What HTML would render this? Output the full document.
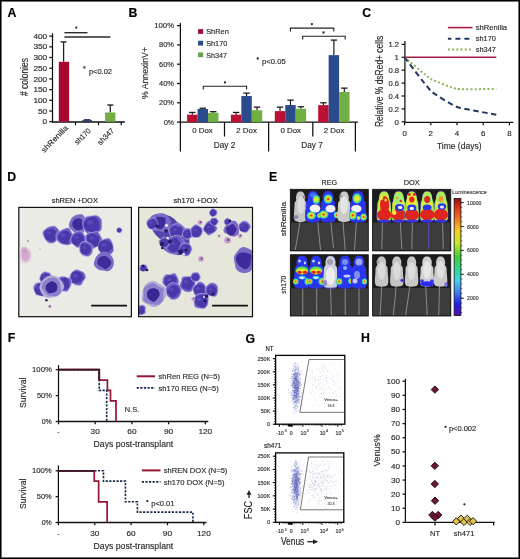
<!DOCTYPE html>
<html><head><meta charset="utf-8"><style>
html,body{margin:0;padding:0;background:#fff;}
body{width:520px;height:559px;overflow:hidden;}
svg{display:block;font-family:"Liberation Sans", sans-serif;will-change:transform;}
</style></head><body>
<svg width="520" height="559" viewBox="0 0 520 559">
<defs>
<filter id="b05" x="-50%" y="-50%" width="200%" height="200%"><feGaussianBlur stdDeviation="0.45"/></filter>
<filter id="b1" x="-50%" y="-50%" width="200%" height="200%"><feGaussianBlur stdDeviation="0.7"/></filter>
<filter id="b2" x="-50%" y="-50%" width="200%" height="200%"><feGaussianBlur stdDeviation="1.2"/></filter>
<filter id="b3" x="-50%" y="-50%" width="200%" height="200%"><feGaussianBlur stdDeviation="2"/></filter>
<clipPath id="cD1"><rect x="18.8" y="207.4" width="112.6" height="109.3"/></clipPath>
<clipPath id="cD2"><rect x="138.6" y="207.4" width="113.9" height="109.3"/></clipPath>
<clipPath id="cE1"><rect x="290.3" y="189.3" width="78" height="61.6"/></clipPath>
<clipPath id="cE2"><rect x="372.6" y="189.3" width="78.2" height="61.6"/></clipPath>
<clipPath id="cE3"><rect x="290.3" y="254.7" width="78" height="61.3"/></clipPath>
<clipPath id="cE4"><rect x="372.6" y="254.7" width="78.2" height="61.3"/></clipPath>
<linearGradient id="cbar" x1="0" y1="0" x2="0" y2="1">
<stop offset="0" stop-color="#8a1010"/><stop offset="0.06" stop-color="#d42a1a"/><stop offset="0.18" stop-color="#f07a20"/>
<stop offset="0.28" stop-color="#f5d020"/><stop offset="0.38" stop-color="#c8e628"/><stop offset="0.5" stop-color="#3ccf3a"/>
<stop offset="0.62" stop-color="#30d8a0"/><stop offset="0.7" stop-color="#40d0f0"/><stop offset="0.8" stop-color="#4080f0"/>
<stop offset="0.9" stop-color="#2020e8"/><stop offset="1" stop-color="#5010b0"/></linearGradient>
</defs>
<rect x="0" y="0" width="520" height="559" fill="#fff"/>
<text x="7.60" y="17.00" font-size="12.3" text-anchor="start" fill="#000" stroke="#000" stroke-width="0.15" font-weight="bold">A</text>
<text x="128.40" y="16.90" font-size="12.3" text-anchor="start" fill="#000" stroke="#000" stroke-width="0.15" font-weight="bold">B</text>
<text x="362.30" y="17.10" font-size="12.3" text-anchor="start" fill="#000" stroke="#000" stroke-width="0.15" font-weight="bold">C</text>
<text x="7.30" y="181.10" font-size="12.3" text-anchor="start" fill="#000" stroke="#000" stroke-width="0.15" font-weight="bold">D</text>
<text x="269.10" y="180.90" font-size="12.3" text-anchor="start" fill="#000" stroke="#000" stroke-width="0.15" font-weight="bold">E</text>
<text x="7.70" y="342.20" font-size="12.3" text-anchor="start" fill="#000" stroke="#000" stroke-width="0.15" font-weight="bold">F</text>
<text x="245.40" y="342.50" font-size="12.3" text-anchor="start" fill="#000" stroke="#000" stroke-width="0.15" font-weight="bold">G</text>
<text x="361.10" y="342.20" font-size="12.3" text-anchor="start" fill="#000" stroke="#000" stroke-width="0.15" font-weight="bold">H</text>
<line x1="52.50" y1="33.30" x2="52.50" y2="122.50" stroke="#111" stroke-width="1.25"/>
<line x1="49.30" y1="121.70" x2="52.50" y2="121.70" stroke="#111" stroke-width="1.25"/>
<text x="47.20" y="124.30" font-size="7.3" text-anchor="end" fill="#2a2a2a" stroke="#2a2a2a" stroke-width="0.15" textLength="4.60" lengthAdjust="spacingAndGlyphs">0</text>
<line x1="49.30" y1="111.00" x2="52.50" y2="111.00" stroke="#111" stroke-width="1.25"/>
<text x="47.20" y="113.60" font-size="7.3" text-anchor="end" fill="#2a2a2a" stroke="#2a2a2a" stroke-width="0.15" textLength="9.20" lengthAdjust="spacingAndGlyphs">50</text>
<line x1="49.30" y1="100.31" x2="52.50" y2="100.31" stroke="#111" stroke-width="1.25"/>
<text x="47.20" y="102.91" font-size="7.3" text-anchor="end" fill="#2a2a2a" stroke="#2a2a2a" stroke-width="0.15" textLength="13.80" lengthAdjust="spacingAndGlyphs">100</text>
<line x1="49.30" y1="89.62" x2="52.50" y2="89.62" stroke="#111" stroke-width="1.25"/>
<text x="47.20" y="92.22" font-size="7.3" text-anchor="end" fill="#2a2a2a" stroke="#2a2a2a" stroke-width="0.15" textLength="13.80" lengthAdjust="spacingAndGlyphs">150</text>
<line x1="49.30" y1="78.92" x2="52.50" y2="78.92" stroke="#111" stroke-width="1.25"/>
<text x="47.20" y="81.52" font-size="7.3" text-anchor="end" fill="#2a2a2a" stroke="#2a2a2a" stroke-width="0.15" textLength="13.80" lengthAdjust="spacingAndGlyphs">200</text>
<line x1="49.30" y1="68.22" x2="52.50" y2="68.22" stroke="#111" stroke-width="1.25"/>
<text x="47.20" y="70.82" font-size="7.3" text-anchor="end" fill="#2a2a2a" stroke="#2a2a2a" stroke-width="0.15" textLength="13.80" lengthAdjust="spacingAndGlyphs">250</text>
<line x1="49.30" y1="57.53" x2="52.50" y2="57.53" stroke="#111" stroke-width="1.25"/>
<text x="47.20" y="60.13" font-size="7.3" text-anchor="end" fill="#2a2a2a" stroke="#2a2a2a" stroke-width="0.15" textLength="13.80" lengthAdjust="spacingAndGlyphs">300</text>
<line x1="49.30" y1="46.83" x2="52.50" y2="46.83" stroke="#111" stroke-width="1.25"/>
<text x="47.20" y="49.43" font-size="7.3" text-anchor="end" fill="#2a2a2a" stroke="#2a2a2a" stroke-width="0.15" textLength="13.80" lengthAdjust="spacingAndGlyphs">350</text>
<line x1="49.30" y1="36.14" x2="52.50" y2="36.14" stroke="#111" stroke-width="1.25"/>
<text x="47.20" y="38.74" font-size="7.3" text-anchor="end" fill="#2a2a2a" stroke="#2a2a2a" stroke-width="0.15" textLength="13.80" lengthAdjust="spacingAndGlyphs">400</text>
<line x1="52.00" y1="122.00" x2="124.80" y2="122.00" stroke="#111" stroke-width="1.4"/>
<line x1="75.50" y1="122.00" x2="75.50" y2="125.20" stroke="#111" stroke-width="1.25"/>
<line x1="98.50" y1="122.00" x2="98.50" y2="125.20" stroke="#111" stroke-width="1.25"/>
<line x1="121.30" y1="122.00" x2="121.30" y2="125.20" stroke="#111" stroke-width="1.25"/>
<line x1="63.60" y1="41.92" x2="63.60" y2="61.81" stroke="#222" stroke-width="1.3"/>
<line x1="60.60" y1="41.92" x2="66.60" y2="41.92" stroke="#222" stroke-width="1.4"/>
<rect x="58.80" y="61.81" width="10.30" height="59.89" fill="#A8082E"/>
<rect x="82.20" y="120.20" width="9.80" height="1.50" fill="#1E2F5C"/>
<line x1="83.80" y1="119.77" x2="90.40" y2="119.77" stroke="#1E2F5C" stroke-width="1.3"/>
<line x1="110.30" y1="105.02" x2="110.30" y2="112.50" stroke="#222" stroke-width="1.3"/>
<line x1="107.30" y1="105.02" x2="113.30" y2="105.02" stroke="#222" stroke-width="1.4"/>
<rect x="105.10" y="112.50" width="10.30" height="9.20" fill="#72AE45"/>
<line x1="64.40" y1="32.70" x2="87.50" y2="32.70" stroke="#2a2a2a" stroke-width="1.35"/>
<line x1="64.40" y1="37.00" x2="110.50" y2="37.00" stroke="#2a2a2a" stroke-width="1.5"/>
<circle cx="76.3" cy="27.6" r="1.1" fill="#222"/>
<text x="84.30" y="70.60" font-size="7" text-anchor="middle" fill="#222" stroke="#222" stroke-width="0.15">*</text>
<text x="88.90" y="73.80" font-size="7.5" text-anchor="start" fill="#2a2a2a" stroke="#2a2a2a" stroke-width="0.15" textLength="23.10" lengthAdjust="spacingAndGlyphs">p&lt;0.02</text>
<text x="68.60" y="128.50" font-size="7.6" text-anchor="end" fill="#2a2a2a" stroke="#2a2a2a" stroke-width="0.15" textLength="34.50" lengthAdjust="spacingAndGlyphs" transform="rotate(-45 68.60 128.50)">shRenilla</text>
<text x="91.40" y="131.30" font-size="7.6" text-anchor="end" fill="#2a2a2a" stroke="#2a2a2a" stroke-width="0.15" textLength="19.50" lengthAdjust="spacingAndGlyphs" transform="rotate(-45 91.40 131.30)">sh170</text>
<text x="114.60" y="131.30" font-size="7.6" text-anchor="end" fill="#2a2a2a" stroke="#2a2a2a" stroke-width="0.15" textLength="20.00" lengthAdjust="spacingAndGlyphs" transform="rotate(-45 114.60 131.30)">sh347</text>
<text x="28.30" y="77.00" font-size="10" text-anchor="middle" fill="#2a2a2a" stroke="#2a2a2a" stroke-width="0.15" textLength="38.10" lengthAdjust="spacingAndGlyphs" transform="rotate(-90 28.30 77.00)"># colonies</text>
<line x1="180.40" y1="22.90" x2="180.40" y2="151.50" stroke="#111" stroke-width="1.25"/>
<line x1="177.00" y1="122.10" x2="180.40" y2="122.10" stroke="#111" stroke-width="1.25"/>
<text x="174.00" y="124.60" font-size="7.4" text-anchor="end" fill="#2a2a2a" stroke="#2a2a2a" stroke-width="0.15" textLength="10.05" lengthAdjust="spacingAndGlyphs">0%</text>
<line x1="177.00" y1="102.80" x2="180.40" y2="102.80" stroke="#111" stroke-width="1.25"/>
<text x="174.00" y="105.30" font-size="7.4" text-anchor="end" fill="#2a2a2a" stroke="#2a2a2a" stroke-width="0.15" textLength="14.90" lengthAdjust="spacingAndGlyphs">20%</text>
<line x1="177.00" y1="83.50" x2="180.40" y2="83.50" stroke="#111" stroke-width="1.25"/>
<text x="174.00" y="86.00" font-size="7.4" text-anchor="end" fill="#2a2a2a" stroke="#2a2a2a" stroke-width="0.15" textLength="14.90" lengthAdjust="spacingAndGlyphs">40%</text>
<line x1="177.00" y1="64.20" x2="180.40" y2="64.20" stroke="#111" stroke-width="1.25"/>
<text x="174.00" y="66.70" font-size="7.4" text-anchor="end" fill="#2a2a2a" stroke="#2a2a2a" stroke-width="0.15" textLength="14.90" lengthAdjust="spacingAndGlyphs">60%</text>
<line x1="177.00" y1="44.90" x2="180.40" y2="44.90" stroke="#111" stroke-width="1.25"/>
<text x="174.00" y="47.40" font-size="7.4" text-anchor="end" fill="#2a2a2a" stroke="#2a2a2a" stroke-width="0.15" textLength="14.90" lengthAdjust="spacingAndGlyphs">80%</text>
<line x1="177.00" y1="25.60" x2="180.40" y2="25.60" stroke="#111" stroke-width="1.25"/>
<text x="174.00" y="28.10" font-size="7.4" text-anchor="end" fill="#2a2a2a" stroke="#2a2a2a" stroke-width="0.15" textLength="19.75" lengthAdjust="spacingAndGlyphs">100%</text>
<line x1="179.90" y1="122.10" x2="358.00" y2="122.10" stroke="#111" stroke-width="1.35"/>
<line x1="224.50" y1="122.00" x2="224.50" y2="136.50" stroke="#111" stroke-width="1.25"/>
<line x1="312.80" y1="122.00" x2="312.80" y2="136.50" stroke="#111" stroke-width="1.25"/>
<line x1="268.60" y1="122.00" x2="268.60" y2="151.50" stroke="#111" stroke-width="1.25"/>
<line x1="355.40" y1="122.00" x2="355.40" y2="151.50" stroke="#111" stroke-width="1.25"/>
<line x1="192.32" y1="112.45" x2="192.32" y2="114.67" stroke="#1a1a1a" stroke-width="1.2"/>
<line x1="189.12" y1="112.45" x2="195.52" y2="112.45" stroke="#1a1a1a" stroke-width="1.3"/>
<rect x="187.10" y="114.67" width="10.45" height="7.43" fill="#BC0F35"/>
<line x1="202.77" y1="108.20" x2="202.77" y2="108.98" stroke="#1a1a1a" stroke-width="1.2"/>
<line x1="199.57" y1="108.20" x2="205.97" y2="108.20" stroke="#1a1a1a" stroke-width="1.3"/>
<rect x="197.55" y="108.98" width="10.45" height="13.12" fill="#2A4C8C"/>
<line x1="213.22" y1="111.68" x2="213.22" y2="112.84" stroke="#1a1a1a" stroke-width="1.2"/>
<line x1="210.03" y1="111.68" x2="216.42" y2="111.68" stroke="#1a1a1a" stroke-width="1.3"/>
<rect x="208.00" y="112.84" width="10.45" height="9.26" fill="#70B043"/>
<line x1="236.12" y1="112.45" x2="236.12" y2="114.67" stroke="#1a1a1a" stroke-width="1.2"/>
<line x1="232.93" y1="112.45" x2="239.32" y2="112.45" stroke="#1a1a1a" stroke-width="1.3"/>
<rect x="230.90" y="114.67" width="10.45" height="7.43" fill="#BC0F35"/>
<line x1="246.57" y1="93.15" x2="246.57" y2="96.04" stroke="#1a1a1a" stroke-width="1.2"/>
<line x1="243.38" y1="93.15" x2="249.77" y2="93.15" stroke="#1a1a1a" stroke-width="1.3"/>
<rect x="241.35" y="96.04" width="10.45" height="26.06" fill="#2A4C8C"/>
<line x1="257.03" y1="107.14" x2="257.03" y2="110.23" stroke="#1a1a1a" stroke-width="1.2"/>
<line x1="253.83" y1="107.14" x2="260.23" y2="107.14" stroke="#1a1a1a" stroke-width="1.3"/>
<rect x="251.80" y="110.23" width="10.45" height="11.87" fill="#70B043"/>
<line x1="280.03" y1="107.14" x2="280.03" y2="111.10" stroke="#1a1a1a" stroke-width="1.2"/>
<line x1="276.83" y1="107.14" x2="283.23" y2="107.14" stroke="#1a1a1a" stroke-width="1.3"/>
<rect x="274.80" y="111.10" width="10.45" height="11.00" fill="#BC0F35"/>
<line x1="290.48" y1="100.10" x2="290.48" y2="105.02" stroke="#1a1a1a" stroke-width="1.2"/>
<line x1="287.28" y1="100.10" x2="293.68" y2="100.10" stroke="#1a1a1a" stroke-width="1.3"/>
<rect x="285.25" y="105.02" width="10.45" height="17.08" fill="#2A4C8C"/>
<line x1="300.93" y1="106.76" x2="300.93" y2="108.78" stroke="#1a1a1a" stroke-width="1.2"/>
<line x1="297.73" y1="106.76" x2="304.12" y2="106.76" stroke="#1a1a1a" stroke-width="1.3"/>
<rect x="295.70" y="108.78" width="10.45" height="13.32" fill="#70B043"/>
<line x1="323.43" y1="102.80" x2="323.43" y2="105.12" stroke="#1a1a1a" stroke-width="1.2"/>
<line x1="320.23" y1="102.80" x2="326.62" y2="102.80" stroke="#1a1a1a" stroke-width="1.3"/>
<rect x="318.20" y="105.12" width="10.45" height="16.98" fill="#BC0F35"/>
<line x1="333.88" y1="40.08" x2="333.88" y2="55.13" stroke="#1a1a1a" stroke-width="1.2"/>
<line x1="330.68" y1="40.08" x2="337.07" y2="40.08" stroke="#1a1a1a" stroke-width="1.3"/>
<rect x="328.65" y="55.13" width="10.45" height="66.97" fill="#2A4C8C"/>
<line x1="344.32" y1="88.13" x2="344.32" y2="91.99" stroke="#1a1a1a" stroke-width="1.2"/>
<line x1="341.12" y1="88.13" x2="347.52" y2="88.13" stroke="#1a1a1a" stroke-width="1.3"/>
<rect x="339.10" y="91.99" width="10.45" height="30.11" fill="#70B043"/>
<path d="M203.3,89.60000000000001 L203.3,86.2 L246.6,86.2 L246.6,89.60000000000001" stroke="#222" stroke-width="1.1" fill="none"/>
<circle cx="225" cy="82.4" r="1.15" fill="#222"/>
<path d="M290.4,31.5 L290.4,28.1 L333.8,28.1 L333.8,31.5" stroke="#222" stroke-width="1.1" fill="none"/>
<circle cx="311.9" cy="24.1" r="1.15" fill="#222"/>
<path d="M302.7,39.6 L302.7,36.2 L345.2,36.2 L345.2,39.6" stroke="#222" stroke-width="1.1" fill="none"/>
<circle cx="323.5" cy="32.5" r="1.15" fill="#222"/>
<text x="202.45" y="132.50" font-size="7.6" text-anchor="middle" fill="#2a2a2a" stroke="#2a2a2a" stroke-width="0.15" textLength="20.60" lengthAdjust="spacingAndGlyphs">0 Dox</text>
<text x="246.55" y="132.50" font-size="7.6" text-anchor="middle" fill="#2a2a2a" stroke="#2a2a2a" stroke-width="0.15" textLength="20.60" lengthAdjust="spacingAndGlyphs">2 Dox</text>
<text x="290.70" y="132.50" font-size="7.6" text-anchor="middle" fill="#2a2a2a" stroke="#2a2a2a" stroke-width="0.15" textLength="20.60" lengthAdjust="spacingAndGlyphs">0 Dox</text>
<text x="334.10" y="132.50" font-size="7.6" text-anchor="middle" fill="#2a2a2a" stroke="#2a2a2a" stroke-width="0.15" textLength="20.60" lengthAdjust="spacingAndGlyphs">2 Dox</text>
<text x="224.50" y="148.40" font-size="9.2" text-anchor="middle" fill="#2a2a2a" stroke="#2a2a2a" stroke-width="0.15" textLength="21.60" lengthAdjust="spacingAndGlyphs">Day 2</text>
<text x="312.00" y="148.40" font-size="9.2" text-anchor="middle" fill="#2a2a2a" stroke="#2a2a2a" stroke-width="0.15" textLength="21.60" lengthAdjust="spacingAndGlyphs">Day 7</text>
<rect x="198.10" y="29.10" width="5.00" height="4.80" fill="#A01034"/>
<text x="206.20" y="34.20" font-size="7.6" text-anchor="start" fill="#2a2a2a" stroke="#2a2a2a" stroke-width="0.15" textLength="22.60" lengthAdjust="spacingAndGlyphs">ShRen</text>
<rect x="198.10" y="40.75" width="5.00" height="4.80" fill="#2A4A82"/>
<text x="206.20" y="45.85" font-size="7.6" text-anchor="start" fill="#2a2a2a" stroke="#2a2a2a" stroke-width="0.15" textLength="21.10" lengthAdjust="spacingAndGlyphs">Sh170</text>
<rect x="198.10" y="52.40" width="5.00" height="4.80" fill="#64A048"/>
<text x="206.20" y="57.50" font-size="7.6" text-anchor="start" fill="#2a2a2a" stroke="#2a2a2a" stroke-width="0.15" textLength="20.70" lengthAdjust="spacingAndGlyphs">Sh347</text>
<text x="148.20" y="73.00" font-size="8.9" text-anchor="middle" fill="#2a2a2a" stroke="#2a2a2a" stroke-width="0.15" textLength="51.80" lengthAdjust="spacingAndGlyphs" transform="rotate(-90 148.20 73.00)">% AnnexinV+</text>
<circle cx="257.7" cy="58.5" r="1.15" fill="#222"/>
<text x="262.00" y="63.90" font-size="7.6" text-anchor="start" fill="#2a2a2a" stroke="#2a2a2a" stroke-width="0.15" textLength="23.80" lengthAdjust="spacingAndGlyphs">p&lt;0.05</text>
<line x1="404.90" y1="41.00" x2="404.90" y2="122.60" stroke="#111" stroke-width="1.25"/>
<line x1="401.60" y1="121.80" x2="404.90" y2="121.80" stroke="#111" stroke-width="1.25"/>
<text x="399.00" y="124.50" font-size="7.8" text-anchor="end" fill="#2a2a2a" stroke="#2a2a2a" stroke-width="0.15" textLength="4.40" lengthAdjust="spacingAndGlyphs">0</text>
<line x1="401.60" y1="108.90" x2="404.90" y2="108.90" stroke="#111" stroke-width="1.25"/>
<text x="399.00" y="111.60" font-size="7.8" text-anchor="end" fill="#2a2a2a" stroke="#2a2a2a" stroke-width="0.15" textLength="10.60" lengthAdjust="spacingAndGlyphs">0.2</text>
<line x1="401.60" y1="96.00" x2="404.90" y2="96.00" stroke="#111" stroke-width="1.25"/>
<text x="399.00" y="98.70" font-size="7.8" text-anchor="end" fill="#2a2a2a" stroke="#2a2a2a" stroke-width="0.15" textLength="10.60" lengthAdjust="spacingAndGlyphs">0.4</text>
<line x1="401.60" y1="83.10" x2="404.90" y2="83.10" stroke="#111" stroke-width="1.25"/>
<text x="399.00" y="85.80" font-size="7.8" text-anchor="end" fill="#2a2a2a" stroke="#2a2a2a" stroke-width="0.15" textLength="10.60" lengthAdjust="spacingAndGlyphs">0.6</text>
<line x1="401.60" y1="70.20" x2="404.90" y2="70.20" stroke="#111" stroke-width="1.25"/>
<text x="399.00" y="72.90" font-size="7.8" text-anchor="end" fill="#2a2a2a" stroke="#2a2a2a" stroke-width="0.15" textLength="10.60" lengthAdjust="spacingAndGlyphs">0.8</text>
<line x1="401.60" y1="57.30" x2="404.90" y2="57.30" stroke="#111" stroke-width="1.25"/>
<text x="399.00" y="60.00" font-size="7.8" text-anchor="end" fill="#2a2a2a" stroke="#2a2a2a" stroke-width="0.15" textLength="4.40" lengthAdjust="spacingAndGlyphs">1</text>
<line x1="401.60" y1="44.40" x2="404.90" y2="44.40" stroke="#111" stroke-width="1.25"/>
<text x="399.00" y="47.10" font-size="7.8" text-anchor="end" fill="#2a2a2a" stroke="#2a2a2a" stroke-width="0.15" textLength="10.60" lengthAdjust="spacingAndGlyphs">1.2</text>
<line x1="404.30" y1="122.30" x2="513.30" y2="122.30" stroke="#111" stroke-width="1.35"/>
<line x1="404.60" y1="122.30" x2="404.60" y2="125.30" stroke="#111" stroke-width="1.25"/>
<text x="404.60" y="135.50" font-size="7.8" text-anchor="middle" fill="#2a2a2a" stroke="#2a2a2a" stroke-width="0.15" textLength="4.40" lengthAdjust="spacingAndGlyphs">0</text>
<line x1="430.80" y1="122.30" x2="430.80" y2="125.30" stroke="#111" stroke-width="1.25"/>
<text x="430.80" y="135.50" font-size="7.8" text-anchor="middle" fill="#2a2a2a" stroke="#2a2a2a" stroke-width="0.15" textLength="4.40" lengthAdjust="spacingAndGlyphs">2</text>
<line x1="457.00" y1="122.30" x2="457.00" y2="125.30" stroke="#111" stroke-width="1.25"/>
<text x="457.00" y="135.50" font-size="7.8" text-anchor="middle" fill="#2a2a2a" stroke="#2a2a2a" stroke-width="0.15" textLength="4.40" lengthAdjust="spacingAndGlyphs">4</text>
<line x1="483.20" y1="122.30" x2="483.20" y2="125.30" stroke="#111" stroke-width="1.25"/>
<text x="483.20" y="135.50" font-size="7.8" text-anchor="middle" fill="#2a2a2a" stroke="#2a2a2a" stroke-width="0.15" textLength="4.40" lengthAdjust="spacingAndGlyphs">6</text>
<line x1="509.40" y1="122.30" x2="509.40" y2="125.30" stroke="#111" stroke-width="1.25"/>
<text x="509.40" y="135.50" font-size="7.8" text-anchor="middle" fill="#2a2a2a" stroke="#2a2a2a" stroke-width="0.15" textLength="4.40" lengthAdjust="spacingAndGlyphs">8</text>
<text x="459.20" y="149.00" font-size="9.4" text-anchor="middle" fill="#2a2a2a" stroke="#2a2a2a" stroke-width="0.15" textLength="44.60" lengthAdjust="spacingAndGlyphs">Time (days)</text>
<text x="382.60" y="81.40" font-size="10.4" text-anchor="middle" fill="#2a2a2a" stroke="#2a2a2a" stroke-width="0.15" textLength="91.40" lengthAdjust="spacingAndGlyphs" transform="rotate(-90 382.60 81.40)">Relative % dsRed+ cells</text>
<line x1="404.90" y1="57.30" x2="496.30" y2="57.30" stroke="#A31A43" stroke-width="1.6"/>
<path d="M404.60,57.30 C406.35,58.74 427.31,76.80 430.80,78.91 C434.29,81.01 452.63,88.24 457.00,88.91 C461.37,89.57 493.68,88.91 496.30,88.91" stroke="#8DB35E" stroke-width="2.0" fill="none" stroke-dasharray="2 2.2"/>
<path d="M404.60,57.30 C406.35,59.54 427.31,87.53 430.80,90.84 C434.29,94.15 452.63,105.37 457.00,106.97 C461.37,108.56 493.68,114.19 496.30,114.70" stroke="#22385F" stroke-width="2.0" fill="none" stroke-dasharray="5.5 3.5"/>
<line x1="447.90" y1="27.60" x2="472.50" y2="27.60" stroke="#A31A43" stroke-width="1.6"/>
<line x1="447.90" y1="38.80" x2="472.50" y2="38.80" stroke="#22385F" stroke-width="2.0" stroke-dasharray="3.5 4 5 4 5 4"/>
<line x1="447.90" y1="49.60" x2="472.50" y2="49.60" stroke="#8DB35E" stroke-width="2.0" stroke-dasharray="2 2.2"/>
<text x="475.80" y="29.80" font-size="7.6" text-anchor="start" fill="#2a2a2a" stroke="#2a2a2a" stroke-width="0.15" textLength="31.30" lengthAdjust="spacingAndGlyphs">shRenilla</text>
<text x="475.80" y="41.20" font-size="7.6" text-anchor="start" fill="#2a2a2a" stroke="#2a2a2a" stroke-width="0.15" textLength="20.20" lengthAdjust="spacingAndGlyphs">sh170</text>
<text x="475.80" y="52.00" font-size="7.6" text-anchor="start" fill="#2a2a2a" stroke="#2a2a2a" stroke-width="0.15" textLength="20.20" lengthAdjust="spacingAndGlyphs">sh347</text>
<line x1="58.50" y1="365.10" x2="58.50" y2="422.00" stroke="#111" stroke-width="1.25"/>
<line x1="55.70" y1="421.50" x2="58.50" y2="421.50" stroke="#111" stroke-width="1.25"/>
<text x="51.80" y="424.00" font-size="7.4" text-anchor="end" fill="#2a2a2a" stroke="#2a2a2a" stroke-width="0.15" textLength="10.05" lengthAdjust="spacingAndGlyphs">0%</text>
<line x1="55.70" y1="395.60" x2="58.50" y2="395.60" stroke="#111" stroke-width="1.25"/>
<text x="51.80" y="398.10" font-size="7.4" text-anchor="end" fill="#2a2a2a" stroke="#2a2a2a" stroke-width="0.15" textLength="14.90" lengthAdjust="spacingAndGlyphs">50%</text>
<line x1="55.70" y1="369.70" x2="58.50" y2="369.70" stroke="#111" stroke-width="1.25"/>
<text x="51.80" y="372.20" font-size="7.4" text-anchor="end" fill="#2a2a2a" stroke="#2a2a2a" stroke-width="0.15" textLength="19.75" lengthAdjust="spacingAndGlyphs">100%</text>
<line x1="58.00" y1="421.50" x2="208.30" y2="421.50" stroke="#111" stroke-width="1.35"/>
<line x1="58.50" y1="421.50" x2="58.50" y2="424.30" stroke="#111" stroke-width="1.25"/>
<text x="58.50" y="433.60" font-size="7.4" text-anchor="middle" fill="#2a2a2a" stroke="#2a2a2a" stroke-width="0.15">-</text>
<line x1="95.20" y1="421.50" x2="95.20" y2="424.30" stroke="#111" stroke-width="1.25"/>
<text x="95.20" y="433.60" font-size="7.4" text-anchor="middle" fill="#2a2a2a" stroke="#2a2a2a" stroke-width="0.15" textLength="9.20" lengthAdjust="spacingAndGlyphs">30</text>
<line x1="131.90" y1="421.50" x2="131.90" y2="424.30" stroke="#111" stroke-width="1.25"/>
<text x="131.90" y="433.60" font-size="7.4" text-anchor="middle" fill="#2a2a2a" stroke="#2a2a2a" stroke-width="0.15" textLength="9.20" lengthAdjust="spacingAndGlyphs">60</text>
<line x1="168.60" y1="421.50" x2="168.60" y2="424.30" stroke="#111" stroke-width="1.25"/>
<text x="168.60" y="433.60" font-size="7.4" text-anchor="middle" fill="#2a2a2a" stroke="#2a2a2a" stroke-width="0.15" textLength="9.20" lengthAdjust="spacingAndGlyphs">90</text>
<line x1="205.30" y1="421.50" x2="205.30" y2="424.30" stroke="#111" stroke-width="1.25"/>
<text x="205.30" y="433.60" font-size="7.4" text-anchor="middle" fill="#2a2a2a" stroke="#2a2a2a" stroke-width="0.15" textLength="13.80" lengthAdjust="spacingAndGlyphs">120</text>
<text x="133.40" y="447.40" font-size="9.5" text-anchor="middle" fill="#2a2a2a" stroke="#2a2a2a" stroke-width="0.15" textLength="79.60" lengthAdjust="spacingAndGlyphs">Days post-transplant</text>
<text x="25.60" y="392.80" font-size="9.2" text-anchor="middle" fill="#2a2a2a" stroke="#2a2a2a" stroke-width="0.15" textLength="30.40" lengthAdjust="spacingAndGlyphs" transform="rotate(-90 25.60 392.80)">Survival</text>
<line x1="58.40" y1="465.40" x2="58.40" y2="523.00" stroke="#111" stroke-width="1.25"/>
<line x1="55.60" y1="522.50" x2="58.40" y2="522.50" stroke="#111" stroke-width="1.25"/>
<text x="51.70" y="525.00" font-size="7.4" text-anchor="end" fill="#2a2a2a" stroke="#2a2a2a" stroke-width="0.15" textLength="10.05" lengthAdjust="spacingAndGlyphs">0%</text>
<line x1="55.60" y1="496.65" x2="58.40" y2="496.65" stroke="#111" stroke-width="1.25"/>
<text x="51.70" y="499.15" font-size="7.4" text-anchor="end" fill="#2a2a2a" stroke="#2a2a2a" stroke-width="0.15" textLength="14.90" lengthAdjust="spacingAndGlyphs">50%</text>
<line x1="55.60" y1="470.80" x2="58.40" y2="470.80" stroke="#111" stroke-width="1.25"/>
<text x="51.70" y="473.30" font-size="7.4" text-anchor="end" fill="#2a2a2a" stroke="#2a2a2a" stroke-width="0.15" textLength="19.75" lengthAdjust="spacingAndGlyphs">100%</text>
<line x1="57.90" y1="522.50" x2="206.50" y2="522.50" stroke="#111" stroke-width="1.35"/>
<line x1="58.40" y1="522.50" x2="58.40" y2="525.30" stroke="#111" stroke-width="1.25"/>
<text x="58.40" y="535.90" font-size="7.4" text-anchor="middle" fill="#2a2a2a" stroke="#2a2a2a" stroke-width="0.15">-</text>
<line x1="94.76" y1="522.50" x2="94.76" y2="525.30" stroke="#111" stroke-width="1.25"/>
<text x="94.76" y="535.90" font-size="7.4" text-anchor="middle" fill="#2a2a2a" stroke="#2a2a2a" stroke-width="0.15" textLength="9.20" lengthAdjust="spacingAndGlyphs">30</text>
<line x1="131.12" y1="522.50" x2="131.12" y2="525.30" stroke="#111" stroke-width="1.25"/>
<text x="131.12" y="535.90" font-size="7.4" text-anchor="middle" fill="#2a2a2a" stroke="#2a2a2a" stroke-width="0.15" textLength="9.20" lengthAdjust="spacingAndGlyphs">60</text>
<line x1="167.48" y1="522.50" x2="167.48" y2="525.30" stroke="#111" stroke-width="1.25"/>
<text x="167.48" y="535.90" font-size="7.4" text-anchor="middle" fill="#2a2a2a" stroke="#2a2a2a" stroke-width="0.15" textLength="9.20" lengthAdjust="spacingAndGlyphs">90</text>
<line x1="203.84" y1="522.50" x2="203.84" y2="525.30" stroke="#111" stroke-width="1.25"/>
<text x="203.84" y="535.90" font-size="7.4" text-anchor="middle" fill="#2a2a2a" stroke="#2a2a2a" stroke-width="0.15" textLength="13.80" lengthAdjust="spacingAndGlyphs">120</text>
<text x="133.40" y="549.40" font-size="9.5" text-anchor="middle" fill="#2a2a2a" stroke="#2a2a2a" stroke-width="0.15" textLength="79.60" lengthAdjust="spacingAndGlyphs">Days post-transplant</text>
<text x="25.60" y="493.85" font-size="9.2" text-anchor="middle" fill="#2a2a2a" stroke="#2a2a2a" stroke-width="0.15" textLength="30.40" lengthAdjust="spacingAndGlyphs" transform="rotate(-90 25.60 493.85)">Survival</text>
<path d="M58.50,369.70 L99.24,369.70 L99.24,380.06 L107.43,380.06 L107.43,390.42 L110.49,390.42 L110.49,400.78 L116.00,400.78 L116.00,421.50" stroke="#931538" stroke-width="1.7" fill="none"/>
<path d="M58.50,369.70 L99.24,369.70 L99.24,390.42 L106.70,390.42 L106.70,421.50" stroke="#18284a" stroke-width="1.6" fill="none" stroke-dasharray="2.2 1.4"/>
<path d="M58.40,470.80 L94.28,470.80 L94.28,481.14 L98.64,481.14 L98.64,501.82 L107.12,501.82 L107.12,522.50" stroke="#931538" stroke-width="1.7" fill="none"/>
<path d="M58.40,470.80 L103.49,470.80 L103.49,481.14 L125.42,481.14 L125.42,501.82 L137.42,501.82 L137.42,512.16 L192.93,512.16 L192.93,522.50" stroke="#18284a" stroke-width="1.6" fill="none" stroke-dasharray="2.2 1.4"/>
<path d="M58.50,369.70 L99.24,369.70 L99.24,380.06" stroke="#3a1426" stroke-width="1.7" fill="none"/>
<path d="M58.40,470.80 L94.28,470.80" stroke="#3a1426" stroke-width="1.7" fill="none"/>
<line x1="136.70" y1="376.30" x2="155.00" y2="376.30" stroke="#931538" stroke-width="2.0"/>
<line x1="136.70" y1="387.90" x2="155.00" y2="387.90" stroke="#18284a" stroke-width="1.6" stroke-dasharray="2.2 1.4"/>
<text x="158.50" y="379.20" font-size="7.6" text-anchor="start" fill="#2a2a2a" stroke="#2a2a2a" stroke-width="0.15" textLength="61.50" lengthAdjust="spacingAndGlyphs">shRen REG (N=5)</text>
<text x="158.50" y="390.60" font-size="7.6" text-anchor="start" fill="#2a2a2a" stroke="#2a2a2a" stroke-width="0.15" textLength="60.30" lengthAdjust="spacingAndGlyphs">sh170 REG (N=5)</text>
<text x="124.80" y="412.30" font-size="7.6" text-anchor="start" fill="#2a2a2a" stroke="#2a2a2a" stroke-width="0.15" textLength="14.40" lengthAdjust="spacingAndGlyphs">N.S.</text>
<line x1="141.80" y1="470.40" x2="160.50" y2="470.40" stroke="#931538" stroke-width="2.0"/>
<line x1="141.80" y1="481.90" x2="160.50" y2="481.90" stroke="#18284a" stroke-width="1.6" stroke-dasharray="2.2 1.4"/>
<text x="163.80" y="473.30" font-size="7.6" text-anchor="start" fill="#2a2a2a" stroke="#2a2a2a" stroke-width="0.15" textLength="63.60" lengthAdjust="spacingAndGlyphs">shREN DOX (N=5)</text>
<text x="163.80" y="484.80" font-size="7.6" text-anchor="start" fill="#2a2a2a" stroke="#2a2a2a" stroke-width="0.15" textLength="60.70" lengthAdjust="spacingAndGlyphs">sh170 DOX (N=5)</text>
<circle cx="147.3" cy="501.1" r="1.15" fill="#222"/>
<text x="151.30" y="505.70" font-size="7.6" text-anchor="start" fill="#2a2a2a" stroke="#2a2a2a" stroke-width="0.15" textLength="23.10" lengthAdjust="spacingAndGlyphs">p&lt;0.01</text>
<g fill="#5a64b8" fill-opacity="0.33"><rect x="292.8" y="389.8" width="0.9" height="0.9"/><rect x="297.9" y="380.4" width="0.9" height="0.9"/><rect x="292.5" y="385.1" width="0.9" height="0.9"/><rect x="296.7" y="397.3" width="0.9" height="0.9"/><rect x="292.8" y="372.2" width="0.9" height="0.9"/><rect x="297.2" y="390.8" width="0.9" height="0.9"/><rect x="299.1" y="396.1" width="0.9" height="0.9"/><rect x="295.4" y="382.9" width="0.9" height="0.9"/><rect x="293.8" y="373.8" width="0.9" height="0.9"/><rect x="295.8" y="387.3" width="0.9" height="0.9"/><rect x="294.8" y="385.1" width="0.9" height="0.9"/><rect x="296.2" y="393.1" width="0.9" height="0.9"/><rect x="298.1" y="388.0" width="0.9" height="0.9"/><rect x="291.5" y="393.2" width="0.9" height="0.9"/><rect x="292.3" y="384.0" width="0.9" height="0.9"/><rect x="292.2" y="385.8" width="0.9" height="0.9"/><rect x="293.8" y="388.0" width="0.9" height="0.9"/><rect x="297.5" y="371.9" width="0.9" height="0.9"/><rect x="294.9" y="392.8" width="0.9" height="0.9"/><rect x="295.4" y="389.7" width="0.9" height="0.9"/><rect x="295.8" y="375.2" width="0.9" height="0.9"/><rect x="296.9" y="377.3" width="0.9" height="0.9"/><rect x="299.9" y="380.5" width="0.9" height="0.9"/><rect x="297.2" y="385.8" width="0.9" height="0.9"/><rect x="297.8" y="379.5" width="0.9" height="0.9"/><rect x="297.9" y="384.5" width="0.9" height="0.9"/><rect x="298.5" y="392.4" width="0.9" height="0.9"/><rect x="295.9" y="377.6" width="0.9" height="0.9"/><rect x="297.4" y="390.7" width="0.9" height="0.9"/><rect x="299.4" y="381.8" width="0.9" height="0.9"/><rect x="296.9" y="391.1" width="0.9" height="0.9"/><rect x="296.3" y="388.0" width="0.9" height="0.9"/><rect x="296.0" y="379.5" width="0.9" height="0.9"/><rect x="293.3" y="381.6" width="0.9" height="0.9"/><rect x="297.0" y="401.7" width="0.9" height="0.9"/><rect x="297.8" y="396.9" width="0.9" height="0.9"/><rect x="297.4" y="393.1" width="0.9" height="0.9"/><rect x="296.0" y="393.9" width="0.9" height="0.9"/><rect x="299.7" y="382.4" width="0.9" height="0.9"/><rect x="294.0" y="406.4" width="0.9" height="0.9"/><rect x="296.2" y="396.0" width="0.9" height="0.9"/><rect x="297.6" y="373.9" width="0.9" height="0.9"/><rect x="301.2" y="404.4" width="0.9" height="0.9"/><rect x="296.0" y="393.7" width="0.9" height="0.9"/><rect x="295.9" y="376.5" width="0.9" height="0.9"/><rect x="295.3" y="389.7" width="0.9" height="0.9"/><rect x="298.2" y="393.2" width="0.9" height="0.9"/><rect x="295.7" y="400.0" width="0.9" height="0.9"/><rect x="293.9" y="394.1" width="0.9" height="0.9"/><rect x="298.2" y="382.7" width="0.9" height="0.9"/><rect x="291.5" y="376.3" width="0.9" height="0.9"/><rect x="296.1" y="391.3" width="0.9" height="0.9"/><rect x="299.2" y="375.3" width="0.9" height="0.9"/><rect x="295.6" y="392.6" width="0.9" height="0.9"/><rect x="297.5" y="410.1" width="0.9" height="0.9"/><rect x="297.9" y="376.2" width="0.9" height="0.9"/><rect x="294.7" y="388.1" width="0.9" height="0.9"/><rect x="301.3" y="392.3" width="0.9" height="0.9"/><rect x="295.9" y="402.2" width="0.9" height="0.9"/><rect x="295.4" y="405.3" width="0.9" height="0.9"/><rect x="294.0" y="380.8" width="0.9" height="0.9"/><rect x="297.3" y="400.8" width="0.9" height="0.9"/><rect x="297.1" y="389.0" width="0.9" height="0.9"/><rect x="291.4" y="378.3" width="0.9" height="0.9"/><rect x="294.2" y="380.2" width="0.9" height="0.9"/><rect x="296.9" y="382.3" width="0.9" height="0.9"/><rect x="297.4" y="386.7" width="0.9" height="0.9"/><rect x="294.8" y="387.0" width="0.9" height="0.9"/><rect x="296.6" y="394.8" width="0.9" height="0.9"/><rect x="294.5" y="383.4" width="0.9" height="0.9"/><rect x="292.5" y="402.6" width="0.9" height="0.9"/><rect x="298.9" y="383.9" width="0.9" height="0.9"/><rect x="294.5" y="372.8" width="0.9" height="0.9"/><rect x="296.0" y="388.0" width="0.9" height="0.9"/><rect x="300.6" y="388.4" width="0.9" height="0.9"/><rect x="298.8" y="387.8" width="0.9" height="0.9"/><rect x="291.9" y="387.7" width="0.9" height="0.9"/><rect x="298.2" y="391.8" width="0.9" height="0.9"/><rect x="295.2" y="363.3" width="0.9" height="0.9"/><rect x="295.3" y="369.5" width="0.9" height="0.9"/><rect x="297.0" y="363.3" width="0.9" height="0.9"/><rect x="293.5" y="398.6" width="0.9" height="0.9"/><rect x="299.4" y="373.4" width="0.9" height="0.9"/><rect x="292.1" y="395.0" width="0.9" height="0.9"/><rect x="297.6" y="375.4" width="0.9" height="0.9"/><rect x="294.0" y="378.5" width="0.9" height="0.9"/><rect x="292.9" y="378.7" width="0.9" height="0.9"/><rect x="298.5" y="393.0" width="0.9" height="0.9"/><rect x="300.3" y="384.9" width="0.9" height="0.9"/><rect x="295.3" y="375.5" width="0.9" height="0.9"/><rect x="295.3" y="372.0" width="0.9" height="0.9"/><rect x="291.5" y="393.1" width="0.9" height="0.9"/><rect x="298.9" y="394.6" width="0.9" height="0.9"/><rect x="298.7" y="388.4" width="0.9" height="0.9"/><rect x="293.9" y="386.7" width="0.9" height="0.9"/><rect x="294.7" y="374.1" width="0.9" height="0.9"/><rect x="291.7" y="370.2" width="0.9" height="0.9"/><rect x="295.6" y="387.4" width="0.9" height="0.9"/><rect x="294.5" y="400.8" width="0.9" height="0.9"/><rect x="296.0" y="391.9" width="0.9" height="0.9"/><rect x="298.4" y="377.2" width="0.9" height="0.9"/><rect x="291.1" y="393.7" width="0.9" height="0.9"/><rect x="294.0" y="399.6" width="0.9" height="0.9"/><rect x="296.4" y="396.4" width="0.9" height="0.9"/><rect x="297.4" y="364.0" width="0.9" height="0.9"/><rect x="297.3" y="378.7" width="0.9" height="0.9"/><rect x="293.9" y="381.2" width="0.9" height="0.9"/><rect x="297.4" y="395.1" width="0.9" height="0.9"/><rect x="297.9" y="368.4" width="0.9" height="0.9"/><rect x="295.4" y="392.1" width="0.9" height="0.9"/><rect x="293.8" y="388.4" width="0.9" height="0.9"/><rect x="296.1" y="396.4" width="0.9" height="0.9"/><rect x="293.7" y="377.1" width="0.9" height="0.9"/><rect x="293.8" y="404.2" width="0.9" height="0.9"/><rect x="298.1" y="384.5" width="0.9" height="0.9"/><rect x="296.1" y="387.0" width="0.9" height="0.9"/><rect x="296.1" y="383.6" width="0.9" height="0.9"/><rect x="294.8" y="372.6" width="0.9" height="0.9"/><rect x="294.1" y="403.1" width="0.9" height="0.9"/><rect x="296.8" y="386.5" width="0.9" height="0.9"/><rect x="295.1" y="386.5" width="0.9" height="0.9"/><rect x="296.4" y="379.0" width="0.9" height="0.9"/><rect x="296.1" y="388.3" width="0.9" height="0.9"/><rect x="293.9" y="377.5" width="0.9" height="0.9"/><rect x="293.3" y="374.6" width="0.9" height="0.9"/><rect x="295.0" y="379.4" width="0.9" height="0.9"/><rect x="294.2" y="386.8" width="0.9" height="0.9"/><rect x="298.2" y="386.6" width="0.9" height="0.9"/><rect x="295.3" y="379.4" width="0.9" height="0.9"/><rect x="295.3" y="395.4" width="0.9" height="0.9"/><rect x="294.7" y="373.8" width="0.9" height="0.9"/><rect x="292.7" y="374.2" width="0.9" height="0.9"/><rect x="292.4" y="397.3" width="0.9" height="0.9"/><rect x="296.4" y="383.3" width="0.9" height="0.9"/><rect x="299.0" y="378.9" width="0.9" height="0.9"/><rect x="297.3" y="394.2" width="0.9" height="0.9"/><rect x="292.0" y="369.5" width="0.9" height="0.9"/><rect x="293.5" y="395.3" width="0.9" height="0.9"/><rect x="298.6" y="372.9" width="0.9" height="0.9"/><rect x="298.0" y="381.8" width="0.9" height="0.9"/><rect x="294.7" y="380.0" width="0.9" height="0.9"/><rect x="294.9" y="366.7" width="0.9" height="0.9"/><rect x="293.3" y="372.8" width="0.9" height="0.9"/><rect x="296.7" y="407.7" width="0.9" height="0.9"/><rect x="291.6" y="381.5" width="0.9" height="0.9"/><rect x="293.4" y="406.6" width="0.9" height="0.9"/><rect x="296.9" y="378.1" width="0.9" height="0.9"/><rect x="297.8" y="391.4" width="0.9" height="0.9"/><rect x="291.9" y="380.2" width="0.9" height="0.9"/><rect x="295.0" y="386.0" width="0.9" height="0.9"/><rect x="295.9" y="382.2" width="0.9" height="0.9"/><rect x="296.0" y="379.6" width="0.9" height="0.9"/><rect x="293.5" y="401.7" width="0.9" height="0.9"/><rect x="296.4" y="390.4" width="0.9" height="0.9"/><rect x="291.9" y="384.1" width="0.9" height="0.9"/><rect x="297.5" y="372.2" width="0.9" height="0.9"/><rect x="298.1" y="381.7" width="0.9" height="0.9"/><rect x="296.5" y="384.4" width="0.9" height="0.9"/><rect x="296.1" y="398.4" width="0.9" height="0.9"/><rect x="294.7" y="402.2" width="0.9" height="0.9"/><rect x="293.8" y="376.0" width="0.9" height="0.9"/><rect x="297.2" y="374.6" width="0.9" height="0.9"/><rect x="294.7" y="395.3" width="0.9" height="0.9"/><rect x="298.4" y="367.2" width="0.9" height="0.9"/><rect x="296.8" y="405.6" width="0.9" height="0.9"/><rect x="298.3" y="383.3" width="0.9" height="0.9"/><rect x="294.2" y="382.7" width="0.9" height="0.9"/><rect x="292.9" y="383.0" width="0.9" height="0.9"/><rect x="295.2" y="384.3" width="0.9" height="0.9"/><rect x="298.3" y="383.4" width="0.9" height="0.9"/><rect x="292.2" y="396.8" width="0.9" height="0.9"/><rect x="293.1" y="381.1" width="0.9" height="0.9"/><rect x="295.3" y="382.2" width="0.9" height="0.9"/><rect x="293.3" y="383.2" width="0.9" height="0.9"/><rect x="300.6" y="379.4" width="0.9" height="0.9"/><rect x="295.3" y="397.6" width="0.9" height="0.9"/><rect x="297.3" y="393.8" width="0.9" height="0.9"/><rect x="297.6" y="365.1" width="0.9" height="0.9"/><rect x="293.6" y="387.1" width="0.9" height="0.9"/><rect x="296.7" y="399.4" width="0.9" height="0.9"/><rect x="296.7" y="383.3" width="0.9" height="0.9"/><rect x="295.7" y="383.6" width="0.9" height="0.9"/><rect x="296.2" y="392.9" width="0.9" height="0.9"/><rect x="294.8" y="377.3" width="0.9" height="0.9"/><rect x="293.6" y="397.3" width="0.9" height="0.9"/><rect x="298.5" y="396.2" width="0.9" height="0.9"/><rect x="297.6" y="394.5" width="0.9" height="0.9"/><rect x="295.6" y="392.8" width="0.9" height="0.9"/><rect x="293.2" y="383.7" width="0.9" height="0.9"/><rect x="293.9" y="393.4" width="0.9" height="0.9"/><rect x="294.3" y="384.7" width="0.9" height="0.9"/><rect x="296.5" y="400.0" width="0.9" height="0.9"/><rect x="293.8" y="375.9" width="0.9" height="0.9"/><rect x="297.5" y="374.2" width="0.9" height="0.9"/><rect x="296.6" y="379.8" width="0.9" height="0.9"/><rect x="295.4" y="366.7" width="0.9" height="0.9"/><rect x="297.2" y="380.5" width="0.9" height="0.9"/><rect x="293.5" y="407.6" width="0.9" height="0.9"/><rect x="296.5" y="382.1" width="0.9" height="0.9"/><rect x="295.8" y="402.7" width="0.9" height="0.9"/><rect x="295.5" y="390.5" width="0.9" height="0.9"/><rect x="296.8" y="376.2" width="0.9" height="0.9"/><rect x="295.9" y="380.5" width="0.9" height="0.9"/><rect x="292.7" y="395.0" width="0.9" height="0.9"/><rect x="297.1" y="386.6" width="0.9" height="0.9"/><rect x="293.5" y="364.7" width="0.9" height="0.9"/><rect x="296.7" y="384.8" width="0.9" height="0.9"/><rect x="291.7" y="385.2" width="0.9" height="0.9"/><rect x="292.1" y="385.5" width="0.9" height="0.9"/><rect x="295.9" y="389.5" width="0.9" height="0.9"/><rect x="296.1" y="387.6" width="0.9" height="0.9"/><rect x="293.0" y="381.8" width="0.9" height="0.9"/><rect x="294.4" y="383.3" width="0.9" height="0.9"/><rect x="296.2" y="392.3" width="0.9" height="0.9"/><rect x="296.5" y="383.7" width="0.9" height="0.9"/><rect x="300.8" y="395.6" width="0.9" height="0.9"/><rect x="291.8" y="390.0" width="0.9" height="0.9"/><rect x="294.4" y="396.2" width="0.9" height="0.9"/><rect x="293.2" y="384.7" width="0.9" height="0.9"/><rect x="295.3" y="384.8" width="0.9" height="0.9"/><rect x="294.3" y="366.5" width="0.9" height="0.9"/><rect x="296.7" y="396.3" width="0.9" height="0.9"/><rect x="295.4" y="375.1" width="0.9" height="0.9"/><rect x="296.1" y="391.7" width="0.9" height="0.9"/><rect x="295.2" y="385.7" width="0.9" height="0.9"/><rect x="298.8" y="374.1" width="0.9" height="0.9"/><rect x="294.3" y="365.8" width="0.9" height="0.9"/><rect x="294.0" y="378.0" width="0.9" height="0.9"/><rect x="293.4" y="378.5" width="0.9" height="0.9"/><rect x="299.7" y="383.7" width="0.9" height="0.9"/><rect x="295.3" y="408.9" width="0.9" height="0.9"/><rect x="295.5" y="367.6" width="0.9" height="0.9"/><rect x="296.5" y="376.0" width="0.9" height="0.9"/><rect x="299.4" y="372.7" width="0.9" height="0.9"/><rect x="294.3" y="368.9" width="0.9" height="0.9"/><rect x="295.8" y="375.1" width="0.9" height="0.9"/><rect x="295.4" y="381.8" width="0.9" height="0.9"/><rect x="294.2" y="395.7" width="0.9" height="0.9"/><rect x="297.8" y="386.5" width="0.9" height="0.9"/><rect x="293.5" y="374.6" width="0.9" height="0.9"/><rect x="296.2" y="410.9" width="0.9" height="0.9"/><rect x="294.5" y="377.6" width="0.9" height="0.9"/><rect x="294.0" y="374.3" width="0.9" height="0.9"/><rect x="293.4" y="383.6" width="0.9" height="0.9"/><rect x="298.9" y="385.8" width="0.9" height="0.9"/><rect x="294.4" y="368.8" width="0.9" height="0.9"/><rect x="296.1" y="385.5" width="0.9" height="0.9"/><rect x="292.8" y="374.4" width="0.9" height="0.9"/><rect x="295.5" y="396.4" width="0.9" height="0.9"/><rect x="297.0" y="388.0" width="0.9" height="0.9"/><rect x="294.9" y="389.2" width="0.9" height="0.9"/><rect x="295.6" y="408.6" width="0.9" height="0.9"/><rect x="293.0" y="381.9" width="0.9" height="0.9"/><rect x="298.5" y="383.0" width="0.9" height="0.9"/><rect x="298.9" y="385.3" width="0.9" height="0.9"/><rect x="295.9" y="381.9" width="0.9" height="0.9"/><rect x="292.4" y="375.6" width="0.9" height="0.9"/><rect x="300.7" y="392.6" width="0.9" height="0.9"/><rect x="297.0" y="395.8" width="0.9" height="0.9"/><rect x="296.9" y="396.5" width="0.9" height="0.9"/><rect x="295.0" y="383.5" width="0.9" height="0.9"/><rect x="297.9" y="382.1" width="0.9" height="0.9"/><rect x="292.5" y="383.4" width="0.9" height="0.9"/><rect x="294.3" y="392.2" width="0.9" height="0.9"/><rect x="293.9" y="374.7" width="0.9" height="0.9"/><rect x="294.8" y="402.1" width="0.9" height="0.9"/><rect x="295.5" y="387.5" width="0.9" height="0.9"/><rect x="295.6" y="388.9" width="0.9" height="0.9"/><rect x="297.7" y="400.5" width="0.9" height="0.9"/><rect x="291.8" y="400.1" width="0.9" height="0.9"/><rect x="295.6" y="382.4" width="0.9" height="0.9"/><rect x="301.1" y="384.0" width="0.9" height="0.9"/><rect x="300.1" y="396.0" width="0.9" height="0.9"/><rect x="293.2" y="390.9" width="0.9" height="0.9"/><rect x="297.3" y="384.5" width="0.9" height="0.9"/><rect x="290.2" y="382.2" width="0.9" height="0.9"/><rect x="295.2" y="374.2" width="0.9" height="0.9"/><rect x="299.8" y="383.2" width="0.9" height="0.9"/><rect x="294.7" y="382.7" width="0.9" height="0.9"/><rect x="293.8" y="377.6" width="0.9" height="0.9"/><rect x="295.8" y="389.1" width="0.9" height="0.9"/><rect x="294.4" y="384.8" width="0.9" height="0.9"/><rect x="292.4" y="391.3" width="0.9" height="0.9"/><rect x="293.9" y="388.1" width="0.9" height="0.9"/><rect x="293.5" y="380.4" width="0.9" height="0.9"/><rect x="296.1" y="373.1" width="0.9" height="0.9"/><rect x="301.3" y="385.4" width="0.9" height="0.9"/><rect x="295.4" y="378.1" width="0.9" height="0.9"/><rect x="299.3" y="400.4" width="0.9" height="0.9"/><rect x="296.3" y="371.4" width="0.9" height="0.9"/><rect x="294.4" y="392.3" width="0.9" height="0.9"/><rect x="294.4" y="373.4" width="0.9" height="0.9"/><rect x="292.9" y="377.7" width="0.9" height="0.9"/><rect x="295.6" y="379.0" width="0.9" height="0.9"/><rect x="299.7" y="374.9" width="0.9" height="0.9"/><rect x="296.4" y="386.7" width="0.9" height="0.9"/><rect x="295.3" y="396.8" width="0.9" height="0.9"/><rect x="294.8" y="382.4" width="0.9" height="0.9"/><rect x="294.7" y="384.7" width="0.9" height="0.9"/><rect x="298.6" y="394.0" width="0.9" height="0.9"/><rect x="292.5" y="381.2" width="0.9" height="0.9"/><rect x="293.8" y="394.4" width="0.9" height="0.9"/><rect x="296.1" y="395.1" width="0.9" height="0.9"/><rect x="295.5" y="365.8" width="0.9" height="0.9"/><rect x="296.6" y="388.2" width="0.9" height="0.9"/><rect x="296.8" y="372.1" width="0.9" height="0.9"/><rect x="295.8" y="378.6" width="0.9" height="0.9"/><rect x="294.0" y="389.5" width="0.9" height="0.9"/><rect x="296.4" y="376.4" width="0.9" height="0.9"/><rect x="294.3" y="397.6" width="0.9" height="0.9"/><rect x="295.5" y="362.2" width="0.9" height="0.9"/><rect x="293.6" y="390.2" width="0.9" height="0.9"/><rect x="299.4" y="398.1" width="0.9" height="0.9"/><rect x="296.4" y="387.9" width="0.9" height="0.9"/><rect x="293.2" y="381.1" width="0.9" height="0.9"/><rect x="294.8" y="377.7" width="0.9" height="0.9"/><rect x="295.7" y="381.7" width="0.9" height="0.9"/><rect x="296.4" y="400.9" width="0.9" height="0.9"/><rect x="297.3" y="390.2" width="0.9" height="0.9"/><rect x="295.0" y="369.8" width="0.9" height="0.9"/><rect x="295.3" y="391.5" width="0.9" height="0.9"/><rect x="293.3" y="399.0" width="0.9" height="0.9"/><rect x="294.8" y="389.7" width="0.9" height="0.9"/><rect x="294.8" y="372.6" width="0.9" height="0.9"/><rect x="300.4" y="373.6" width="0.9" height="0.9"/><rect x="297.7" y="380.0" width="0.9" height="0.9"/><rect x="296.2" y="377.3" width="0.9" height="0.9"/><rect x="294.6" y="395.5" width="0.9" height="0.9"/><rect x="300.1" y="376.9" width="0.9" height="0.9"/><rect x="295.6" y="395.7" width="0.9" height="0.9"/><rect x="294.1" y="393.3" width="0.9" height="0.9"/><rect x="293.8" y="392.1" width="0.9" height="0.9"/><rect x="296.6" y="398.5" width="0.9" height="0.9"/><rect x="296.4" y="373.3" width="0.9" height="0.9"/><rect x="297.1" y="374.2" width="0.9" height="0.9"/><rect x="297.3" y="401.7" width="0.9" height="0.9"/><rect x="297.0" y="380.0" width="0.9" height="0.9"/><rect x="298.3" y="387.6" width="0.9" height="0.9"/><rect x="292.7" y="382.1" width="0.9" height="0.9"/><rect x="298.9" y="382.6" width="0.9" height="0.9"/><rect x="295.9" y="382.2" width="0.9" height="0.9"/><rect x="291.7" y="380.4" width="0.9" height="0.9"/><rect x="296.4" y="388.0" width="0.9" height="0.9"/><rect x="295.2" y="363.4" width="0.9" height="0.9"/><rect x="298.4" y="393.4" width="0.9" height="0.9"/><rect x="298.0" y="399.5" width="0.9" height="0.9"/><rect x="294.6" y="379.5" width="0.9" height="0.9"/><rect x="296.3" y="403.4" width="0.9" height="0.9"/><rect x="291.7" y="383.4" width="0.9" height="0.9"/><rect x="294.0" y="391.7" width="0.9" height="0.9"/><rect x="299.0" y="382.7" width="0.9" height="0.9"/><rect x="292.7" y="386.3" width="0.9" height="0.9"/><rect x="294.9" y="369.6" width="0.9" height="0.9"/><rect x="297.6" y="380.3" width="0.9" height="0.9"/><rect x="297.2" y="372.0" width="0.9" height="0.9"/><rect x="298.1" y="370.7" width="0.9" height="0.9"/><rect x="298.0" y="366.8" width="0.9" height="0.9"/><rect x="298.8" y="381.9" width="0.9" height="0.9"/><rect x="292.0" y="383.3" width="0.9" height="0.9"/><rect x="296.4" y="375.4" width="0.9" height="0.9"/><rect x="294.5" y="388.6" width="0.9" height="0.9"/><rect x="294.6" y="390.3" width="0.9" height="0.9"/><rect x="296.3" y="396.4" width="0.9" height="0.9"/><rect x="294.0" y="412.6" width="0.9" height="0.9"/><rect x="297.4" y="389.1" width="0.9" height="0.9"/><rect x="298.1" y="395.8" width="0.9" height="0.9"/><rect x="295.8" y="379.3" width="0.9" height="0.9"/><rect x="298.0" y="390.2" width="0.9" height="0.9"/><rect x="291.2" y="374.2" width="0.9" height="0.9"/><rect x="296.7" y="386.9" width="0.9" height="0.9"/><rect x="296.2" y="392.5" width="0.9" height="0.9"/><rect x="295.9" y="402.4" width="0.9" height="0.9"/><rect x="294.2" y="381.6" width="0.9" height="0.9"/><rect x="296.3" y="393.6" width="0.9" height="0.9"/><rect x="297.4" y="401.4" width="0.9" height="0.9"/><rect x="294.5" y="398.1" width="0.9" height="0.9"/><rect x="296.7" y="374.9" width="0.9" height="0.9"/><rect x="295.3" y="407.7" width="0.9" height="0.9"/><rect x="297.4" y="380.9" width="0.9" height="0.9"/><rect x="290.1" y="378.1" width="0.9" height="0.9"/><rect x="294.0" y="386.6" width="0.9" height="0.9"/><rect x="300.9" y="393.6" width="0.9" height="0.9"/><rect x="296.3" y="376.0" width="0.9" height="0.9"/><rect x="292.9" y="383.6" width="0.9" height="0.9"/><rect x="294.7" y="379.3" width="0.9" height="0.9"/><rect x="298.2" y="386.6" width="0.9" height="0.9"/><rect x="292.8" y="399.3" width="0.9" height="0.9"/><rect x="294.9" y="371.8" width="0.9" height="0.9"/><rect x="296.3" y="390.9" width="0.9" height="0.9"/><rect x="294.8" y="393.1" width="0.9" height="0.9"/><rect x="297.5" y="376.5" width="0.9" height="0.9"/><rect x="295.3" y="398.7" width="0.9" height="0.9"/><rect x="297.9" y="400.4" width="0.9" height="0.9"/><rect x="299.9" y="386.0" width="0.9" height="0.9"/><rect x="298.0" y="369.7" width="0.9" height="0.9"/><rect x="297.2" y="389.9" width="0.9" height="0.9"/><rect x="295.4" y="381.2" width="0.9" height="0.9"/><rect x="293.0" y="387.3" width="0.9" height="0.9"/><rect x="298.5" y="381.9" width="0.9" height="0.9"/><rect x="296.8" y="378.8" width="0.9" height="0.9"/><rect x="296.2" y="375.2" width="0.9" height="0.9"/><rect x="296.5" y="383.5" width="0.9" height="0.9"/><rect x="296.3" y="379.4" width="0.9" height="0.9"/><rect x="292.9" y="382.3" width="0.9" height="0.9"/><rect x="298.0" y="402.4" width="0.9" height="0.9"/><rect x="294.9" y="394.2" width="0.9" height="0.9"/><rect x="297.3" y="389.9" width="0.9" height="0.9"/><rect x="292.0" y="389.2" width="0.9" height="0.9"/><rect x="293.4" y="398.2" width="0.9" height="0.9"/><rect x="297.4" y="392.3" width="0.9" height="0.9"/><rect x="289.8" y="392.3" width="0.9" height="0.9"/><rect x="297.2" y="372.4" width="0.9" height="0.9"/><rect x="297.8" y="386.6" width="0.9" height="0.9"/><rect x="295.2" y="378.3" width="0.9" height="0.9"/><rect x="293.3" y="381.2" width="0.9" height="0.9"/><rect x="296.1" y="379.0" width="0.9" height="0.9"/><rect x="294.2" y="380.0" width="0.9" height="0.9"/><rect x="293.6" y="395.0" width="0.9" height="0.9"/><rect x="295.0" y="394.9" width="0.9" height="0.9"/><rect x="292.9" y="395.6" width="0.9" height="0.9"/><rect x="295.5" y="392.8" width="0.9" height="0.9"/><rect x="295.4" y="376.5" width="0.9" height="0.9"/><rect x="298.4" y="381.2" width="0.9" height="0.9"/><rect x="295.3" y="376.5" width="0.9" height="0.9"/><rect x="296.1" y="381.7" width="0.9" height="0.9"/><rect x="296.2" y="389.4" width="0.9" height="0.9"/><rect x="294.0" y="371.0" width="0.9" height="0.9"/><rect x="296.6" y="395.4" width="0.9" height="0.9"/><rect x="297.2" y="373.8" width="0.9" height="0.9"/><rect x="297.0" y="389.8" width="0.9" height="0.9"/><rect x="296.3" y="390.3" width="0.9" height="0.9"/><rect x="294.9" y="388.1" width="0.9" height="0.9"/><rect x="297.7" y="380.5" width="0.9" height="0.9"/><rect x="292.3" y="384.7" width="0.9" height="0.9"/><rect x="296.1" y="366.4" width="0.9" height="0.9"/><rect x="294.0" y="392.0" width="0.9" height="0.9"/><rect x="295.3" y="386.8" width="0.9" height="0.9"/><rect x="292.7" y="395.3" width="0.9" height="0.9"/><rect x="299.6" y="383.7" width="0.9" height="0.9"/><rect x="293.9" y="373.6" width="0.9" height="0.9"/><rect x="297.6" y="386.9" width="0.9" height="0.9"/><rect x="293.8" y="398.5" width="0.9" height="0.9"/><rect x="297.4" y="392.1" width="0.9" height="0.9"/><rect x="291.6" y="384.7" width="0.9" height="0.9"/><rect x="297.0" y="372.9" width="0.9" height="0.9"/><rect x="297.7" y="400.8" width="0.9" height="0.9"/><rect x="298.0" y="378.2" width="0.9" height="0.9"/><rect x="294.0" y="395.7" width="0.9" height="0.9"/><rect x="297.9" y="398.7" width="0.9" height="0.9"/><rect x="298.4" y="384.8" width="0.9" height="0.9"/><rect x="294.7" y="366.3" width="0.9" height="0.9"/><rect x="297.4" y="409.7" width="0.9" height="0.9"/><rect x="294.5" y="380.8" width="0.9" height="0.9"/><rect x="297.1" y="389.7" width="0.9" height="0.9"/><rect x="292.4" y="378.3" width="0.9" height="0.9"/><rect x="293.1" y="407.0" width="0.9" height="0.9"/><rect x="294.0" y="394.8" width="0.9" height="0.9"/><rect x="300.0" y="405.7" width="0.9" height="0.9"/><rect x="298.9" y="402.9" width="0.9" height="0.9"/><rect x="292.8" y="382.2" width="0.9" height="0.9"/><rect x="293.9" y="382.8" width="0.9" height="0.9"/><rect x="296.9" y="372.8" width="0.9" height="0.9"/><rect x="298.7" y="399.4" width="0.9" height="0.9"/><rect x="294.4" y="407.5" width="0.9" height="0.9"/><rect x="295.8" y="399.5" width="0.9" height="0.9"/><rect x="296.3" y="379.9" width="0.9" height="0.9"/><rect x="294.7" y="384.6" width="0.9" height="0.9"/><rect x="297.0" y="387.1" width="0.9" height="0.9"/><rect x="301.0" y="383.8" width="0.9" height="0.9"/><rect x="294.5" y="378.2" width="0.9" height="0.9"/><rect x="293.8" y="370.7" width="0.9" height="0.9"/><rect x="293.3" y="395.3" width="0.9" height="0.9"/><rect x="295.7" y="384.0" width="0.9" height="0.9"/><rect x="296.4" y="397.0" width="0.9" height="0.9"/><rect x="297.0" y="393.9" width="0.9" height="0.9"/><rect x="294.3" y="383.1" width="0.9" height="0.9"/><rect x="293.8" y="384.8" width="0.9" height="0.9"/><rect x="293.7" y="381.9" width="0.9" height="0.9"/><rect x="295.2" y="383.5" width="0.9" height="0.9"/><rect x="295.0" y="380.6" width="0.9" height="0.9"/><rect x="298.6" y="382.2" width="0.9" height="0.9"/><rect x="293.3" y="387.8" width="0.9" height="0.9"/><rect x="293.1" y="374.5" width="0.9" height="0.9"/><rect x="295.8" y="368.3" width="0.9" height="0.9"/><rect x="288.2" y="388.8" width="0.9" height="0.9"/><rect x="298.0" y="368.3" width="0.9" height="0.9"/><rect x="293.5" y="391.9" width="0.9" height="0.9"/><rect x="291.0" y="376.6" width="0.9" height="0.9"/><rect x="292.8" y="383.7" width="0.9" height="0.9"/><rect x="291.1" y="395.2" width="0.9" height="0.9"/><rect x="295.3" y="389.0" width="0.9" height="0.9"/><rect x="294.8" y="363.5" width="0.9" height="0.9"/><rect x="295.2" y="371.7" width="0.9" height="0.9"/><rect x="295.6" y="376.8" width="0.9" height="0.9"/><rect x="294.9" y="383.6" width="0.9" height="0.9"/><rect x="297.4" y="393.9" width="0.9" height="0.9"/><rect x="293.3" y="385.6" width="0.9" height="0.9"/><rect x="299.0" y="391.0" width="0.9" height="0.9"/><rect x="293.9" y="384.5" width="0.9" height="0.9"/><rect x="294.8" y="395.7" width="0.9" height="0.9"/><rect x="295.7" y="389.7" width="0.9" height="0.9"/><rect x="300.7" y="371.3" width="0.9" height="0.9"/><rect x="293.3" y="367.6" width="0.9" height="0.9"/><rect x="291.9" y="394.8" width="0.9" height="0.9"/><rect x="296.3" y="402.9" width="0.9" height="0.9"/><rect x="291.1" y="376.5" width="0.9" height="0.9"/><rect x="298.9" y="396.6" width="0.9" height="0.9"/><rect x="297.6" y="395.0" width="0.9" height="0.9"/><rect x="295.7" y="385.7" width="0.9" height="0.9"/><rect x="295.7" y="394.6" width="0.9" height="0.9"/><rect x="295.2" y="389.2" width="0.9" height="0.9"/><rect x="298.9" y="374.0" width="0.9" height="0.9"/><rect x="293.9" y="391.7" width="0.9" height="0.9"/><rect x="295.0" y="384.2" width="0.9" height="0.9"/><rect x="300.4" y="390.2" width="0.9" height="0.9"/><rect x="294.6" y="397.3" width="0.9" height="0.9"/><rect x="301.4" y="374.2" width="0.9" height="0.9"/><rect x="294.1" y="387.0" width="0.9" height="0.9"/><rect x="294.1" y="408.6" width="0.9" height="0.9"/><rect x="296.8" y="381.6" width="0.9" height="0.9"/><rect x="296.7" y="377.4" width="0.9" height="0.9"/><rect x="294.2" y="386.9" width="0.9" height="0.9"/><rect x="301.1" y="362.2" width="0.9" height="0.9"/><rect x="296.6" y="400.0" width="0.9" height="0.9"/><rect x="297.3" y="406.0" width="0.9" height="0.9"/><rect x="296.6" y="387.3" width="0.9" height="0.9"/><rect x="295.3" y="376.8" width="0.9" height="0.9"/><rect x="299.4" y="373.4" width="0.9" height="0.9"/><rect x="295.3" y="380.3" width="0.9" height="0.9"/><rect x="293.8" y="362.5" width="0.9" height="0.9"/><rect x="294.7" y="387.2" width="0.9" height="0.9"/><rect x="295.9" y="394.7" width="0.9" height="0.9"/><rect x="295.2" y="379.1" width="0.9" height="0.9"/><rect x="296.3" y="392.8" width="0.9" height="0.9"/><rect x="293.5" y="369.8" width="0.9" height="0.9"/><rect x="293.2" y="396.9" width="0.9" height="0.9"/><rect x="297.9" y="376.5" width="0.9" height="0.9"/><rect x="295.9" y="394.6" width="0.9" height="0.9"/><rect x="298.7" y="378.9" width="0.9" height="0.9"/><rect x="295.0" y="400.6" width="0.9" height="0.9"/><rect x="301.1" y="401.9" width="0.9" height="0.9"/><rect x="293.0" y="390.5" width="0.9" height="0.9"/><rect x="294.9" y="385.2" width="0.9" height="0.9"/><rect x="294.1" y="380.8" width="0.9" height="0.9"/><rect x="295.6" y="404.7" width="0.9" height="0.9"/><rect x="297.2" y="390.3" width="0.9" height="0.9"/><rect x="295.7" y="377.9" width="0.9" height="0.9"/><rect x="295.1" y="398.8" width="0.9" height="0.9"/><rect x="297.5" y="406.4" width="0.9" height="0.9"/><rect x="296.2" y="385.6" width="0.9" height="0.9"/><rect x="291.9" y="390.0" width="0.9" height="0.9"/><rect x="291.6" y="401.8" width="0.9" height="0.9"/><rect x="294.2" y="385.8" width="0.9" height="0.9"/><rect x="292.5" y="380.6" width="0.9" height="0.9"/><rect x="293.5" y="397.7" width="0.9" height="0.9"/><rect x="296.2" y="373.4" width="0.9" height="0.9"/><rect x="291.2" y="385.1" width="0.9" height="0.9"/><rect x="294.5" y="374.1" width="0.9" height="0.9"/><rect x="297.0" y="383.9" width="0.9" height="0.9"/><rect x="295.9" y="379.6" width="0.9" height="0.9"/><rect x="294.3" y="381.0" width="0.9" height="0.9"/><rect x="291.9" y="392.4" width="0.9" height="0.9"/><rect x="296.5" y="367.7" width="0.9" height="0.9"/><rect x="295.8" y="397.9" width="0.9" height="0.9"/><rect x="296.1" y="399.4" width="0.9" height="0.9"/><rect x="295.0" y="385.8" width="0.9" height="0.9"/><rect x="292.6" y="376.3" width="0.9" height="0.9"/><rect x="291.4" y="376.4" width="0.9" height="0.9"/><rect x="296.2" y="391.3" width="0.9" height="0.9"/><rect x="298.3" y="387.2" width="0.9" height="0.9"/><rect x="293.3" y="390.3" width="0.9" height="0.9"/><rect x="295.3" y="404.5" width="0.9" height="0.9"/><rect x="300.1" y="395.9" width="0.9" height="0.9"/><rect x="293.0" y="380.3" width="0.9" height="0.9"/><rect x="296.0" y="378.3" width="0.9" height="0.9"/><rect x="296.8" y="393.0" width="0.9" height="0.9"/><rect x="297.5" y="388.2" width="0.9" height="0.9"/><rect x="293.6" y="377.0" width="0.9" height="0.9"/><rect x="295.3" y="399.7" width="0.9" height="0.9"/><rect x="299.2" y="396.1" width="0.9" height="0.9"/><rect x="296.4" y="392.9" width="0.9" height="0.9"/><rect x="297.5" y="399.4" width="0.9" height="0.9"/><rect x="297.6" y="369.7" width="0.9" height="0.9"/><rect x="297.8" y="389.8" width="0.9" height="0.9"/><rect x="294.5" y="391.3" width="0.9" height="0.9"/><rect x="296.3" y="385.2" width="0.9" height="0.9"/><rect x="291.7" y="387.0" width="0.9" height="0.9"/><rect x="296.9" y="385.3" width="0.9" height="0.9"/><rect x="291.9" y="390.6" width="0.9" height="0.9"/><rect x="297.3" y="387.7" width="0.9" height="0.9"/><rect x="296.6" y="382.1" width="0.9" height="0.9"/><rect x="294.1" y="391.3" width="0.9" height="0.9"/><rect x="294.8" y="387.7" width="0.9" height="0.9"/><rect x="295.9" y="368.8" width="0.9" height="0.9"/><rect x="295.8" y="393.8" width="0.9" height="0.9"/><rect x="294.0" y="383.3" width="0.9" height="0.9"/><rect x="290.4" y="391.6" width="0.9" height="0.9"/><rect x="294.2" y="393.0" width="0.9" height="0.9"/><rect x="298.7" y="384.1" width="0.9" height="0.9"/><rect x="297.9" y="388.4" width="0.9" height="0.9"/><rect x="295.1" y="382.9" width="0.9" height="0.9"/><rect x="293.6" y="399.3" width="0.9" height="0.9"/><rect x="297.6" y="375.2" width="0.9" height="0.9"/><rect x="297.5" y="378.1" width="0.9" height="0.9"/><rect x="292.1" y="398.4" width="0.9" height="0.9"/><rect x="292.7" y="398.2" width="0.9" height="0.9"/><rect x="296.1" y="395.3" width="0.9" height="0.9"/><rect x="296.8" y="397.9" width="0.9" height="0.9"/><rect x="296.4" y="391.9" width="0.9" height="0.9"/><rect x="296.2" y="397.3" width="0.9" height="0.9"/><rect x="294.7" y="396.5" width="0.9" height="0.9"/><rect x="299.1" y="385.1" width="0.9" height="0.9"/><rect x="296.6" y="380.4" width="0.9" height="0.9"/><rect x="294.9" y="388.5" width="0.9" height="0.9"/><rect x="294.8" y="376.5" width="0.9" height="0.9"/><rect x="295.5" y="387.8" width="0.9" height="0.9"/><rect x="296.3" y="393.3" width="0.9" height="0.9"/><rect x="291.5" y="400.6" width="0.9" height="0.9"/><rect x="295.2" y="377.7" width="0.9" height="0.9"/><rect x="294.7" y="390.4" width="0.9" height="0.9"/><rect x="297.6" y="382.0" width="0.9" height="0.9"/><rect x="296.0" y="369.0" width="0.9" height="0.9"/><rect x="296.0" y="384.6" width="0.9" height="0.9"/><rect x="294.6" y="395.1" width="0.9" height="0.9"/><rect x="299.7" y="396.6" width="0.9" height="0.9"/><rect x="293.8" y="401.8" width="0.9" height="0.9"/><rect x="294.8" y="385.4" width="0.9" height="0.9"/><rect x="294.3" y="390.6" width="0.9" height="0.9"/><rect x="296.9" y="387.3" width="0.9" height="0.9"/><rect x="295.1" y="384.3" width="0.9" height="0.9"/><rect x="294.7" y="396.0" width="0.9" height="0.9"/><rect x="294.4" y="384.3" width="0.9" height="0.9"/><rect x="295.1" y="377.9" width="0.9" height="0.9"/><rect x="295.1" y="370.4" width="0.9" height="0.9"/><rect x="296.5" y="391.5" width="0.9" height="0.9"/><rect x="294.9" y="402.1" width="0.9" height="0.9"/><rect x="293.7" y="391.6" width="0.9" height="0.9"/><rect x="296.7" y="380.2" width="0.9" height="0.9"/><rect x="295.0" y="395.1" width="0.9" height="0.9"/><rect x="295.7" y="388.8" width="0.9" height="0.9"/><rect x="298.8" y="388.1" width="0.9" height="0.9"/><rect x="291.8" y="378.1" width="0.9" height="0.9"/><rect x="297.5" y="384.5" width="0.9" height="0.9"/><rect x="293.1" y="365.1" width="0.9" height="0.9"/><rect x="296.3" y="401.5" width="0.9" height="0.9"/><rect x="292.7" y="363.1" width="0.9" height="0.9"/><rect x="296.7" y="380.1" width="0.9" height="0.9"/><rect x="294.9" y="382.4" width="0.9" height="0.9"/><rect x="293.5" y="390.4" width="0.9" height="0.9"/><rect x="297.7" y="389.6" width="0.9" height="0.9"/><rect x="294.3" y="396.7" width="0.9" height="0.9"/><rect x="295.3" y="391.9" width="0.9" height="0.9"/><rect x="293.5" y="392.7" width="0.9" height="0.9"/><rect x="297.3" y="399.3" width="0.9" height="0.9"/><rect x="295.7" y="390.4" width="0.9" height="0.9"/><rect x="294.3" y="395.0" width="0.9" height="0.9"/><rect x="297.4" y="397.1" width="0.9" height="0.9"/><rect x="294.7" y="373.1" width="0.9" height="0.9"/><rect x="295.4" y="383.6" width="0.9" height="0.9"/><rect x="293.9" y="392.1" width="0.9" height="0.9"/><rect x="297.8" y="389.9" width="0.9" height="0.9"/><rect x="298.1" y="389.9" width="0.9" height="0.9"/><rect x="293.4" y="379.7" width="0.9" height="0.9"/><rect x="294.8" y="392.9" width="0.9" height="0.9"/><rect x="297.7" y="387.2" width="0.9" height="0.9"/><rect x="297.9" y="377.3" width="0.9" height="0.9"/><rect x="295.3" y="401.4" width="0.9" height="0.9"/><rect x="296.6" y="396.7" width="0.9" height="0.9"/><rect x="291.3" y="368.5" width="0.9" height="0.9"/><rect x="293.6" y="396.3" width="0.9" height="0.9"/><rect x="299.3" y="379.4" width="0.9" height="0.9"/><rect x="293.4" y="375.3" width="0.9" height="0.9"/><rect x="293.6" y="391.6" width="0.9" height="0.9"/><rect x="294.9" y="405.3" width="0.9" height="0.9"/><rect x="297.2" y="378.7" width="0.9" height="0.9"/><rect x="296.1" y="384.2" width="0.9" height="0.9"/><rect x="297.4" y="395.2" width="0.9" height="0.9"/><rect x="294.8" y="395.1" width="0.9" height="0.9"/><rect x="296.9" y="384.9" width="0.9" height="0.9"/><rect x="296.2" y="392.9" width="0.9" height="0.9"/><rect x="294.9" y="378.8" width="0.9" height="0.9"/><rect x="298.5" y="385.9" width="0.9" height="0.9"/><rect x="294.3" y="390.6" width="0.9" height="0.9"/><rect x="292.3" y="386.4" width="0.9" height="0.9"/><rect x="292.5" y="381.4" width="0.9" height="0.9"/><rect x="291.6" y="378.4" width="0.9" height="0.9"/><rect x="297.6" y="384.0" width="0.9" height="0.9"/><rect x="292.9" y="403.8" width="0.9" height="0.9"/><rect x="294.2" y="401.2" width="0.9" height="0.9"/><rect x="294.4" y="370.7" width="0.9" height="0.9"/><rect x="299.8" y="381.4" width="0.9" height="0.9"/><rect x="297.3" y="398.1" width="0.9" height="0.9"/><rect x="292.6" y="386.6" width="0.9" height="0.9"/><rect x="294.3" y="392.1" width="0.9" height="0.9"/><rect x="295.6" y="372.8" width="0.9" height="0.9"/><rect x="295.7" y="393.7" width="0.9" height="0.9"/><rect x="294.9" y="391.7" width="0.9" height="0.9"/><rect x="294.4" y="385.3" width="0.9" height="0.9"/><rect x="296.4" y="387.3" width="0.9" height="0.9"/><rect x="298.5" y="395.6" width="0.9" height="0.9"/><rect x="297.5" y="393.3" width="0.9" height="0.9"/><rect x="296.0" y="373.9" width="0.9" height="0.9"/><rect x="298.0" y="403.8" width="0.9" height="0.9"/><rect x="296.1" y="383.3" width="0.9" height="0.9"/><rect x="295.5" y="398.3" width="0.9" height="0.9"/><rect x="296.3" y="375.8" width="0.9" height="0.9"/><rect x="295.2" y="378.0" width="0.9" height="0.9"/><rect x="295.2" y="376.7" width="0.9" height="0.9"/><rect x="293.6" y="401.1" width="0.9" height="0.9"/><rect x="298.0" y="369.3" width="0.9" height="0.9"/><rect x="293.4" y="381.3" width="0.9" height="0.9"/><rect x="294.7" y="371.7" width="0.9" height="0.9"/><rect x="297.6" y="369.3" width="0.9" height="0.9"/><rect x="297.2" y="393.0" width="0.9" height="0.9"/><rect x="294.8" y="379.1" width="0.9" height="0.9"/><rect x="295.8" y="387.4" width="0.9" height="0.9"/><rect x="290.9" y="373.0" width="0.9" height="0.9"/><rect x="296.8" y="384.8" width="0.9" height="0.9"/><rect x="294.7" y="375.7" width="0.9" height="0.9"/><rect x="294.0" y="378.0" width="0.9" height="0.9"/><rect x="299.1" y="390.8" width="0.9" height="0.9"/><rect x="296.1" y="387.9" width="0.9" height="0.9"/><rect x="294.8" y="402.4" width="0.9" height="0.9"/><rect x="296.8" y="385.6" width="0.9" height="0.9"/><rect x="295.3" y="387.9" width="0.9" height="0.9"/><rect x="293.1" y="382.6" width="0.9" height="0.9"/><rect x="294.2" y="392.2" width="0.9" height="0.9"/><rect x="297.0" y="366.7" width="0.9" height="0.9"/><rect x="295.1" y="396.0" width="0.9" height="0.9"/><rect x="292.7" y="373.7" width="0.9" height="0.9"/><rect x="297.9" y="384.6" width="0.9" height="0.9"/><rect x="294.6" y="373.4" width="0.9" height="0.9"/><rect x="296.0" y="380.2" width="0.9" height="0.9"/><rect x="296.1" y="390.3" width="0.9" height="0.9"/><rect x="297.2" y="382.6" width="0.9" height="0.9"/><rect x="294.4" y="386.2" width="0.9" height="0.9"/><rect x="295.4" y="387.7" width="0.9" height="0.9"/><rect x="294.4" y="383.4" width="0.9" height="0.9"/><rect x="294.3" y="379.8" width="0.9" height="0.9"/><rect x="296.0" y="397.7" width="0.9" height="0.9"/><rect x="294.4" y="391.9" width="0.9" height="0.9"/><rect x="296.4" y="387.0" width="0.9" height="0.9"/><rect x="297.1" y="380.2" width="0.9" height="0.9"/><rect x="296.9" y="389.0" width="0.9" height="0.9"/><rect x="287.8" y="389.5" width="0.9" height="0.9"/><rect x="297.0" y="406.0" width="0.9" height="0.9"/><rect x="293.2" y="386.9" width="0.9" height="0.9"/><rect x="296.4" y="375.9" width="0.9" height="0.9"/><rect x="298.3" y="390.5" width="0.9" height="0.9"/><rect x="293.8" y="373.6" width="0.9" height="0.9"/><rect x="294.7" y="410.3" width="0.9" height="0.9"/><rect x="291.5" y="392.7" width="0.9" height="0.9"/><rect x="295.4" y="379.4" width="0.9" height="0.9"/><rect x="297.0" y="386.9" width="0.9" height="0.9"/><rect x="296.3" y="388.6" width="0.9" height="0.9"/><rect x="293.2" y="399.4" width="0.9" height="0.9"/><rect x="294.6" y="397.5" width="0.9" height="0.9"/><rect x="297.2" y="386.3" width="0.9" height="0.9"/><rect x="295.9" y="385.4" width="0.9" height="0.9"/><rect x="291.5" y="382.5" width="0.9" height="0.9"/><rect x="296.6" y="369.3" width="0.9" height="0.9"/><rect x="292.3" y="397.0" width="0.9" height="0.9"/><rect x="297.4" y="370.0" width="0.9" height="0.9"/><rect x="296.7" y="385.4" width="0.9" height="0.9"/><rect x="297.8" y="382.5" width="0.9" height="0.9"/><rect x="295.1" y="378.1" width="0.9" height="0.9"/><rect x="296.0" y="384.6" width="0.9" height="0.9"/><rect x="294.1" y="382.3" width="0.9" height="0.9"/><rect x="293.9" y="392.3" width="0.9" height="0.9"/><rect x="293.3" y="369.8" width="0.9" height="0.9"/><rect x="293.4" y="397.0" width="0.9" height="0.9"/><rect x="294.5" y="392.5" width="0.9" height="0.9"/><rect x="297.3" y="380.6" width="0.9" height="0.9"/><rect x="297.3" y="391.1" width="0.9" height="0.9"/><rect x="295.5" y="378.6" width="0.9" height="0.9"/><rect x="295.5" y="372.6" width="0.9" height="0.9"/><rect x="295.0" y="379.9" width="0.9" height="0.9"/><rect x="296.6" y="389.4" width="0.9" height="0.9"/><rect x="294.2" y="394.8" width="0.9" height="0.9"/><rect x="298.3" y="386.5" width="0.9" height="0.9"/><rect x="293.9" y="391.1" width="0.9" height="0.9"/><rect x="290.1" y="379.8" width="0.9" height="0.9"/><rect x="296.9" y="406.6" width="0.9" height="0.9"/><rect x="293.9" y="401.7" width="0.9" height="0.9"/><rect x="300.9" y="405.4" width="0.9" height="0.9"/><rect x="290.3" y="397.2" width="0.9" height="0.9"/><rect x="296.0" y="396.4" width="0.9" height="0.9"/><rect x="295.2" y="379.5" width="0.9" height="0.9"/><rect x="295.1" y="401.4" width="0.9" height="0.9"/><rect x="297.5" y="382.8" width="0.9" height="0.9"/><rect x="296.5" y="394.8" width="0.9" height="0.9"/><rect x="296.9" y="385.4" width="0.9" height="0.9"/><rect x="294.1" y="378.1" width="0.9" height="0.9"/><rect x="294.6" y="380.1" width="0.9" height="0.9"/><rect x="292.0" y="371.2" width="0.9" height="0.9"/><rect x="297.6" y="374.2" width="0.9" height="0.9"/><rect x="292.6" y="385.4" width="0.9" height="0.9"/><rect x="298.9" y="399.0" width="0.9" height="0.9"/><rect x="294.7" y="375.1" width="0.9" height="0.9"/><rect x="294.4" y="376.4" width="0.9" height="0.9"/><rect x="294.4" y="390.8" width="0.9" height="0.9"/><rect x="293.2" y="377.7" width="0.9" height="0.9"/><rect x="295.0" y="385.5" width="0.9" height="0.9"/><rect x="293.9" y="377.6" width="0.9" height="0.9"/><rect x="293.0" y="378.0" width="0.9" height="0.9"/><rect x="296.8" y="383.3" width="0.9" height="0.9"/><rect x="288.5" y="392.3" width="0.9" height="0.9"/><rect x="295.4" y="376.7" width="0.9" height="0.9"/><rect x="291.8" y="398.0" width="0.9" height="0.9"/><rect x="300.5" y="408.6" width="0.9" height="0.9"/><rect x="293.9" y="386.2" width="0.9" height="0.9"/><rect x="297.4" y="373.0" width="0.9" height="0.9"/><rect x="299.6" y="378.3" width="0.9" height="0.9"/><rect x="296.4" y="373.8" width="0.9" height="0.9"/><rect x="296.4" y="385.6" width="0.9" height="0.9"/><rect x="298.1" y="373.7" width="0.9" height="0.9"/><rect x="295.6" y="404.9" width="0.9" height="0.9"/><rect x="292.9" y="389.5" width="0.9" height="0.9"/><rect x="296.6" y="380.6" width="0.9" height="0.9"/><rect x="295.0" y="400.6" width="0.9" height="0.9"/><rect x="298.2" y="391.8" width="0.9" height="0.9"/><rect x="296.2" y="373.9" width="0.9" height="0.9"/><rect x="295.8" y="404.6" width="0.9" height="0.9"/><rect x="298.0" y="371.6" width="0.9" height="0.9"/><rect x="290.8" y="378.8" width="0.9" height="0.9"/><rect x="296.0" y="380.0" width="0.9" height="0.9"/><rect x="294.9" y="389.4" width="0.9" height="0.9"/><rect x="297.7" y="388.0" width="0.9" height="0.9"/><rect x="298.5" y="370.9" width="0.9" height="0.9"/><rect x="296.7" y="390.3" width="0.9" height="0.9"/><rect x="292.2" y="399.0" width="0.9" height="0.9"/><rect x="291.9" y="370.6" width="0.9" height="0.9"/><rect x="296.5" y="400.0" width="0.9" height="0.9"/><rect x="298.2" y="373.9" width="0.9" height="0.9"/><rect x="296.7" y="400.5" width="0.9" height="0.9"/><rect x="295.2" y="386.6" width="0.9" height="0.9"/><rect x="294.5" y="393.5" width="0.9" height="0.9"/><rect x="294.3" y="379.6" width="0.9" height="0.9"/><rect x="292.8" y="376.0" width="0.9" height="0.9"/><rect x="296.1" y="390.8" width="0.9" height="0.9"/><rect x="294.7" y="374.8" width="0.9" height="0.9"/><rect x="296.4" y="389.6" width="0.9" height="0.9"/><rect x="298.5" y="380.6" width="0.9" height="0.9"/><rect x="294.6" y="391.2" width="0.9" height="0.9"/><rect x="299.1" y="385.3" width="0.9" height="0.9"/><rect x="295.4" y="375.9" width="0.9" height="0.9"/><rect x="294.7" y="395.8" width="0.9" height="0.9"/><rect x="297.6" y="397.6" width="0.9" height="0.9"/><rect x="291.8" y="394.7" width="0.9" height="0.9"/><rect x="293.5" y="392.1" width="0.9" height="0.9"/><rect x="290.1" y="384.8" width="0.9" height="0.9"/><rect x="293.6" y="399.3" width="0.9" height="0.9"/><rect x="295.9" y="399.6" width="0.9" height="0.9"/><rect x="294.6" y="406.6" width="0.9" height="0.9"/><rect x="294.6" y="405.9" width="0.9" height="0.9"/><rect x="294.5" y="375.4" width="0.9" height="0.9"/><rect x="297.7" y="381.6" width="0.9" height="0.9"/><rect x="295.5" y="371.6" width="0.9" height="0.9"/><rect x="294.8" y="387.0" width="0.9" height="0.9"/><rect x="294.0" y="390.0" width="0.9" height="0.9"/><rect x="290.3" y="395.3" width="0.9" height="0.9"/><rect x="294.7" y="401.4" width="0.9" height="0.9"/><rect x="294.8" y="378.9" width="0.9" height="0.9"/><rect x="294.6" y="388.8" width="0.9" height="0.9"/><rect x="297.0" y="380.9" width="0.9" height="0.9"/><rect x="293.8" y="390.4" width="0.9" height="0.9"/><rect x="297.5" y="367.3" width="0.9" height="0.9"/><rect x="293.2" y="378.7" width="0.9" height="0.9"/><rect x="299.6" y="398.9" width="0.9" height="0.9"/><rect x="297.5" y="391.1" width="0.9" height="0.9"/><rect x="293.0" y="397.7" width="0.9" height="0.9"/><rect x="294.6" y="377.4" width="0.9" height="0.9"/><rect x="300.1" y="370.4" width="0.9" height="0.9"/><rect x="298.8" y="388.0" width="0.9" height="0.9"/><rect x="293.5" y="387.7" width="0.9" height="0.9"/><rect x="293.6" y="387.8" width="0.9" height="0.9"/><rect x="294.1" y="373.2" width="0.9" height="0.9"/><rect x="297.9" y="385.3" width="0.9" height="0.9"/><rect x="297.2" y="372.4" width="0.9" height="0.9"/><rect x="297.9" y="390.5" width="0.9" height="0.9"/><rect x="292.9" y="394.7" width="0.9" height="0.9"/><rect x="296.2" y="395.6" width="0.9" height="0.9"/><rect x="297.0" y="394.0" width="0.9" height="0.9"/><rect x="295.6" y="381.4" width="0.9" height="0.9"/><rect x="297.3" y="399.0" width="0.9" height="0.9"/><rect x="292.9" y="373.7" width="0.9" height="0.9"/><rect x="295.5" y="405.0" width="0.9" height="0.9"/><rect x="295.1" y="367.8" width="0.9" height="0.9"/><rect x="297.5" y="393.9" width="0.9" height="0.9"/><rect x="300.1" y="387.9" width="0.9" height="0.9"/><rect x="300.2" y="378.2" width="0.9" height="0.9"/><rect x="297.7" y="387.3" width="0.9" height="0.9"/><rect x="292.8" y="382.9" width="0.9" height="0.9"/><rect x="298.7" y="397.7" width="0.9" height="0.9"/><rect x="294.7" y="397.6" width="0.9" height="0.9"/><rect x="297.7" y="395.4" width="0.9" height="0.9"/><rect x="296.3" y="389.1" width="0.9" height="0.9"/><rect x="293.7" y="385.1" width="0.9" height="0.9"/><rect x="295.9" y="378.0" width="0.9" height="0.9"/><rect x="294.9" y="387.6" width="0.9" height="0.9"/><rect x="296.1" y="397.1" width="0.9" height="0.9"/><rect x="293.2" y="381.6" width="0.9" height="0.9"/><rect x="296.2" y="381.8" width="0.9" height="0.9"/><rect x="296.4" y="380.9" width="0.9" height="0.9"/><rect x="298.4" y="383.4" width="0.9" height="0.9"/><rect x="293.0" y="393.8" width="0.9" height="0.9"/><rect x="299.5" y="365.4" width="0.9" height="0.9"/><rect x="295.3" y="386.6" width="0.9" height="0.9"/><rect x="298.0" y="401.8" width="0.9" height="0.9"/><rect x="295.2" y="369.3" width="0.9" height="0.9"/><rect x="297.2" y="396.6" width="0.9" height="0.9"/><rect x="296.7" y="386.7" width="0.9" height="0.9"/><rect x="293.7" y="411.8" width="0.9" height="0.9"/><rect x="292.8" y="369.9" width="0.9" height="0.9"/><rect x="297.9" y="388.9" width="0.9" height="0.9"/><rect x="297.2" y="389.7" width="0.9" height="0.9"/><rect x="299.5" y="401.0" width="0.9" height="0.9"/><rect x="294.3" y="396.5" width="0.9" height="0.9"/><rect x="292.9" y="367.8" width="0.9" height="0.9"/><rect x="298.4" y="381.3" width="0.9" height="0.9"/><rect x="290.6" y="385.7" width="0.9" height="0.9"/><rect x="294.1" y="391.3" width="0.9" height="0.9"/><rect x="295.5" y="377.7" width="0.9" height="0.9"/><rect x="294.0" y="394.0" width="0.9" height="0.9"/><rect x="293.5" y="387.2" width="0.9" height="0.9"/></g>
<g fill="#7a80c0" fill-opacity="0.3"><rect x="312.1" y="384.9" width="0.8" height="0.8"/><rect x="340.1" y="386.2" width="0.8" height="0.8"/><rect x="333.3" y="384.9" width="0.8" height="0.8"/><rect x="312.3" y="376.5" width="0.8" height="0.8"/><rect x="322.8" y="384.8" width="0.8" height="0.8"/><rect x="316.0" y="386.7" width="0.8" height="0.8"/><rect x="314.8" y="380.6" width="0.8" height="0.8"/><rect x="322.0" y="367.1" width="0.8" height="0.8"/><rect x="332.2" y="380.4" width="0.8" height="0.8"/><rect x="323.2" y="379.5" width="0.8" height="0.8"/><rect x="313.0" y="390.9" width="0.8" height="0.8"/><rect x="316.2" y="386.6" width="0.8" height="0.8"/><rect x="311.7" y="370.5" width="0.8" height="0.8"/><rect x="317.3" y="391.6" width="0.8" height="0.8"/><rect x="305.3" y="377.9" width="0.8" height="0.8"/><rect x="326.2" y="381.4" width="0.8" height="0.8"/><rect x="321.9" y="388.5" width="0.8" height="0.8"/><rect x="325.0" y="368.7" width="0.8" height="0.8"/><rect x="328.5" y="371.2" width="0.8" height="0.8"/><rect x="318.6" y="396.0" width="0.8" height="0.8"/><rect x="326.4" y="371.2" width="0.8" height="0.8"/><rect x="314.4" y="398.4" width="0.8" height="0.8"/><rect x="325.4" y="364.5" width="0.8" height="0.8"/><rect x="337.9" y="386.3" width="0.8" height="0.8"/><rect x="335.4" y="384.4" width="0.8" height="0.8"/><rect x="320.6" y="378.0" width="0.8" height="0.8"/><rect x="337.3" y="372.4" width="0.8" height="0.8"/><rect x="321.1" y="379.2" width="0.8" height="0.8"/><rect x="321.1" y="368.4" width="0.8" height="0.8"/><rect x="325.4" y="377.6" width="0.8" height="0.8"/><rect x="324.1" y="368.2" width="0.8" height="0.8"/><rect x="322.1" y="369.1" width="0.8" height="0.8"/><rect x="311.9" y="383.6" width="0.8" height="0.8"/><rect x="328.5" y="386.3" width="0.8" height="0.8"/><rect x="321.6" y="375.6" width="0.8" height="0.8"/><rect x="336.1" y="393.7" width="0.8" height="0.8"/><rect x="315.7" y="367.8" width="0.8" height="0.8"/><rect x="325.8" y="383.4" width="0.8" height="0.8"/><rect x="312.9" y="405.2" width="0.8" height="0.8"/><rect x="324.5" y="390.8" width="0.8" height="0.8"/><rect x="303.4" y="375.0" width="0.8" height="0.8"/><rect x="336.5" y="395.5" width="0.8" height="0.8"/><rect x="319.5" y="380.3" width="0.8" height="0.8"/><rect x="313.1" y="384.2" width="0.8" height="0.8"/><rect x="306.7" y="380.5" width="0.8" height="0.8"/><rect x="308.8" y="392.2" width="0.8" height="0.8"/><rect x="335.0" y="390.9" width="0.8" height="0.8"/><rect x="328.7" y="392.4" width="0.8" height="0.8"/><rect x="324.7" y="389.5" width="0.8" height="0.8"/><rect x="326.8" y="388.5" width="0.8" height="0.8"/><rect x="311.8" y="372.6" width="0.8" height="0.8"/><rect x="312.0" y="389.1" width="0.8" height="0.8"/><rect x="327.2" y="371.1" width="0.8" height="0.8"/><rect x="312.1" y="373.5" width="0.8" height="0.8"/><rect x="330.9" y="378.6" width="0.8" height="0.8"/><rect x="319.6" y="372.2" width="0.8" height="0.8"/><rect x="320.9" y="397.6" width="0.8" height="0.8"/><rect x="315.1" y="376.0" width="0.8" height="0.8"/><rect x="339.2" y="387.9" width="0.8" height="0.8"/><rect x="310.6" y="391.9" width="0.8" height="0.8"/><rect x="309.4" y="386.1" width="0.8" height="0.8"/><rect x="331.3" y="373.3" width="0.8" height="0.8"/><rect x="314.8" y="380.5" width="0.8" height="0.8"/><rect x="322.1" y="374.7" width="0.8" height="0.8"/><rect x="315.3" y="399.8" width="0.8" height="0.8"/><rect x="337.1" y="383.5" width="0.8" height="0.8"/><rect x="310.5" y="374.0" width="0.8" height="0.8"/><rect x="319.1" y="385.3" width="0.8" height="0.8"/><rect x="338.2" y="374.1" width="0.8" height="0.8"/><rect x="323.6" y="375.1" width="0.8" height="0.8"/><rect x="323.5" y="372.3" width="0.8" height="0.8"/><rect x="325.9" y="392.7" width="0.8" height="0.8"/><rect x="318.1" y="376.2" width="0.8" height="0.8"/><rect x="323.2" y="365.3" width="0.8" height="0.8"/><rect x="340.3" y="365.0" width="0.8" height="0.8"/><rect x="318.5" y="370.1" width="0.8" height="0.8"/><rect x="337.2" y="374.5" width="0.8" height="0.8"/><rect x="317.0" y="400.8" width="0.8" height="0.8"/><rect x="320.9" y="371.3" width="0.8" height="0.8"/><rect x="322.0" y="382.0" width="0.8" height="0.8"/><rect x="314.6" y="377.9" width="0.8" height="0.8"/><rect x="320.0" y="387.9" width="0.8" height="0.8"/><rect x="329.8" y="389.1" width="0.8" height="0.8"/><rect x="320.8" y="388.7" width="0.8" height="0.8"/><rect x="319.9" y="392.7" width="0.8" height="0.8"/><rect x="326.1" y="375.2" width="0.8" height="0.8"/><rect x="334.5" y="363.1" width="0.8" height="0.8"/><rect x="312.3" y="371.1" width="0.8" height="0.8"/><rect x="320.8" y="366.3" width="0.8" height="0.8"/><rect x="323.2" y="371.4" width="0.8" height="0.8"/><rect x="310.6" y="394.5" width="0.8" height="0.8"/><rect x="323.1" y="391.8" width="0.8" height="0.8"/><rect x="310.9" y="392.7" width="0.8" height="0.8"/><rect x="333.1" y="375.3" width="0.8" height="0.8"/><rect x="313.5" y="375.7" width="0.8" height="0.8"/><rect x="324.7" y="406.5" width="0.8" height="0.8"/><rect x="340.3" y="396.5" width="0.8" height="0.8"/><rect x="319.9" y="376.3" width="0.8" height="0.8"/><rect x="325.8" y="376.8" width="0.8" height="0.8"/><rect x="317.4" y="377.6" width="0.8" height="0.8"/><rect x="330.6" y="379.1" width="0.8" height="0.8"/><rect x="324.5" y="377.0" width="0.8" height="0.8"/><rect x="320.1" y="376.2" width="0.8" height="0.8"/><rect x="334.8" y="382.5" width="0.8" height="0.8"/><rect x="337.1" y="378.0" width="0.8" height="0.8"/><rect x="332.8" y="364.6" width="0.8" height="0.8"/><rect x="318.0" y="379.2" width="0.8" height="0.8"/><rect x="315.7" y="378.6" width="0.8" height="0.8"/><rect x="312.8" y="378.1" width="0.8" height="0.8"/><rect x="315.4" y="379.8" width="0.8" height="0.8"/><rect x="319.1" y="368.8" width="0.8" height="0.8"/><rect x="318.0" y="380.2" width="0.8" height="0.8"/><rect x="309.3" y="381.0" width="0.8" height="0.8"/><rect x="334.6" y="377.4" width="0.8" height="0.8"/><rect x="327.6" y="386.8" width="0.8" height="0.8"/><rect x="314.0" y="394.5" width="0.8" height="0.8"/><rect x="333.5" y="381.4" width="0.8" height="0.8"/><rect x="309.2" y="370.8" width="0.8" height="0.8"/><rect x="311.5" y="369.9" width="0.8" height="0.8"/><rect x="325.9" y="377.9" width="0.8" height="0.8"/><rect x="326.8" y="380.9" width="0.8" height="0.8"/><rect x="324.5" y="380.2" width="0.8" height="0.8"/><rect x="329.3" y="365.1" width="0.8" height="0.8"/><rect x="308.9" y="378.0" width="0.8" height="0.8"/><rect x="325.8" y="379.8" width="0.8" height="0.8"/><rect x="327.1" y="370.1" width="0.8" height="0.8"/><rect x="317.3" y="388.5" width="0.8" height="0.8"/><rect x="339.1" y="381.6" width="0.8" height="0.8"/><rect x="321.0" y="394.4" width="0.8" height="0.8"/><rect x="313.1" y="378.2" width="0.8" height="0.8"/><rect x="317.0" y="369.0" width="0.8" height="0.8"/><rect x="324.0" y="402.4" width="0.8" height="0.8"/><rect x="324.6" y="385.4" width="0.8" height="0.8"/><rect x="321.8" y="392.4" width="0.8" height="0.8"/><rect x="323.9" y="370.1" width="0.8" height="0.8"/><rect x="323.1" y="395.8" width="0.8" height="0.8"/><rect x="321.2" y="393.2" width="0.8" height="0.8"/><rect x="321.4" y="402.3" width="0.8" height="0.8"/><rect x="324.9" y="387.1" width="0.8" height="0.8"/><rect x="319.2" y="389.1" width="0.8" height="0.8"/><rect x="319.8" y="363.5" width="0.8" height="0.8"/><rect x="325.1" y="366.5" width="0.8" height="0.8"/><rect x="337.0" y="388.7" width="0.8" height="0.8"/><rect x="322.2" y="387.5" width="0.8" height="0.8"/><rect x="315.5" y="387.3" width="0.8" height="0.8"/><rect x="317.9" y="383.7" width="0.8" height="0.8"/><rect x="312.7" y="396.3" width="0.8" height="0.8"/><rect x="316.0" y="386.0" width="0.8" height="0.8"/><rect x="308.3" y="369.8" width="0.8" height="0.8"/><rect x="303.7" y="382.9" width="0.8" height="0.8"/><rect x="333.7" y="380.9" width="0.8" height="0.8"/><rect x="319.3" y="382.6" width="0.8" height="0.8"/><rect x="326.8" y="376.7" width="0.8" height="0.8"/><rect x="327.7" y="401.5" width="0.8" height="0.8"/><rect x="309.4" y="401.1" width="0.8" height="0.8"/><rect x="332.0" y="393.3" width="0.8" height="0.8"/><rect x="328.2" y="377.4" width="0.8" height="0.8"/><rect x="331.9" y="392.3" width="0.8" height="0.8"/><rect x="333.9" y="367.9" width="0.8" height="0.8"/><rect x="332.4" y="376.0" width="0.8" height="0.8"/><rect x="318.5" y="383.8" width="0.8" height="0.8"/><rect x="318.6" y="405.5" width="0.8" height="0.8"/><rect x="327.8" y="382.9" width="0.8" height="0.8"/><rect x="320.2" y="382.7" width="0.8" height="0.8"/><rect x="319.8" y="386.3" width="0.8" height="0.8"/><rect x="330.8" y="389.2" width="0.8" height="0.8"/><rect x="309.5" y="376.2" width="0.8" height="0.8"/><rect x="322.9" y="366.4" width="0.8" height="0.8"/><rect x="325.9" y="378.3" width="0.8" height="0.8"/><rect x="322.7" y="384.1" width="0.8" height="0.8"/></g>
<path d="M344.0,359.5 L309,359.5 L299.8,412.3 L344.0,412.3" stroke="#555" stroke-width="0.8" fill="none"/>
<rect x="275.6" y="355.4" width="69.19999999999999" height="68.80000000000001" fill="none" stroke="#000" stroke-width="1.3"/>
<line x1="272.80" y1="424.20" x2="275.60" y2="424.20" stroke="#000" stroke-width="1"/>
<text x="270.30" y="426.10" font-size="5.2" text-anchor="end" fill="#333" stroke="#333" stroke-width="0.15" textLength="3.20" lengthAdjust="spacingAndGlyphs">0</text>
<line x1="272.80" y1="411.10" x2="275.60" y2="411.10" stroke="#000" stroke-width="1"/>
<text x="270.30" y="413.00" font-size="5.2" text-anchor="end" fill="#333" stroke="#333" stroke-width="0.15" textLength="9.60" lengthAdjust="spacingAndGlyphs">50K</text>
<line x1="272.80" y1="398.00" x2="275.60" y2="398.00" stroke="#000" stroke-width="1"/>
<text x="270.30" y="399.90" font-size="5.2" text-anchor="end" fill="#333" stroke="#333" stroke-width="0.15" textLength="12.80" lengthAdjust="spacingAndGlyphs">100K</text>
<line x1="272.80" y1="384.90" x2="275.60" y2="384.90" stroke="#000" stroke-width="1"/>
<text x="270.30" y="386.80" font-size="5.2" text-anchor="end" fill="#333" stroke="#333" stroke-width="0.15" textLength="12.80" lengthAdjust="spacingAndGlyphs">150K</text>
<line x1="272.80" y1="371.80" x2="275.60" y2="371.80" stroke="#000" stroke-width="1"/>
<text x="270.30" y="373.70" font-size="5.2" text-anchor="end" fill="#333" stroke="#333" stroke-width="0.15" textLength="12.80" lengthAdjust="spacingAndGlyphs">200K</text>
<line x1="272.80" y1="358.70" x2="275.60" y2="358.70" stroke="#000" stroke-width="1"/>
<text x="270.30" y="360.60" font-size="5.2" text-anchor="end" fill="#333" stroke="#333" stroke-width="0.15" textLength="12.80" lengthAdjust="spacingAndGlyphs">250K</text>
<line x1="274.00" y1="424.20" x2="275.60" y2="424.20" stroke="#000" stroke-width="0.7"/>
<line x1="274.00" y1="421.58" x2="275.60" y2="421.58" stroke="#000" stroke-width="0.7"/>
<line x1="274.00" y1="418.96" x2="275.60" y2="418.96" stroke="#000" stroke-width="0.7"/>
<line x1="274.00" y1="416.34" x2="275.60" y2="416.34" stroke="#000" stroke-width="0.7"/>
<line x1="274.00" y1="413.72" x2="275.60" y2="413.72" stroke="#000" stroke-width="0.7"/>
<line x1="274.00" y1="411.10" x2="275.60" y2="411.10" stroke="#000" stroke-width="0.7"/>
<line x1="274.00" y1="408.48" x2="275.60" y2="408.48" stroke="#000" stroke-width="0.7"/>
<line x1="274.00" y1="405.86" x2="275.60" y2="405.86" stroke="#000" stroke-width="0.7"/>
<line x1="274.00" y1="403.24" x2="275.60" y2="403.24" stroke="#000" stroke-width="0.7"/>
<line x1="274.00" y1="400.62" x2="275.60" y2="400.62" stroke="#000" stroke-width="0.7"/>
<line x1="274.00" y1="398.00" x2="275.60" y2="398.00" stroke="#000" stroke-width="0.7"/>
<line x1="274.00" y1="395.38" x2="275.60" y2="395.38" stroke="#000" stroke-width="0.7"/>
<line x1="274.00" y1="392.76" x2="275.60" y2="392.76" stroke="#000" stroke-width="0.7"/>
<line x1="274.00" y1="390.14" x2="275.60" y2="390.14" stroke="#000" stroke-width="0.7"/>
<line x1="274.00" y1="387.52" x2="275.60" y2="387.52" stroke="#000" stroke-width="0.7"/>
<line x1="274.00" y1="384.90" x2="275.60" y2="384.90" stroke="#000" stroke-width="0.7"/>
<line x1="274.00" y1="382.28" x2="275.60" y2="382.28" stroke="#000" stroke-width="0.7"/>
<line x1="274.00" y1="379.66" x2="275.60" y2="379.66" stroke="#000" stroke-width="0.7"/>
<line x1="274.00" y1="377.04" x2="275.60" y2="377.04" stroke="#000" stroke-width="0.7"/>
<line x1="274.00" y1="374.42" x2="275.60" y2="374.42" stroke="#000" stroke-width="0.7"/>
<line x1="274.00" y1="371.80" x2="275.60" y2="371.80" stroke="#000" stroke-width="0.7"/>
<line x1="274.00" y1="369.18" x2="275.60" y2="369.18" stroke="#000" stroke-width="0.7"/>
<line x1="274.00" y1="366.56" x2="275.60" y2="366.56" stroke="#000" stroke-width="0.7"/>
<line x1="274.00" y1="363.94" x2="275.60" y2="363.94" stroke="#000" stroke-width="0.7"/>
<line x1="274.00" y1="361.32" x2="275.60" y2="361.32" stroke="#000" stroke-width="0.7"/>
<line x1="274.00" y1="358.70" x2="275.60" y2="358.70" stroke="#000" stroke-width="0.7"/>
<line x1="279.40" y1="424.20" x2="279.40" y2="426.80" stroke="#000" stroke-width="1"/>
<line x1="291.20" y1="424.20" x2="291.20" y2="426.80" stroke="#000" stroke-width="1"/>
<line x1="302.90" y1="424.20" x2="302.90" y2="426.80" stroke="#000" stroke-width="1"/>
<line x1="322.00" y1="424.20" x2="322.00" y2="426.80" stroke="#000" stroke-width="1"/>
<line x1="337.80" y1="424.20" x2="337.80" y2="426.80" stroke="#000" stroke-width="1"/>
<line x1="283.00" y1="424.20" x2="283.00" y2="425.70" stroke="#000" stroke-width="0.7"/>
<line x1="285.00" y1="424.20" x2="285.00" y2="425.70" stroke="#000" stroke-width="0.7"/>
<line x1="287.00" y1="424.20" x2="287.00" y2="425.70" stroke="#000" stroke-width="0.7"/>
<line x1="288.50" y1="424.20" x2="288.50" y2="425.70" stroke="#000" stroke-width="0.7"/>
<line x1="289.50" y1="424.20" x2="289.50" y2="425.70" stroke="#000" stroke-width="0.7"/>
<line x1="293.00" y1="424.20" x2="293.00" y2="425.70" stroke="#000" stroke-width="0.7"/>
<line x1="294.50" y1="424.20" x2="294.50" y2="425.70" stroke="#000" stroke-width="0.7"/>
<line x1="296.00" y1="424.20" x2="296.00" y2="425.70" stroke="#000" stroke-width="0.7"/>
<line x1="298.00" y1="424.20" x2="298.00" y2="425.70" stroke="#000" stroke-width="0.7"/>
<line x1="300.00" y1="424.20" x2="300.00" y2="425.70" stroke="#000" stroke-width="0.7"/>
<line x1="301.00" y1="424.20" x2="301.00" y2="425.70" stroke="#000" stroke-width="0.7"/>
<line x1="306.00" y1="424.20" x2="306.00" y2="425.70" stroke="#000" stroke-width="0.7"/>
<line x1="309.00" y1="424.20" x2="309.00" y2="425.70" stroke="#000" stroke-width="0.7"/>
<line x1="312.00" y1="424.20" x2="312.00" y2="425.70" stroke="#000" stroke-width="0.7"/>
<line x1="315.00" y1="424.20" x2="315.00" y2="425.70" stroke="#000" stroke-width="0.7"/>
<line x1="317.00" y1="424.20" x2="317.00" y2="425.70" stroke="#000" stroke-width="0.7"/>
<line x1="319.00" y1="424.20" x2="319.00" y2="425.70" stroke="#000" stroke-width="0.7"/>
<line x1="320.50" y1="424.20" x2="320.50" y2="425.70" stroke="#000" stroke-width="0.7"/>
<line x1="326.00" y1="424.20" x2="326.00" y2="425.70" stroke="#000" stroke-width="0.7"/>
<line x1="329.00" y1="424.20" x2="329.00" y2="425.70" stroke="#000" stroke-width="0.7"/>
<line x1="331.00" y1="424.20" x2="331.00" y2="425.70" stroke="#000" stroke-width="0.7"/>
<line x1="333.00" y1="424.20" x2="333.00" y2="425.70" stroke="#000" stroke-width="0.7"/>
<line x1="335.00" y1="424.20" x2="335.00" y2="425.70" stroke="#000" stroke-width="0.7"/>
<line x1="336.00" y1="424.20" x2="336.00" y2="425.70" stroke="#000" stroke-width="0.7"/>
<line x1="340.00" y1="424.20" x2="340.00" y2="425.70" stroke="#000" stroke-width="0.7"/>
<line x1="341.50" y1="424.20" x2="341.50" y2="425.70" stroke="#000" stroke-width="0.7"/>
<rect x="287.80" y="424.70" width="5.00" height="1.80" fill="#000"/>
<text x="280.00" y="434.70" font-size="5.2" text-anchor="middle" fill="#333" stroke="#333" stroke-width="0.15">-10</text>
<text x="284.80" y="432.40" font-size="3.4" text-anchor="start" fill="#333" stroke="#333" stroke-width="0.15">3</text>
<text x="291.20" y="434.70" font-size="5.2" text-anchor="middle" fill="#333" stroke="#333" stroke-width="0.15">0</text>
<text x="303.50" y="434.70" font-size="5.2" text-anchor="middle" fill="#333" stroke="#333" stroke-width="0.15">10</text>
<text x="306.80" y="432.40" font-size="3.4" text-anchor="start" fill="#333" stroke="#333" stroke-width="0.15">3</text>
<text x="322.60" y="434.70" font-size="5.2" text-anchor="middle" fill="#333" stroke="#333" stroke-width="0.15">10</text>
<text x="325.90" y="432.40" font-size="3.4" text-anchor="start" fill="#333" stroke="#333" stroke-width="0.15">4</text>
<text x="338.40" y="434.70" font-size="5.2" text-anchor="middle" fill="#333" stroke="#333" stroke-width="0.15">10</text>
<text x="341.70" y="432.40" font-size="3.4" text-anchor="start" fill="#333" stroke="#333" stroke-width="0.15">5</text>
<text x="265.50" y="351.00" font-size="6.6" text-anchor="start" fill="#222" stroke="#222" stroke-width="0.15" textLength="7.90" lengthAdjust="spacingAndGlyphs">NT</text>
<text x="331.00" y="401.40" font-size="3.8" text-anchor="middle" fill="#444" stroke="#444" stroke-width="0.1" textLength="13.50" lengthAdjust="spacingAndGlyphs">Venus+</text>
<text x="331.00" y="407.00" font-size="4.4" text-anchor="middle" fill="#444" stroke="#444" stroke-width="0.1" textLength="7.00" lengthAdjust="spacingAndGlyphs">16.8</text>
<g fill="#5a64b8" fill-opacity="0.33"><rect x="292.3" y="486.0" width="0.9" height="0.9"/><rect x="295.0" y="478.6" width="0.9" height="0.9"/><rect x="297.8" y="484.3" width="0.9" height="0.9"/><rect x="295.0" y="502.5" width="0.9" height="0.9"/><rect x="294.5" y="470.3" width="0.9" height="0.9"/><rect x="292.4" y="478.1" width="0.9" height="0.9"/><rect x="297.1" y="492.5" width="0.9" height="0.9"/><rect x="298.2" y="503.1" width="0.9" height="0.9"/><rect x="299.6" y="490.6" width="0.9" height="0.9"/><rect x="298.7" y="490.8" width="0.9" height="0.9"/><rect x="294.4" y="492.7" width="0.9" height="0.9"/><rect x="295.8" y="481.9" width="0.9" height="0.9"/><rect x="300.3" y="492.3" width="0.9" height="0.9"/><rect x="294.6" y="483.3" width="0.9" height="0.9"/><rect x="301.2" y="481.5" width="0.9" height="0.9"/><rect x="297.4" y="490.8" width="0.9" height="0.9"/><rect x="296.9" y="490.4" width="0.9" height="0.9"/><rect x="294.6" y="479.3" width="0.9" height="0.9"/><rect x="295.4" y="480.4" width="0.9" height="0.9"/><rect x="297.6" y="500.6" width="0.9" height="0.9"/><rect x="293.7" y="490.0" width="0.9" height="0.9"/><rect x="293.4" y="476.8" width="0.9" height="0.9"/><rect x="295.2" y="485.3" width="0.9" height="0.9"/><rect x="299.0" y="481.3" width="0.9" height="0.9"/><rect x="294.2" y="491.4" width="0.9" height="0.9"/><rect x="294.3" y="469.0" width="0.9" height="0.9"/><rect x="296.9" y="488.6" width="0.9" height="0.9"/><rect x="293.8" y="493.1" width="0.9" height="0.9"/><rect x="296.6" y="472.1" width="0.9" height="0.9"/><rect x="299.8" y="487.0" width="0.9" height="0.9"/><rect x="293.1" y="489.0" width="0.9" height="0.9"/><rect x="296.0" y="494.5" width="0.9" height="0.9"/><rect x="292.6" y="495.3" width="0.9" height="0.9"/><rect x="297.9" y="491.6" width="0.9" height="0.9"/><rect x="297.2" y="498.2" width="0.9" height="0.9"/><rect x="297.4" y="485.5" width="0.9" height="0.9"/><rect x="293.8" y="496.0" width="0.9" height="0.9"/><rect x="298.0" y="487.3" width="0.9" height="0.9"/><rect x="296.1" y="491.9" width="0.9" height="0.9"/><rect x="289.9" y="487.5" width="0.9" height="0.9"/><rect x="289.9" y="486.7" width="0.9" height="0.9"/><rect x="298.2" y="504.3" width="0.9" height="0.9"/><rect x="294.6" y="488.7" width="0.9" height="0.9"/><rect x="295.6" y="460.4" width="0.9" height="0.9"/><rect x="297.4" y="483.9" width="0.9" height="0.9"/><rect x="295.9" y="474.1" width="0.9" height="0.9"/><rect x="295.6" y="485.0" width="0.9" height="0.9"/><rect x="298.7" y="487.2" width="0.9" height="0.9"/><rect x="295.1" y="483.5" width="0.9" height="0.9"/><rect x="293.8" y="500.2" width="0.9" height="0.9"/><rect x="297.2" y="470.5" width="0.9" height="0.9"/><rect x="296.0" y="496.3" width="0.9" height="0.9"/><rect x="292.4" y="485.7" width="0.9" height="0.9"/><rect x="295.2" y="508.9" width="0.9" height="0.9"/><rect x="296.7" y="479.8" width="0.9" height="0.9"/><rect x="294.4" y="504.2" width="0.9" height="0.9"/><rect x="294.6" y="508.4" width="0.9" height="0.9"/><rect x="292.1" y="482.1" width="0.9" height="0.9"/><rect x="295.2" y="476.6" width="0.9" height="0.9"/><rect x="295.2" y="491.5" width="0.9" height="0.9"/><rect x="294.2" y="468.8" width="0.9" height="0.9"/><rect x="298.8" y="499.7" width="0.9" height="0.9"/><rect x="294.1" y="487.3" width="0.9" height="0.9"/><rect x="289.7" y="495.2" width="0.9" height="0.9"/><rect x="292.6" y="478.2" width="0.9" height="0.9"/><rect x="300.8" y="470.7" width="0.9" height="0.9"/><rect x="295.8" y="472.7" width="0.9" height="0.9"/><rect x="291.4" y="471.7" width="0.9" height="0.9"/><rect x="296.3" y="470.2" width="0.9" height="0.9"/><rect x="294.3" y="491.8" width="0.9" height="0.9"/><rect x="295.3" y="470.1" width="0.9" height="0.9"/><rect x="299.2" y="485.4" width="0.9" height="0.9"/><rect x="299.0" y="472.9" width="0.9" height="0.9"/><rect x="299.6" y="469.7" width="0.9" height="0.9"/><rect x="291.6" y="479.6" width="0.9" height="0.9"/><rect x="294.8" y="486.9" width="0.9" height="0.9"/><rect x="294.4" y="490.8" width="0.9" height="0.9"/><rect x="298.8" y="477.1" width="0.9" height="0.9"/><rect x="292.5" y="479.8" width="0.9" height="0.9"/><rect x="297.6" y="492.8" width="0.9" height="0.9"/><rect x="294.9" y="473.6" width="0.9" height="0.9"/><rect x="295.7" y="494.3" width="0.9" height="0.9"/><rect x="294.0" y="497.9" width="0.9" height="0.9"/><rect x="296.2" y="487.2" width="0.9" height="0.9"/><rect x="294.2" y="498.6" width="0.9" height="0.9"/><rect x="295.8" y="468.2" width="0.9" height="0.9"/><rect x="297.6" y="479.6" width="0.9" height="0.9"/><rect x="298.2" y="485.9" width="0.9" height="0.9"/><rect x="294.2" y="485.9" width="0.9" height="0.9"/><rect x="294.6" y="475.3" width="0.9" height="0.9"/><rect x="295.7" y="492.9" width="0.9" height="0.9"/><rect x="295.9" y="483.1" width="0.9" height="0.9"/><rect x="294.4" y="490.1" width="0.9" height="0.9"/><rect x="296.3" y="494.3" width="0.9" height="0.9"/><rect x="296.6" y="506.7" width="0.9" height="0.9"/><rect x="292.0" y="483.5" width="0.9" height="0.9"/><rect x="296.9" y="493.6" width="0.9" height="0.9"/><rect x="292.1" y="471.1" width="0.9" height="0.9"/><rect x="295.6" y="495.2" width="0.9" height="0.9"/><rect x="298.3" y="467.9" width="0.9" height="0.9"/><rect x="296.0" y="496.5" width="0.9" height="0.9"/><rect x="295.8" y="473.1" width="0.9" height="0.9"/><rect x="294.0" y="469.9" width="0.9" height="0.9"/><rect x="298.5" y="481.3" width="0.9" height="0.9"/><rect x="294.7" y="474.8" width="0.9" height="0.9"/><rect x="295.4" y="474.4" width="0.9" height="0.9"/><rect x="293.4" y="483.6" width="0.9" height="0.9"/><rect x="295.2" y="488.9" width="0.9" height="0.9"/><rect x="296.0" y="496.6" width="0.9" height="0.9"/><rect x="295.6" y="486.8" width="0.9" height="0.9"/><rect x="296.2" y="475.5" width="0.9" height="0.9"/><rect x="298.5" y="478.1" width="0.9" height="0.9"/><rect x="292.0" y="497.3" width="0.9" height="0.9"/><rect x="297.2" y="478.0" width="0.9" height="0.9"/><rect x="297.9" y="494.3" width="0.9" height="0.9"/><rect x="297.3" y="471.6" width="0.9" height="0.9"/><rect x="296.1" y="473.0" width="0.9" height="0.9"/><rect x="294.3" y="478.1" width="0.9" height="0.9"/><rect x="293.7" y="489.3" width="0.9" height="0.9"/><rect x="293.9" y="490.6" width="0.9" height="0.9"/><rect x="296.1" y="477.6" width="0.9" height="0.9"/><rect x="296.1" y="491.3" width="0.9" height="0.9"/><rect x="298.4" y="481.3" width="0.9" height="0.9"/><rect x="299.7" y="490.1" width="0.9" height="0.9"/><rect x="298.6" y="469.7" width="0.9" height="0.9"/><rect x="293.2" y="496.9" width="0.9" height="0.9"/><rect x="295.2" y="489.0" width="0.9" height="0.9"/><rect x="298.5" y="468.7" width="0.9" height="0.9"/><rect x="296.7" y="504.6" width="0.9" height="0.9"/><rect x="297.6" y="485.0" width="0.9" height="0.9"/><rect x="297.0" y="484.1" width="0.9" height="0.9"/><rect x="297.5" y="497.8" width="0.9" height="0.9"/><rect x="295.2" y="490.1" width="0.9" height="0.9"/><rect x="296.4" y="491.9" width="0.9" height="0.9"/><rect x="297.6" y="472.7" width="0.9" height="0.9"/><rect x="298.4" y="493.2" width="0.9" height="0.9"/><rect x="293.2" y="481.0" width="0.9" height="0.9"/><rect x="292.3" y="481.0" width="0.9" height="0.9"/><rect x="296.5" y="471.8" width="0.9" height="0.9"/><rect x="293.9" y="474.7" width="0.9" height="0.9"/><rect x="294.1" y="475.8" width="0.9" height="0.9"/><rect x="293.2" y="490.1" width="0.9" height="0.9"/><rect x="295.2" y="475.3" width="0.9" height="0.9"/><rect x="298.0" y="478.0" width="0.9" height="0.9"/><rect x="297.8" y="470.9" width="0.9" height="0.9"/><rect x="299.0" y="479.3" width="0.9" height="0.9"/><rect x="293.5" y="488.4" width="0.9" height="0.9"/><rect x="292.6" y="472.6" width="0.9" height="0.9"/><rect x="296.2" y="478.9" width="0.9" height="0.9"/><rect x="296.6" y="485.5" width="0.9" height="0.9"/><rect x="296.3" y="485.4" width="0.9" height="0.9"/><rect x="297.3" y="484.0" width="0.9" height="0.9"/><rect x="298.2" y="494.0" width="0.9" height="0.9"/><rect x="291.1" y="465.5" width="0.9" height="0.9"/><rect x="299.3" y="479.3" width="0.9" height="0.9"/><rect x="296.1" y="482.8" width="0.9" height="0.9"/><rect x="296.3" y="507.3" width="0.9" height="0.9"/><rect x="294.1" y="484.7" width="0.9" height="0.9"/><rect x="295.7" y="472.6" width="0.9" height="0.9"/><rect x="293.7" y="481.2" width="0.9" height="0.9"/><rect x="295.7" y="488.1" width="0.9" height="0.9"/><rect x="291.2" y="467.5" width="0.9" height="0.9"/><rect x="299.5" y="482.1" width="0.9" height="0.9"/><rect x="297.6" y="479.6" width="0.9" height="0.9"/><rect x="294.0" y="506.3" width="0.9" height="0.9"/><rect x="292.8" y="474.4" width="0.9" height="0.9"/><rect x="297.3" y="484.2" width="0.9" height="0.9"/><rect x="291.9" y="485.5" width="0.9" height="0.9"/><rect x="297.4" y="467.9" width="0.9" height="0.9"/><rect x="294.4" y="492.3" width="0.9" height="0.9"/><rect x="300.1" y="459.5" width="0.9" height="0.9"/><rect x="294.1" y="484.3" width="0.9" height="0.9"/><rect x="293.6" y="474.4" width="0.9" height="0.9"/><rect x="294.5" y="489.4" width="0.9" height="0.9"/><rect x="293.2" y="493.1" width="0.9" height="0.9"/><rect x="297.6" y="493.0" width="0.9" height="0.9"/><rect x="299.2" y="478.5" width="0.9" height="0.9"/><rect x="295.6" y="494.5" width="0.9" height="0.9"/><rect x="298.6" y="493.9" width="0.9" height="0.9"/><rect x="294.6" y="478.8" width="0.9" height="0.9"/><rect x="292.6" y="479.4" width="0.9" height="0.9"/><rect x="293.6" y="478.8" width="0.9" height="0.9"/><rect x="294.8" y="492.7" width="0.9" height="0.9"/><rect x="297.7" y="483.5" width="0.9" height="0.9"/><rect x="293.0" y="483.4" width="0.9" height="0.9"/><rect x="296.7" y="493.0" width="0.9" height="0.9"/><rect x="296.2" y="492.5" width="0.9" height="0.9"/><rect x="294.2" y="490.8" width="0.9" height="0.9"/><rect x="297.4" y="480.3" width="0.9" height="0.9"/><rect x="293.9" y="497.0" width="0.9" height="0.9"/><rect x="293.4" y="491.2" width="0.9" height="0.9"/><rect x="295.1" y="480.3" width="0.9" height="0.9"/><rect x="295.1" y="479.3" width="0.9" height="0.9"/><rect x="295.6" y="502.7" width="0.9" height="0.9"/><rect x="299.0" y="482.6" width="0.9" height="0.9"/><rect x="296.8" y="493.5" width="0.9" height="0.9"/><rect x="294.7" y="503.3" width="0.9" height="0.9"/><rect x="295.8" y="490.5" width="0.9" height="0.9"/><rect x="293.5" y="472.2" width="0.9" height="0.9"/><rect x="293.4" y="477.2" width="0.9" height="0.9"/><rect x="298.1" y="480.6" width="0.9" height="0.9"/><rect x="297.7" y="479.6" width="0.9" height="0.9"/><rect x="293.5" y="485.7" width="0.9" height="0.9"/><rect x="294.8" y="466.5" width="0.9" height="0.9"/><rect x="295.8" y="496.4" width="0.9" height="0.9"/><rect x="295.2" y="471.3" width="0.9" height="0.9"/><rect x="293.9" y="471.2" width="0.9" height="0.9"/><rect x="295.1" y="474.0" width="0.9" height="0.9"/><rect x="295.4" y="485.8" width="0.9" height="0.9"/><rect x="298.7" y="471.8" width="0.9" height="0.9"/><rect x="291.0" y="501.1" width="0.9" height="0.9"/><rect x="296.7" y="480.1" width="0.9" height="0.9"/><rect x="296.8" y="474.2" width="0.9" height="0.9"/><rect x="294.9" y="491.1" width="0.9" height="0.9"/><rect x="295.0" y="485.4" width="0.9" height="0.9"/><rect x="296.7" y="485.2" width="0.9" height="0.9"/><rect x="295.1" y="489.4" width="0.9" height="0.9"/><rect x="298.7" y="497.3" width="0.9" height="0.9"/><rect x="293.7" y="492.0" width="0.9" height="0.9"/><rect x="291.3" y="469.1" width="0.9" height="0.9"/><rect x="296.6" y="489.6" width="0.9" height="0.9"/><rect x="298.8" y="465.9" width="0.9" height="0.9"/><rect x="298.2" y="478.3" width="0.9" height="0.9"/><rect x="294.6" y="488.6" width="0.9" height="0.9"/><rect x="298.9" y="474.1" width="0.9" height="0.9"/><rect x="291.7" y="477.7" width="0.9" height="0.9"/><rect x="295.4" y="496.5" width="0.9" height="0.9"/><rect x="296.5" y="480.8" width="0.9" height="0.9"/><rect x="294.5" y="479.1" width="0.9" height="0.9"/><rect x="297.9" y="466.5" width="0.9" height="0.9"/><rect x="294.1" y="474.8" width="0.9" height="0.9"/><rect x="298.3" y="485.3" width="0.9" height="0.9"/><rect x="294.1" y="491.8" width="0.9" height="0.9"/><rect x="300.2" y="494.7" width="0.9" height="0.9"/><rect x="292.7" y="481.7" width="0.9" height="0.9"/><rect x="298.3" y="464.9" width="0.9" height="0.9"/><rect x="292.9" y="479.6" width="0.9" height="0.9"/><rect x="296.9" y="475.3" width="0.9" height="0.9"/><rect x="296.0" y="482.2" width="0.9" height="0.9"/><rect x="296.4" y="471.3" width="0.9" height="0.9"/><rect x="290.6" y="461.3" width="0.9" height="0.9"/><rect x="296.0" y="494.1" width="0.9" height="0.9"/><rect x="296.8" y="467.0" width="0.9" height="0.9"/><rect x="291.7" y="480.8" width="0.9" height="0.9"/><rect x="293.6" y="464.6" width="0.9" height="0.9"/><rect x="294.3" y="475.5" width="0.9" height="0.9"/><rect x="295.4" y="487.8" width="0.9" height="0.9"/><rect x="296.1" y="485.8" width="0.9" height="0.9"/><rect x="296.9" y="482.7" width="0.9" height="0.9"/><rect x="294.6" y="480.2" width="0.9" height="0.9"/><rect x="298.4" y="480.9" width="0.9" height="0.9"/><rect x="297.5" y="501.2" width="0.9" height="0.9"/><rect x="299.7" y="461.3" width="0.9" height="0.9"/><rect x="296.0" y="494.1" width="0.9" height="0.9"/><rect x="294.6" y="476.4" width="0.9" height="0.9"/><rect x="292.4" y="476.7" width="0.9" height="0.9"/><rect x="295.6" y="464.0" width="0.9" height="0.9"/><rect x="295.6" y="475.0" width="0.9" height="0.9"/><rect x="295.7" y="472.4" width="0.9" height="0.9"/><rect x="295.8" y="485.5" width="0.9" height="0.9"/><rect x="294.0" y="476.7" width="0.9" height="0.9"/><rect x="297.8" y="490.4" width="0.9" height="0.9"/><rect x="293.8" y="488.3" width="0.9" height="0.9"/><rect x="293.0" y="478.3" width="0.9" height="0.9"/><rect x="288.9" y="477.8" width="0.9" height="0.9"/><rect x="297.2" y="478.6" width="0.9" height="0.9"/><rect x="297.0" y="477.0" width="0.9" height="0.9"/><rect x="296.3" y="482.2" width="0.9" height="0.9"/><rect x="293.4" y="505.7" width="0.9" height="0.9"/><rect x="293.7" y="469.6" width="0.9" height="0.9"/><rect x="295.9" y="488.7" width="0.9" height="0.9"/><rect x="296.4" y="482.6" width="0.9" height="0.9"/><rect x="296.7" y="493.5" width="0.9" height="0.9"/><rect x="297.1" y="469.2" width="0.9" height="0.9"/><rect x="299.6" y="483.4" width="0.9" height="0.9"/><rect x="290.9" y="492.5" width="0.9" height="0.9"/><rect x="295.3" y="486.7" width="0.9" height="0.9"/><rect x="300.2" y="478.1" width="0.9" height="0.9"/><rect x="294.2" y="473.4" width="0.9" height="0.9"/><rect x="296.1" y="490.7" width="0.9" height="0.9"/><rect x="296.5" y="485.5" width="0.9" height="0.9"/><rect x="290.7" y="486.5" width="0.9" height="0.9"/><rect x="298.1" y="478.4" width="0.9" height="0.9"/><rect x="294.4" y="473.1" width="0.9" height="0.9"/><rect x="296.2" y="467.4" width="0.9" height="0.9"/><rect x="300.0" y="481.7" width="0.9" height="0.9"/><rect x="294.3" y="471.0" width="0.9" height="0.9"/><rect x="296.9" y="493.9" width="0.9" height="0.9"/><rect x="294.3" y="485.6" width="0.9" height="0.9"/><rect x="296.3" y="493.9" width="0.9" height="0.9"/><rect x="297.0" y="496.7" width="0.9" height="0.9"/><rect x="292.4" y="511.1" width="0.9" height="0.9"/><rect x="294.5" y="472.0" width="0.9" height="0.9"/><rect x="293.5" y="487.8" width="0.9" height="0.9"/><rect x="297.4" y="509.2" width="0.9" height="0.9"/><rect x="298.5" y="475.7" width="0.9" height="0.9"/><rect x="294.8" y="478.9" width="0.9" height="0.9"/><rect x="294.3" y="482.0" width="0.9" height="0.9"/><rect x="294.2" y="496.1" width="0.9" height="0.9"/><rect x="296.4" y="490.3" width="0.9" height="0.9"/><rect x="295.3" y="471.6" width="0.9" height="0.9"/><rect x="296.6" y="479.6" width="0.9" height="0.9"/><rect x="300.2" y="496.7" width="0.9" height="0.9"/><rect x="292.9" y="473.4" width="0.9" height="0.9"/><rect x="294.4" y="481.5" width="0.9" height="0.9"/><rect x="298.3" y="481.9" width="0.9" height="0.9"/><rect x="296.7" y="480.4" width="0.9" height="0.9"/><rect x="295.1" y="496.7" width="0.9" height="0.9"/><rect x="295.7" y="504.4" width="0.9" height="0.9"/><rect x="295.5" y="487.9" width="0.9" height="0.9"/><rect x="296.6" y="490.7" width="0.9" height="0.9"/><rect x="300.1" y="476.7" width="0.9" height="0.9"/><rect x="294.4" y="473.9" width="0.9" height="0.9"/><rect x="299.8" y="488.7" width="0.9" height="0.9"/><rect x="296.7" y="488.6" width="0.9" height="0.9"/><rect x="291.4" y="491.9" width="0.9" height="0.9"/><rect x="295.9" y="487.0" width="0.9" height="0.9"/><rect x="295.8" y="482.9" width="0.9" height="0.9"/><rect x="295.5" y="477.8" width="0.9" height="0.9"/><rect x="295.1" y="490.4" width="0.9" height="0.9"/><rect x="290.8" y="492.5" width="0.9" height="0.9"/><rect x="297.1" y="472.6" width="0.9" height="0.9"/><rect x="296.8" y="487.0" width="0.9" height="0.9"/><rect x="294.5" y="501.5" width="0.9" height="0.9"/><rect x="296.1" y="482.4" width="0.9" height="0.9"/><rect x="292.7" y="506.6" width="0.9" height="0.9"/><rect x="296.1" y="487.1" width="0.9" height="0.9"/><rect x="295.1" y="505.5" width="0.9" height="0.9"/><rect x="295.3" y="500.3" width="0.9" height="0.9"/><rect x="298.1" y="494.0" width="0.9" height="0.9"/><rect x="297.1" y="495.9" width="0.9" height="0.9"/><rect x="295.4" y="462.1" width="0.9" height="0.9"/><rect x="289.5" y="495.5" width="0.9" height="0.9"/><rect x="290.9" y="497.9" width="0.9" height="0.9"/><rect x="297.0" y="488.8" width="0.9" height="0.9"/><rect x="294.0" y="463.0" width="0.9" height="0.9"/><rect x="295.4" y="501.5" width="0.9" height="0.9"/><rect x="295.4" y="483.7" width="0.9" height="0.9"/><rect x="295.8" y="484.2" width="0.9" height="0.9"/><rect x="296.3" y="507.8" width="0.9" height="0.9"/><rect x="293.6" y="464.7" width="0.9" height="0.9"/><rect x="297.6" y="478.3" width="0.9" height="0.9"/><rect x="294.5" y="469.2" width="0.9" height="0.9"/><rect x="295.2" y="479.3" width="0.9" height="0.9"/><rect x="296.6" y="479.6" width="0.9" height="0.9"/><rect x="292.3" y="489.0" width="0.9" height="0.9"/><rect x="295.5" y="464.0" width="0.9" height="0.9"/><rect x="294.9" y="491.8" width="0.9" height="0.9"/><rect x="295.5" y="480.4" width="0.9" height="0.9"/><rect x="297.0" y="477.1" width="0.9" height="0.9"/><rect x="294.0" y="489.3" width="0.9" height="0.9"/><rect x="295.3" y="477.3" width="0.9" height="0.9"/><rect x="296.2" y="486.5" width="0.9" height="0.9"/><rect x="297.8" y="494.4" width="0.9" height="0.9"/><rect x="295.8" y="483.5" width="0.9" height="0.9"/><rect x="293.5" y="485.9" width="0.9" height="0.9"/><rect x="294.8" y="492.6" width="0.9" height="0.9"/><rect x="297.5" y="490.5" width="0.9" height="0.9"/><rect x="295.5" y="487.3" width="0.9" height="0.9"/><rect x="299.1" y="501.7" width="0.9" height="0.9"/><rect x="297.1" y="467.8" width="0.9" height="0.9"/><rect x="295.8" y="488.6" width="0.9" height="0.9"/><rect x="299.1" y="482.0" width="0.9" height="0.9"/><rect x="295.4" y="477.8" width="0.9" height="0.9"/><rect x="296.3" y="471.0" width="0.9" height="0.9"/><rect x="296.9" y="487.4" width="0.9" height="0.9"/><rect x="298.7" y="480.6" width="0.9" height="0.9"/><rect x="296.4" y="485.9" width="0.9" height="0.9"/><rect x="295.6" y="473.8" width="0.9" height="0.9"/><rect x="294.4" y="484.4" width="0.9" height="0.9"/><rect x="296.8" y="494.7" width="0.9" height="0.9"/><rect x="294.3" y="486.6" width="0.9" height="0.9"/><rect x="297.1" y="492.8" width="0.9" height="0.9"/><rect x="296.2" y="486.1" width="0.9" height="0.9"/><rect x="294.9" y="484.2" width="0.9" height="0.9"/><rect x="295.2" y="465.7" width="0.9" height="0.9"/><rect x="296.8" y="493.1" width="0.9" height="0.9"/><rect x="294.8" y="485.7" width="0.9" height="0.9"/><rect x="296.0" y="481.3" width="0.9" height="0.9"/><rect x="299.0" y="481.9" width="0.9" height="0.9"/><rect x="296.4" y="483.2" width="0.9" height="0.9"/><rect x="300.2" y="466.8" width="0.9" height="0.9"/><rect x="296.1" y="470.0" width="0.9" height="0.9"/><rect x="294.0" y="473.9" width="0.9" height="0.9"/><rect x="297.4" y="472.6" width="0.9" height="0.9"/><rect x="293.4" y="480.5" width="0.9" height="0.9"/><rect x="293.5" y="473.5" width="0.9" height="0.9"/><rect x="299.3" y="477.0" width="0.9" height="0.9"/><rect x="293.8" y="498.3" width="0.9" height="0.9"/><rect x="295.9" y="495.6" width="0.9" height="0.9"/><rect x="291.9" y="480.8" width="0.9" height="0.9"/><rect x="296.8" y="486.2" width="0.9" height="0.9"/><rect x="296.9" y="496.9" width="0.9" height="0.9"/><rect x="297.0" y="495.4" width="0.9" height="0.9"/><rect x="297.4" y="476.1" width="0.9" height="0.9"/><rect x="296.1" y="497.6" width="0.9" height="0.9"/><rect x="293.5" y="489.5" width="0.9" height="0.9"/><rect x="297.1" y="497.9" width="0.9" height="0.9"/><rect x="291.8" y="508.8" width="0.9" height="0.9"/><rect x="292.1" y="483.9" width="0.9" height="0.9"/><rect x="301.5" y="469.8" width="0.9" height="0.9"/><rect x="300.8" y="486.8" width="0.9" height="0.9"/><rect x="300.1" y="499.1" width="0.9" height="0.9"/><rect x="296.0" y="475.8" width="0.9" height="0.9"/><rect x="295.0" y="470.4" width="0.9" height="0.9"/><rect x="292.5" y="488.0" width="0.9" height="0.9"/><rect x="292.4" y="487.7" width="0.9" height="0.9"/><rect x="295.5" y="482.6" width="0.9" height="0.9"/><rect x="293.3" y="471.0" width="0.9" height="0.9"/><rect x="297.5" y="473.9" width="0.9" height="0.9"/><rect x="294.4" y="482.1" width="0.9" height="0.9"/><rect x="297.2" y="504.6" width="0.9" height="0.9"/><rect x="300.2" y="492.2" width="0.9" height="0.9"/><rect x="297.2" y="490.8" width="0.9" height="0.9"/><rect x="295.2" y="481.8" width="0.9" height="0.9"/><rect x="291.7" y="489.7" width="0.9" height="0.9"/><rect x="294.5" y="487.9" width="0.9" height="0.9"/><rect x="300.8" y="493.0" width="0.9" height="0.9"/><rect x="298.3" y="493.1" width="0.9" height="0.9"/><rect x="294.4" y="477.1" width="0.9" height="0.9"/><rect x="292.3" y="477.9" width="0.9" height="0.9"/><rect x="296.0" y="491.2" width="0.9" height="0.9"/><rect x="297.0" y="480.3" width="0.9" height="0.9"/><rect x="293.1" y="484.4" width="0.9" height="0.9"/><rect x="296.4" y="463.2" width="0.9" height="0.9"/><rect x="295.9" y="468.9" width="0.9" height="0.9"/><rect x="294.6" y="482.4" width="0.9" height="0.9"/><rect x="293.4" y="478.6" width="0.9" height="0.9"/><rect x="295.7" y="473.4" width="0.9" height="0.9"/><rect x="297.2" y="490.8" width="0.9" height="0.9"/><rect x="296.9" y="472.9" width="0.9" height="0.9"/><rect x="295.2" y="480.5" width="0.9" height="0.9"/><rect x="295.9" y="491.7" width="0.9" height="0.9"/><rect x="294.4" y="484.1" width="0.9" height="0.9"/><rect x="297.5" y="480.4" width="0.9" height="0.9"/><rect x="297.3" y="483.6" width="0.9" height="0.9"/><rect x="292.4" y="483.5" width="0.9" height="0.9"/><rect x="296.0" y="479.5" width="0.9" height="0.9"/><rect x="300.0" y="479.8" width="0.9" height="0.9"/><rect x="292.3" y="482.2" width="0.9" height="0.9"/><rect x="295.1" y="489.2" width="0.9" height="0.9"/><rect x="301.5" y="485.3" width="0.9" height="0.9"/><rect x="297.5" y="476.3" width="0.9" height="0.9"/><rect x="293.5" y="476.5" width="0.9" height="0.9"/><rect x="295.2" y="479.1" width="0.9" height="0.9"/><rect x="295.6" y="477.1" width="0.9" height="0.9"/><rect x="292.9" y="475.7" width="0.9" height="0.9"/><rect x="297.4" y="471.8" width="0.9" height="0.9"/><rect x="297.4" y="501.0" width="0.9" height="0.9"/><rect x="293.5" y="493.2" width="0.9" height="0.9"/><rect x="297.6" y="490.6" width="0.9" height="0.9"/><rect x="293.8" y="502.3" width="0.9" height="0.9"/><rect x="291.6" y="497.4" width="0.9" height="0.9"/><rect x="296.2" y="473.1" width="0.9" height="0.9"/><rect x="295.9" y="467.8" width="0.9" height="0.9"/><rect x="297.0" y="489.5" width="0.9" height="0.9"/><rect x="298.5" y="498.5" width="0.9" height="0.9"/><rect x="294.1" y="489.0" width="0.9" height="0.9"/><rect x="297.8" y="496.1" width="0.9" height="0.9"/><rect x="296.1" y="502.0" width="0.9" height="0.9"/><rect x="295.5" y="465.6" width="0.9" height="0.9"/><rect x="294.6" y="480.9" width="0.9" height="0.9"/><rect x="296.3" y="479.5" width="0.9" height="0.9"/><rect x="290.5" y="470.8" width="0.9" height="0.9"/><rect x="295.3" y="495.5" width="0.9" height="0.9"/><rect x="294.1" y="470.1" width="0.9" height="0.9"/><rect x="294.5" y="493.4" width="0.9" height="0.9"/><rect x="298.5" y="473.5" width="0.9" height="0.9"/><rect x="297.2" y="497.7" width="0.9" height="0.9"/><rect x="297.5" y="472.2" width="0.9" height="0.9"/><rect x="297.0" y="478.5" width="0.9" height="0.9"/><rect x="294.5" y="504.0" width="0.9" height="0.9"/><rect x="295.5" y="489.1" width="0.9" height="0.9"/><rect x="298.4" y="501.0" width="0.9" height="0.9"/><rect x="296.3" y="477.3" width="0.9" height="0.9"/><rect x="295.5" y="476.6" width="0.9" height="0.9"/><rect x="295.4" y="482.5" width="0.9" height="0.9"/><rect x="292.2" y="475.5" width="0.9" height="0.9"/><rect x="292.4" y="483.1" width="0.9" height="0.9"/><rect x="297.5" y="491.4" width="0.9" height="0.9"/><rect x="296.1" y="473.7" width="0.9" height="0.9"/><rect x="295.5" y="469.4" width="0.9" height="0.9"/><rect x="296.9" y="467.5" width="0.9" height="0.9"/><rect x="294.2" y="501.9" width="0.9" height="0.9"/><rect x="296.6" y="473.5" width="0.9" height="0.9"/><rect x="295.1" y="472.9" width="0.9" height="0.9"/><rect x="293.8" y="479.3" width="0.9" height="0.9"/><rect x="293.7" y="485.7" width="0.9" height="0.9"/><rect x="298.1" y="474.7" width="0.9" height="0.9"/><rect x="293.5" y="475.2" width="0.9" height="0.9"/><rect x="294.2" y="485.0" width="0.9" height="0.9"/><rect x="294.1" y="474.5" width="0.9" height="0.9"/><rect x="294.1" y="494.1" width="0.9" height="0.9"/><rect x="297.9" y="494.7" width="0.9" height="0.9"/><rect x="296.1" y="473.8" width="0.9" height="0.9"/><rect x="298.8" y="507.0" width="0.9" height="0.9"/><rect x="294.1" y="477.3" width="0.9" height="0.9"/><rect x="298.1" y="491.0" width="0.9" height="0.9"/><rect x="296.5" y="505.6" width="0.9" height="0.9"/><rect x="295.2" y="475.3" width="0.9" height="0.9"/><rect x="294.8" y="486.1" width="0.9" height="0.9"/><rect x="296.1" y="496.9" width="0.9" height="0.9"/><rect x="297.4" y="476.2" width="0.9" height="0.9"/><rect x="297.3" y="481.7" width="0.9" height="0.9"/><rect x="299.1" y="495.7" width="0.9" height="0.9"/><rect x="294.3" y="489.5" width="0.9" height="0.9"/><rect x="292.6" y="488.5" width="0.9" height="0.9"/><rect x="295.8" y="488.5" width="0.9" height="0.9"/><rect x="292.8" y="474.8" width="0.9" height="0.9"/><rect x="294.3" y="481.3" width="0.9" height="0.9"/><rect x="297.2" y="475.1" width="0.9" height="0.9"/><rect x="291.0" y="477.9" width="0.9" height="0.9"/><rect x="297.4" y="492.8" width="0.9" height="0.9"/><rect x="292.7" y="490.5" width="0.9" height="0.9"/><rect x="295.9" y="491.3" width="0.9" height="0.9"/><rect x="296.0" y="496.9" width="0.9" height="0.9"/><rect x="294.0" y="506.5" width="0.9" height="0.9"/><rect x="298.2" y="471.3" width="0.9" height="0.9"/><rect x="292.0" y="494.5" width="0.9" height="0.9"/><rect x="292.0" y="475.4" width="0.9" height="0.9"/><rect x="296.7" y="482.1" width="0.9" height="0.9"/><rect x="296.0" y="460.9" width="0.9" height="0.9"/><rect x="293.9" y="489.0" width="0.9" height="0.9"/><rect x="300.4" y="488.0" width="0.9" height="0.9"/><rect x="295.7" y="484.9" width="0.9" height="0.9"/><rect x="297.9" y="490.3" width="0.9" height="0.9"/><rect x="293.6" y="462.8" width="0.9" height="0.9"/><rect x="295.1" y="479.4" width="0.9" height="0.9"/><rect x="299.8" y="474.5" width="0.9" height="0.9"/><rect x="297.3" y="462.5" width="0.9" height="0.9"/><rect x="297.4" y="469.9" width="0.9" height="0.9"/><rect x="295.7" y="481.4" width="0.9" height="0.9"/><rect x="295.8" y="483.5" width="0.9" height="0.9"/><rect x="292.9" y="489.8" width="0.9" height="0.9"/><rect x="293.5" y="483.0" width="0.9" height="0.9"/><rect x="293.6" y="483.1" width="0.9" height="0.9"/><rect x="295.3" y="481.4" width="0.9" height="0.9"/><rect x="293.7" y="496.2" width="0.9" height="0.9"/><rect x="295.2" y="484.2" width="0.9" height="0.9"/><rect x="290.5" y="489.7" width="0.9" height="0.9"/><rect x="291.9" y="481.2" width="0.9" height="0.9"/><rect x="290.8" y="503.4" width="0.9" height="0.9"/><rect x="291.5" y="480.6" width="0.9" height="0.9"/><rect x="292.6" y="469.9" width="0.9" height="0.9"/><rect x="291.5" y="498.7" width="0.9" height="0.9"/><rect x="300.5" y="481.9" width="0.9" height="0.9"/><rect x="297.4" y="478.1" width="0.9" height="0.9"/><rect x="293.0" y="502.4" width="0.9" height="0.9"/><rect x="297.0" y="471.1" width="0.9" height="0.9"/><rect x="295.3" y="483.0" width="0.9" height="0.9"/><rect x="294.9" y="482.3" width="0.9" height="0.9"/><rect x="294.0" y="482.4" width="0.9" height="0.9"/><rect x="294.5" y="479.8" width="0.9" height="0.9"/><rect x="293.8" y="499.5" width="0.9" height="0.9"/><rect x="294.5" y="480.9" width="0.9" height="0.9"/><rect x="296.1" y="483.4" width="0.9" height="0.9"/><rect x="292.5" y="492.3" width="0.9" height="0.9"/><rect x="292.7" y="476.2" width="0.9" height="0.9"/><rect x="296.4" y="480.9" width="0.9" height="0.9"/><rect x="293.9" y="483.2" width="0.9" height="0.9"/><rect x="293.5" y="476.7" width="0.9" height="0.9"/><rect x="292.8" y="469.9" width="0.9" height="0.9"/><rect x="293.2" y="483.5" width="0.9" height="0.9"/><rect x="294.3" y="481.4" width="0.9" height="0.9"/><rect x="297.6" y="478.2" width="0.9" height="0.9"/><rect x="291.2" y="483.8" width="0.9" height="0.9"/><rect x="294.9" y="471.1" width="0.9" height="0.9"/><rect x="292.0" y="491.4" width="0.9" height="0.9"/><rect x="295.4" y="482.6" width="0.9" height="0.9"/><rect x="292.4" y="477.6" width="0.9" height="0.9"/><rect x="292.9" y="498.9" width="0.9" height="0.9"/><rect x="295.3" y="461.8" width="0.9" height="0.9"/><rect x="294.7" y="498.5" width="0.9" height="0.9"/><rect x="293.7" y="480.0" width="0.9" height="0.9"/><rect x="295.3" y="487.9" width="0.9" height="0.9"/><rect x="296.6" y="476.4" width="0.9" height="0.9"/><rect x="294.6" y="490.2" width="0.9" height="0.9"/><rect x="293.1" y="479.3" width="0.9" height="0.9"/><rect x="296.2" y="480.4" width="0.9" height="0.9"/><rect x="293.2" y="500.2" width="0.9" height="0.9"/><rect x="295.8" y="479.9" width="0.9" height="0.9"/><rect x="288.8" y="494.5" width="0.9" height="0.9"/><rect x="297.6" y="482.4" width="0.9" height="0.9"/><rect x="295.5" y="474.2" width="0.9" height="0.9"/><rect x="300.1" y="492.4" width="0.9" height="0.9"/><rect x="300.7" y="506.8" width="0.9" height="0.9"/><rect x="291.3" y="489.8" width="0.9" height="0.9"/><rect x="290.7" y="486.9" width="0.9" height="0.9"/><rect x="295.6" y="477.1" width="0.9" height="0.9"/><rect x="297.0" y="484.6" width="0.9" height="0.9"/><rect x="294.7" y="480.5" width="0.9" height="0.9"/><rect x="297.6" y="488.2" width="0.9" height="0.9"/><rect x="297.5" y="486.6" width="0.9" height="0.9"/><rect x="294.5" y="478.1" width="0.9" height="0.9"/><rect x="296.1" y="475.7" width="0.9" height="0.9"/><rect x="294.1" y="491.6" width="0.9" height="0.9"/><rect x="296.0" y="480.9" width="0.9" height="0.9"/><rect x="296.0" y="479.3" width="0.9" height="0.9"/><rect x="298.5" y="481.2" width="0.9" height="0.9"/><rect x="295.6" y="471.0" width="0.9" height="0.9"/><rect x="293.9" y="469.6" width="0.9" height="0.9"/><rect x="296.5" y="489.1" width="0.9" height="0.9"/><rect x="297.0" y="479.6" width="0.9" height="0.9"/><rect x="295.6" y="487.0" width="0.9" height="0.9"/><rect x="294.7" y="465.6" width="0.9" height="0.9"/><rect x="300.1" y="488.5" width="0.9" height="0.9"/><rect x="297.6" y="491.7" width="0.9" height="0.9"/><rect x="293.9" y="482.9" width="0.9" height="0.9"/><rect x="294.4" y="494.5" width="0.9" height="0.9"/><rect x="296.0" y="475.7" width="0.9" height="0.9"/><rect x="296.3" y="512.2" width="0.9" height="0.9"/><rect x="295.5" y="488.5" width="0.9" height="0.9"/><rect x="300.4" y="473.6" width="0.9" height="0.9"/><rect x="296.2" y="496.2" width="0.9" height="0.9"/><rect x="297.0" y="477.0" width="0.9" height="0.9"/><rect x="295.5" y="484.4" width="0.9" height="0.9"/><rect x="297.8" y="494.0" width="0.9" height="0.9"/><rect x="291.0" y="484.0" width="0.9" height="0.9"/><rect x="293.9" y="486.4" width="0.9" height="0.9"/><rect x="294.6" y="487.2" width="0.9" height="0.9"/><rect x="292.1" y="485.6" width="0.9" height="0.9"/><rect x="296.8" y="496.3" width="0.9" height="0.9"/><rect x="299.2" y="483.4" width="0.9" height="0.9"/><rect x="294.2" y="497.4" width="0.9" height="0.9"/><rect x="296.5" y="486.8" width="0.9" height="0.9"/><rect x="296.9" y="468.2" width="0.9" height="0.9"/><rect x="293.5" y="474.1" width="0.9" height="0.9"/><rect x="293.0" y="499.7" width="0.9" height="0.9"/><rect x="291.3" y="481.7" width="0.9" height="0.9"/><rect x="295.4" y="474.2" width="0.9" height="0.9"/><rect x="296.5" y="474.7" width="0.9" height="0.9"/><rect x="292.3" y="470.1" width="0.9" height="0.9"/><rect x="298.7" y="479.3" width="0.9" height="0.9"/><rect x="296.0" y="489.5" width="0.9" height="0.9"/><rect x="296.6" y="475.7" width="0.9" height="0.9"/><rect x="297.4" y="494.6" width="0.9" height="0.9"/><rect x="292.3" y="492.1" width="0.9" height="0.9"/><rect x="296.8" y="495.0" width="0.9" height="0.9"/><rect x="297.0" y="481.8" width="0.9" height="0.9"/><rect x="293.8" y="490.4" width="0.9" height="0.9"/><rect x="296.5" y="487.9" width="0.9" height="0.9"/><rect x="294.5" y="495.8" width="0.9" height="0.9"/><rect x="297.7" y="494.9" width="0.9" height="0.9"/><rect x="294.2" y="489.9" width="0.9" height="0.9"/><rect x="297.8" y="469.7" width="0.9" height="0.9"/><rect x="293.9" y="486.3" width="0.9" height="0.9"/><rect x="292.3" y="482.7" width="0.9" height="0.9"/><rect x="295.8" y="468.2" width="0.9" height="0.9"/><rect x="297.0" y="483.6" width="0.9" height="0.9"/><rect x="298.5" y="483.3" width="0.9" height="0.9"/><rect x="294.5" y="483.2" width="0.9" height="0.9"/><rect x="296.6" y="464.5" width="0.9" height="0.9"/><rect x="294.9" y="491.4" width="0.9" height="0.9"/><rect x="297.4" y="487.6" width="0.9" height="0.9"/><rect x="293.1" y="482.7" width="0.9" height="0.9"/><rect x="296.6" y="483.9" width="0.9" height="0.9"/><rect x="296.0" y="503.3" width="0.9" height="0.9"/><rect x="300.1" y="479.0" width="0.9" height="0.9"/><rect x="293.4" y="484.0" width="0.9" height="0.9"/><rect x="298.7" y="472.8" width="0.9" height="0.9"/><rect x="293.4" y="470.6" width="0.9" height="0.9"/><rect x="298.2" y="478.7" width="0.9" height="0.9"/><rect x="295.5" y="500.7" width="0.9" height="0.9"/><rect x="297.1" y="480.4" width="0.9" height="0.9"/><rect x="292.7" y="495.4" width="0.9" height="0.9"/><rect x="295.8" y="480.3" width="0.9" height="0.9"/><rect x="296.2" y="476.3" width="0.9" height="0.9"/><rect x="296.1" y="486.0" width="0.9" height="0.9"/><rect x="293.1" y="486.4" width="0.9" height="0.9"/><rect x="297.0" y="498.9" width="0.9" height="0.9"/><rect x="297.7" y="505.8" width="0.9" height="0.9"/><rect x="297.7" y="483.5" width="0.9" height="0.9"/><rect x="296.5" y="484.2" width="0.9" height="0.9"/><rect x="293.5" y="481.5" width="0.9" height="0.9"/><rect x="296.0" y="473.0" width="0.9" height="0.9"/><rect x="295.5" y="489.8" width="0.9" height="0.9"/><rect x="299.5" y="482.7" width="0.9" height="0.9"/><rect x="294.9" y="476.9" width="0.9" height="0.9"/><rect x="292.0" y="489.8" width="0.9" height="0.9"/><rect x="294.5" y="476.8" width="0.9" height="0.9"/><rect x="293.1" y="499.1" width="0.9" height="0.9"/><rect x="298.7" y="488.7" width="0.9" height="0.9"/><rect x="294.8" y="471.4" width="0.9" height="0.9"/><rect x="290.7" y="475.8" width="0.9" height="0.9"/><rect x="293.9" y="499.3" width="0.9" height="0.9"/><rect x="295.0" y="466.6" width="0.9" height="0.9"/><rect x="298.8" y="490.2" width="0.9" height="0.9"/><rect x="294.7" y="487.5" width="0.9" height="0.9"/><rect x="297.1" y="479.1" width="0.9" height="0.9"/><rect x="293.7" y="485.5" width="0.9" height="0.9"/><rect x="297.1" y="489.2" width="0.9" height="0.9"/><rect x="293.1" y="473.9" width="0.9" height="0.9"/><rect x="295.6" y="477.6" width="0.9" height="0.9"/><rect x="295.0" y="503.2" width="0.9" height="0.9"/><rect x="291.9" y="481.0" width="0.9" height="0.9"/><rect x="293.3" y="486.2" width="0.9" height="0.9"/><rect x="299.9" y="487.8" width="0.9" height="0.9"/><rect x="298.6" y="474.2" width="0.9" height="0.9"/><rect x="296.3" y="498.1" width="0.9" height="0.9"/><rect x="294.8" y="475.9" width="0.9" height="0.9"/><rect x="292.2" y="499.0" width="0.9" height="0.9"/><rect x="295.3" y="498.0" width="0.9" height="0.9"/><rect x="296.1" y="484.3" width="0.9" height="0.9"/><rect x="297.5" y="486.0" width="0.9" height="0.9"/><rect x="298.3" y="477.7" width="0.9" height="0.9"/><rect x="294.3" y="484.2" width="0.9" height="0.9"/><rect x="294.5" y="481.6" width="0.9" height="0.9"/><rect x="297.5" y="487.5" width="0.9" height="0.9"/><rect x="295.4" y="501.9" width="0.9" height="0.9"/><rect x="292.6" y="477.7" width="0.9" height="0.9"/><rect x="295.2" y="493.9" width="0.9" height="0.9"/><rect x="297.0" y="489.3" width="0.9" height="0.9"/><rect x="299.0" y="482.9" width="0.9" height="0.9"/><rect x="293.9" y="496.3" width="0.9" height="0.9"/><rect x="299.2" y="473.4" width="0.9" height="0.9"/><rect x="294.3" y="482.6" width="0.9" height="0.9"/><rect x="296.4" y="484.9" width="0.9" height="0.9"/><rect x="297.3" y="467.1" width="0.9" height="0.9"/><rect x="294.5" y="467.6" width="0.9" height="0.9"/><rect x="297.5" y="494.3" width="0.9" height="0.9"/><rect x="296.2" y="483.8" width="0.9" height="0.9"/><rect x="295.4" y="482.7" width="0.9" height="0.9"/><rect x="293.8" y="488.7" width="0.9" height="0.9"/><rect x="297.1" y="476.5" width="0.9" height="0.9"/><rect x="296.6" y="498.8" width="0.9" height="0.9"/><rect x="299.2" y="507.7" width="0.9" height="0.9"/><rect x="294.5" y="479.1" width="0.9" height="0.9"/><rect x="296.7" y="499.5" width="0.9" height="0.9"/><rect x="292.3" y="489.7" width="0.9" height="0.9"/><rect x="296.4" y="496.8" width="0.9" height="0.9"/><rect x="296.8" y="476.8" width="0.9" height="0.9"/><rect x="296.2" y="478.5" width="0.9" height="0.9"/><rect x="295.3" y="481.0" width="0.9" height="0.9"/><rect x="295.6" y="487.7" width="0.9" height="0.9"/><rect x="296.5" y="495.8" width="0.9" height="0.9"/><rect x="297.2" y="465.8" width="0.9" height="0.9"/><rect x="297.1" y="479.5" width="0.9" height="0.9"/><rect x="297.8" y="479.4" width="0.9" height="0.9"/><rect x="293.8" y="469.1" width="0.9" height="0.9"/><rect x="295.3" y="492.0" width="0.9" height="0.9"/><rect x="293.7" y="487.4" width="0.9" height="0.9"/><rect x="295.0" y="462.7" width="0.9" height="0.9"/><rect x="295.2" y="480.8" width="0.9" height="0.9"/><rect x="296.8" y="466.4" width="0.9" height="0.9"/><rect x="297.1" y="482.9" width="0.9" height="0.9"/><rect x="297.7" y="479.3" width="0.9" height="0.9"/><rect x="294.1" y="481.2" width="0.9" height="0.9"/><rect x="295.6" y="494.6" width="0.9" height="0.9"/><rect x="294.0" y="480.5" width="0.9" height="0.9"/><rect x="293.3" y="480.0" width="0.9" height="0.9"/><rect x="296.2" y="498.5" width="0.9" height="0.9"/><rect x="295.3" y="486.2" width="0.9" height="0.9"/><rect x="295.7" y="494.6" width="0.9" height="0.9"/><rect x="295.0" y="480.9" width="0.9" height="0.9"/><rect x="296.3" y="480.9" width="0.9" height="0.9"/><rect x="296.1" y="482.8" width="0.9" height="0.9"/><rect x="294.9" y="492.5" width="0.9" height="0.9"/><rect x="295.1" y="479.6" width="0.9" height="0.9"/><rect x="296.7" y="502.5" width="0.9" height="0.9"/><rect x="296.3" y="481.8" width="0.9" height="0.9"/><rect x="297.3" y="489.2" width="0.9" height="0.9"/><rect x="293.4" y="495.7" width="0.9" height="0.9"/><rect x="298.7" y="478.3" width="0.9" height="0.9"/><rect x="294.8" y="490.1" width="0.9" height="0.9"/><rect x="296.4" y="485.1" width="0.9" height="0.9"/><rect x="298.6" y="467.6" width="0.9" height="0.9"/><rect x="294.5" y="489.0" width="0.9" height="0.9"/><rect x="296.7" y="477.8" width="0.9" height="0.9"/><rect x="291.6" y="495.9" width="0.9" height="0.9"/><rect x="297.7" y="485.1" width="0.9" height="0.9"/><rect x="296.4" y="494.5" width="0.9" height="0.9"/><rect x="300.9" y="473.1" width="0.9" height="0.9"/><rect x="295.7" y="463.2" width="0.9" height="0.9"/><rect x="292.9" y="495.6" width="0.9" height="0.9"/><rect x="295.0" y="461.0" width="0.9" height="0.9"/><rect x="292.7" y="498.9" width="0.9" height="0.9"/><rect x="296.7" y="496.5" width="0.9" height="0.9"/><rect x="299.2" y="478.0" width="0.9" height="0.9"/><rect x="295.7" y="477.0" width="0.9" height="0.9"/><rect x="293.5" y="493.3" width="0.9" height="0.9"/><rect x="296.2" y="476.3" width="0.9" height="0.9"/><rect x="291.9" y="479.3" width="0.9" height="0.9"/><rect x="294.9" y="476.1" width="0.9" height="0.9"/><rect x="297.4" y="489.4" width="0.9" height="0.9"/><rect x="296.6" y="496.2" width="0.9" height="0.9"/><rect x="294.9" y="483.1" width="0.9" height="0.9"/><rect x="300.3" y="474.5" width="0.9" height="0.9"/><rect x="296.2" y="491.5" width="0.9" height="0.9"/><rect x="296.2" y="482.9" width="0.9" height="0.9"/><rect x="296.8" y="492.1" width="0.9" height="0.9"/><rect x="296.0" y="480.6" width="0.9" height="0.9"/><rect x="291.8" y="480.5" width="0.9" height="0.9"/><rect x="293.9" y="475.5" width="0.9" height="0.9"/><rect x="293.5" y="470.2" width="0.9" height="0.9"/><rect x="293.8" y="484.4" width="0.9" height="0.9"/><rect x="292.8" y="469.6" width="0.9" height="0.9"/><rect x="298.3" y="492.2" width="0.9" height="0.9"/><rect x="294.4" y="486.6" width="0.9" height="0.9"/><rect x="295.2" y="487.1" width="0.9" height="0.9"/><rect x="296.9" y="471.5" width="0.9" height="0.9"/><rect x="291.3" y="491.9" width="0.9" height="0.9"/><rect x="296.7" y="474.3" width="0.9" height="0.9"/><rect x="298.6" y="486.5" width="0.9" height="0.9"/><rect x="295.9" y="497.9" width="0.9" height="0.9"/><rect x="298.9" y="494.6" width="0.9" height="0.9"/><rect x="296.5" y="478.3" width="0.9" height="0.9"/><rect x="296.0" y="479.4" width="0.9" height="0.9"/><rect x="297.4" y="494.2" width="0.9" height="0.9"/><rect x="295.8" y="494.1" width="0.9" height="0.9"/><rect x="292.9" y="496.5" width="0.9" height="0.9"/><rect x="296.4" y="462.0" width="0.9" height="0.9"/><rect x="295.7" y="491.7" width="0.9" height="0.9"/><rect x="296.7" y="474.3" width="0.9" height="0.9"/><rect x="297.6" y="491.8" width="0.9" height="0.9"/><rect x="295.8" y="498.4" width="0.9" height="0.9"/><rect x="294.5" y="487.1" width="0.9" height="0.9"/><rect x="295.6" y="461.5" width="0.9" height="0.9"/><rect x="296.5" y="489.5" width="0.9" height="0.9"/><rect x="294.2" y="483.6" width="0.9" height="0.9"/><rect x="298.0" y="480.9" width="0.9" height="0.9"/><rect x="297.0" y="486.7" width="0.9" height="0.9"/><rect x="296.0" y="491.4" width="0.9" height="0.9"/><rect x="291.9" y="470.0" width="0.9" height="0.9"/><rect x="293.3" y="491.7" width="0.9" height="0.9"/><rect x="298.2" y="480.3" width="0.9" height="0.9"/><rect x="292.2" y="498.2" width="0.9" height="0.9"/><rect x="294.6" y="473.8" width="0.9" height="0.9"/><rect x="296.3" y="476.3" width="0.9" height="0.9"/><rect x="297.0" y="488.1" width="0.9" height="0.9"/><rect x="293.4" y="501.6" width="0.9" height="0.9"/><rect x="295.6" y="487.7" width="0.9" height="0.9"/><rect x="298.8" y="495.5" width="0.9" height="0.9"/><rect x="290.0" y="483.3" width="0.9" height="0.9"/><rect x="295.0" y="488.6" width="0.9" height="0.9"/><rect x="297.2" y="499.6" width="0.9" height="0.9"/><rect x="291.2" y="483.1" width="0.9" height="0.9"/><rect x="298.1" y="479.7" width="0.9" height="0.9"/><rect x="299.4" y="494.7" width="0.9" height="0.9"/><rect x="297.8" y="474.4" width="0.9" height="0.9"/><rect x="291.7" y="480.0" width="0.9" height="0.9"/><rect x="295.3" y="485.3" width="0.9" height="0.9"/><rect x="298.1" y="480.4" width="0.9" height="0.9"/><rect x="293.1" y="502.0" width="0.9" height="0.9"/><rect x="297.7" y="477.3" width="0.9" height="0.9"/><rect x="292.9" y="482.3" width="0.9" height="0.9"/><rect x="296.7" y="481.5" width="0.9" height="0.9"/><rect x="295.1" y="476.8" width="0.9" height="0.9"/><rect x="293.8" y="500.0" width="0.9" height="0.9"/><rect x="300.1" y="494.4" width="0.9" height="0.9"/><rect x="294.6" y="460.1" width="0.9" height="0.9"/><rect x="297.4" y="472.0" width="0.9" height="0.9"/><rect x="294.8" y="486.3" width="0.9" height="0.9"/><rect x="299.0" y="474.1" width="0.9" height="0.9"/><rect x="294.8" y="491.5" width="0.9" height="0.9"/><rect x="297.6" y="481.6" width="0.9" height="0.9"/><rect x="296.4" y="490.3" width="0.9" height="0.9"/><rect x="294.5" y="465.1" width="0.9" height="0.9"/><rect x="295.2" y="499.3" width="0.9" height="0.9"/><rect x="292.8" y="474.5" width="0.9" height="0.9"/><rect x="297.7" y="499.2" width="0.9" height="0.9"/><rect x="296.5" y="486.6" width="0.9" height="0.9"/><rect x="291.6" y="470.1" width="0.9" height="0.9"/><rect x="293.9" y="464.4" width="0.9" height="0.9"/><rect x="297.7" y="471.3" width="0.9" height="0.9"/><rect x="301.0" y="470.7" width="0.9" height="0.9"/><rect x="296.3" y="478.5" width="0.9" height="0.9"/><rect x="295.0" y="494.7" width="0.9" height="0.9"/><rect x="293.1" y="480.2" width="0.9" height="0.9"/><rect x="298.2" y="474.1" width="0.9" height="0.9"/><rect x="297.4" y="485.9" width="0.9" height="0.9"/><rect x="296.7" y="483.1" width="0.9" height="0.9"/><rect x="294.6" y="488.0" width="0.9" height="0.9"/><rect x="294.3" y="473.6" width="0.9" height="0.9"/><rect x="299.6" y="463.4" width="0.9" height="0.9"/><rect x="297.1" y="477.6" width="0.9" height="0.9"/><rect x="293.4" y="488.9" width="0.9" height="0.9"/><rect x="298.6" y="482.8" width="0.9" height="0.9"/><rect x="298.5" y="484.5" width="0.9" height="0.9"/><rect x="296.0" y="485.7" width="0.9" height="0.9"/><rect x="298.4" y="471.4" width="0.9" height="0.9"/><rect x="291.2" y="497.8" width="0.9" height="0.9"/><rect x="295.7" y="486.9" width="0.9" height="0.9"/><rect x="298.1" y="487.9" width="0.9" height="0.9"/><rect x="295.4" y="499.1" width="0.9" height="0.9"/><rect x="298.2" y="481.3" width="0.9" height="0.9"/><rect x="296.2" y="479.1" width="0.9" height="0.9"/><rect x="295.3" y="476.5" width="0.9" height="0.9"/><rect x="297.4" y="473.3" width="0.9" height="0.9"/><rect x="294.1" y="491.6" width="0.9" height="0.9"/><rect x="296.1" y="500.3" width="0.9" height="0.9"/><rect x="294.3" y="484.1" width="0.9" height="0.9"/><rect x="295.2" y="493.7" width="0.9" height="0.9"/><rect x="295.3" y="489.7" width="0.9" height="0.9"/><rect x="292.1" y="478.4" width="0.9" height="0.9"/><rect x="299.1" y="484.0" width="0.9" height="0.9"/><rect x="296.5" y="495.3" width="0.9" height="0.9"/><rect x="296.3" y="475.4" width="0.9" height="0.9"/><rect x="296.1" y="479.8" width="0.9" height="0.9"/><rect x="295.6" y="484.2" width="0.9" height="0.9"/><rect x="297.6" y="497.0" width="0.9" height="0.9"/><rect x="299.1" y="475.5" width="0.9" height="0.9"/><rect x="296.2" y="497.6" width="0.9" height="0.9"/><rect x="294.4" y="477.3" width="0.9" height="0.9"/><rect x="299.8" y="491.9" width="0.9" height="0.9"/><rect x="297.5" y="479.6" width="0.9" height="0.9"/><rect x="298.8" y="495.1" width="0.9" height="0.9"/><rect x="295.9" y="486.7" width="0.9" height="0.9"/><rect x="297.1" y="483.2" width="0.9" height="0.9"/><rect x="295.8" y="498.9" width="0.9" height="0.9"/><rect x="295.0" y="468.7" width="0.9" height="0.9"/><rect x="298.1" y="503.0" width="0.9" height="0.9"/><rect x="294.6" y="488.9" width="0.9" height="0.9"/><rect x="296.0" y="476.3" width="0.9" height="0.9"/><rect x="294.0" y="487.4" width="0.9" height="0.9"/><rect x="291.8" y="486.4" width="0.9" height="0.9"/><rect x="291.1" y="483.2" width="0.9" height="0.9"/><rect x="293.5" y="486.6" width="0.9" height="0.9"/><rect x="294.8" y="482.0" width="0.9" height="0.9"/><rect x="296.0" y="488.7" width="0.9" height="0.9"/><rect x="296.4" y="491.0" width="0.9" height="0.9"/><rect x="298.1" y="504.3" width="0.9" height="0.9"/><rect x="297.3" y="485.9" width="0.9" height="0.9"/><rect x="298.4" y="489.2" width="0.9" height="0.9"/><rect x="297.8" y="474.8" width="0.9" height="0.9"/><rect x="292.5" y="495.4" width="0.9" height="0.9"/><rect x="292.6" y="474.0" width="0.9" height="0.9"/><rect x="295.3" y="475.6" width="0.9" height="0.9"/><rect x="297.4" y="487.4" width="0.9" height="0.9"/><rect x="296.6" y="500.3" width="0.9" height="0.9"/><rect x="296.1" y="480.4" width="0.9" height="0.9"/><rect x="293.1" y="477.5" width="0.9" height="0.9"/><rect x="294.0" y="486.2" width="0.9" height="0.9"/><rect x="299.7" y="482.9" width="0.9" height="0.9"/><rect x="296.1" y="464.1" width="0.9" height="0.9"/><rect x="299.9" y="473.6" width="0.9" height="0.9"/><rect x="296.3" y="468.3" width="0.9" height="0.9"/><rect x="297.6" y="485.3" width="0.9" height="0.9"/></g>
<g fill="#7a80c0" fill-opacity="0.3"><rect x="309.4" y="498.1" width="0.8" height="0.8"/><rect x="333.8" y="485.1" width="0.8" height="0.8"/><rect x="313.9" y="484.0" width="0.8" height="0.8"/><rect x="312.3" y="487.8" width="0.8" height="0.8"/><rect x="314.3" y="474.1" width="0.8" height="0.8"/><rect x="318.7" y="501.7" width="0.8" height="0.8"/><rect x="304.3" y="493.0" width="0.8" height="0.8"/><rect x="324.3" y="489.7" width="0.8" height="0.8"/><rect x="321.4" y="489.0" width="0.8" height="0.8"/><rect x="316.1" y="485.0" width="0.8" height="0.8"/><rect x="322.3" y="473.8" width="0.8" height="0.8"/><rect x="314.0" y="497.6" width="0.8" height="0.8"/><rect x="330.3" y="481.4" width="0.8" height="0.8"/><rect x="310.8" y="480.9" width="0.8" height="0.8"/><rect x="326.6" y="485.7" width="0.8" height="0.8"/><rect x="320.9" y="495.0" width="0.8" height="0.8"/><rect x="323.2" y="487.8" width="0.8" height="0.8"/><rect x="317.7" y="484.1" width="0.8" height="0.8"/><rect x="320.7" y="471.7" width="0.8" height="0.8"/><rect x="313.7" y="464.4" width="0.8" height="0.8"/><rect x="315.7" y="468.5" width="0.8" height="0.8"/><rect x="322.5" y="495.8" width="0.8" height="0.8"/><rect x="313.9" y="489.0" width="0.8" height="0.8"/><rect x="328.3" y="461.8" width="0.8" height="0.8"/><rect x="330.8" y="462.3" width="0.8" height="0.8"/><rect x="303.3" y="468.4" width="0.8" height="0.8"/><rect x="303.1" y="464.8" width="0.8" height="0.8"/><rect x="320.1" y="488.2" width="0.8" height="0.8"/><rect x="326.4" y="487.7" width="0.8" height="0.8"/><rect x="330.9" y="480.1" width="0.8" height="0.8"/><rect x="314.9" y="496.9" width="0.8" height="0.8"/><rect x="312.2" y="495.1" width="0.8" height="0.8"/><rect x="316.0" y="464.3" width="0.8" height="0.8"/><rect x="309.2" y="475.7" width="0.8" height="0.8"/><rect x="319.9" y="485.9" width="0.8" height="0.8"/><rect x="325.6" y="487.7" width="0.8" height="0.8"/><rect x="329.4" y="463.4" width="0.8" height="0.8"/><rect x="323.4" y="498.3" width="0.8" height="0.8"/><rect x="311.4" y="489.4" width="0.8" height="0.8"/><rect x="328.8" y="473.0" width="0.8" height="0.8"/><rect x="316.0" y="490.6" width="0.8" height="0.8"/><rect x="324.3" y="487.6" width="0.8" height="0.8"/><rect x="317.1" y="477.7" width="0.8" height="0.8"/><rect x="312.2" y="481.5" width="0.8" height="0.8"/><rect x="314.8" y="481.4" width="0.8" height="0.8"/><rect x="311.8" y="471.2" width="0.8" height="0.8"/><rect x="322.8" y="475.5" width="0.8" height="0.8"/><rect x="325.9" y="493.2" width="0.8" height="0.8"/><rect x="308.4" y="506.3" width="0.8" height="0.8"/><rect x="306.0" y="464.3" width="0.8" height="0.8"/><rect x="305.7" y="471.3" width="0.8" height="0.8"/><rect x="317.9" y="494.9" width="0.8" height="0.8"/><rect x="321.5" y="497.4" width="0.8" height="0.8"/><rect x="304.8" y="471.4" width="0.8" height="0.8"/><rect x="340.7" y="501.3" width="0.8" height="0.8"/><rect x="319.0" y="473.3" width="0.8" height="0.8"/><rect x="311.8" y="466.1" width="0.8" height="0.8"/><rect x="313.5" y="489.3" width="0.8" height="0.8"/><rect x="322.6" y="484.5" width="0.8" height="0.8"/><rect x="313.5" y="488.9" width="0.8" height="0.8"/><rect x="324.0" y="503.2" width="0.8" height="0.8"/><rect x="320.8" y="492.1" width="0.8" height="0.8"/><rect x="325.9" y="488.9" width="0.8" height="0.8"/><rect x="324.0" y="484.5" width="0.8" height="0.8"/><rect x="326.3" y="470.1" width="0.8" height="0.8"/><rect x="309.4" y="472.0" width="0.8" height="0.8"/><rect x="313.3" y="477.8" width="0.8" height="0.8"/><rect x="330.4" y="485.2" width="0.8" height="0.8"/><rect x="318.3" y="483.5" width="0.8" height="0.8"/><rect x="326.5" y="469.6" width="0.8" height="0.8"/><rect x="318.4" y="472.5" width="0.8" height="0.8"/><rect x="324.1" y="499.2" width="0.8" height="0.8"/><rect x="321.2" y="490.0" width="0.8" height="0.8"/><rect x="332.0" y="476.4" width="0.8" height="0.8"/><rect x="322.1" y="461.6" width="0.8" height="0.8"/><rect x="321.8" y="485.0" width="0.8" height="0.8"/><rect x="317.6" y="505.8" width="0.8" height="0.8"/><rect x="321.8" y="478.4" width="0.8" height="0.8"/><rect x="314.7" y="480.9" width="0.8" height="0.8"/><rect x="310.6" y="484.4" width="0.8" height="0.8"/><rect x="324.6" y="499.3" width="0.8" height="0.8"/><rect x="315.6" y="481.3" width="0.8" height="0.8"/><rect x="319.0" y="486.2" width="0.8" height="0.8"/><rect x="312.6" y="483.4" width="0.8" height="0.8"/><rect x="313.4" y="485.2" width="0.8" height="0.8"/><rect x="334.4" y="481.4" width="0.8" height="0.8"/><rect x="333.2" y="486.1" width="0.8" height="0.8"/><rect x="331.8" y="493.6" width="0.8" height="0.8"/><rect x="302.7" y="473.7" width="0.8" height="0.8"/><rect x="302.6" y="487.2" width="0.8" height="0.8"/><rect x="307.5" y="493.0" width="0.8" height="0.8"/><rect x="317.3" y="487.6" width="0.8" height="0.8"/><rect x="312.6" y="476.4" width="0.8" height="0.8"/><rect x="319.7" y="489.0" width="0.8" height="0.8"/><rect x="308.7" y="485.1" width="0.8" height="0.8"/><rect x="312.9" y="495.4" width="0.8" height="0.8"/><rect x="311.6" y="484.0" width="0.8" height="0.8"/><rect x="330.1" y="489.5" width="0.8" height="0.8"/><rect x="326.4" y="494.0" width="0.8" height="0.8"/><rect x="325.6" y="488.7" width="0.8" height="0.8"/><rect x="309.9" y="501.3" width="0.8" height="0.8"/><rect x="329.8" y="500.5" width="0.8" height="0.8"/><rect x="315.0" y="488.5" width="0.8" height="0.8"/><rect x="312.4" y="478.5" width="0.8" height="0.8"/><rect x="324.1" y="478.8" width="0.8" height="0.8"/><rect x="323.6" y="464.3" width="0.8" height="0.8"/><rect x="341.6" y="473.0" width="0.8" height="0.8"/><rect x="308.9" y="468.6" width="0.8" height="0.8"/><rect x="327.0" y="460.8" width="0.8" height="0.8"/><rect x="310.0" y="499.8" width="0.8" height="0.8"/><rect x="305.5" y="475.1" width="0.8" height="0.8"/><rect x="308.7" y="492.5" width="0.8" height="0.8"/><rect x="311.3" y="484.8" width="0.8" height="0.8"/><rect x="312.4" y="476.4" width="0.8" height="0.8"/><rect x="316.9" y="476.9" width="0.8" height="0.8"/><rect x="322.2" y="480.3" width="0.8" height="0.8"/><rect x="318.4" y="484.4" width="0.8" height="0.8"/><rect x="323.3" y="474.3" width="0.8" height="0.8"/><rect x="326.0" y="486.2" width="0.8" height="0.8"/><rect x="312.3" y="474.2" width="0.8" height="0.8"/><rect x="327.3" y="483.1" width="0.8" height="0.8"/><rect x="306.9" y="467.2" width="0.8" height="0.8"/><rect x="338.9" y="470.2" width="0.8" height="0.8"/><rect x="310.7" y="479.7" width="0.8" height="0.8"/><rect x="307.3" y="501.4" width="0.8" height="0.8"/><rect x="309.2" y="471.2" width="0.8" height="0.8"/><rect x="320.6" y="471.1" width="0.8" height="0.8"/><rect x="307.5" y="490.1" width="0.8" height="0.8"/><rect x="328.0" y="498.2" width="0.8" height="0.8"/><rect x="318.7" y="472.5" width="0.8" height="0.8"/><rect x="313.5" y="472.6" width="0.8" height="0.8"/><rect x="319.2" y="483.7" width="0.8" height="0.8"/><rect x="314.0" y="490.6" width="0.8" height="0.8"/><rect x="324.3" y="469.0" width="0.8" height="0.8"/><rect x="332.8" y="474.3" width="0.8" height="0.8"/><rect x="315.9" y="493.0" width="0.8" height="0.8"/><rect x="323.1" y="475.8" width="0.8" height="0.8"/><rect x="321.2" y="488.0" width="0.8" height="0.8"/><rect x="332.4" y="466.2" width="0.8" height="0.8"/><rect x="315.4" y="507.0" width="0.8" height="0.8"/><rect x="312.7" y="489.7" width="0.8" height="0.8"/><rect x="307.8" y="503.2" width="0.8" height="0.8"/><rect x="309.5" y="499.2" width="0.8" height="0.8"/><rect x="318.6" y="499.8" width="0.8" height="0.8"/><rect x="328.2" y="476.2" width="0.8" height="0.8"/><rect x="310.9" y="462.5" width="0.8" height="0.8"/><rect x="319.4" y="497.1" width="0.8" height="0.8"/><rect x="316.8" y="485.5" width="0.8" height="0.8"/><rect x="329.1" y="488.2" width="0.8" height="0.8"/><rect x="326.1" y="489.1" width="0.8" height="0.8"/><rect x="312.0" y="473.1" width="0.8" height="0.8"/><rect x="318.5" y="474.2" width="0.8" height="0.8"/><rect x="319.8" y="464.8" width="0.8" height="0.8"/><rect x="321.0" y="493.2" width="0.8" height="0.8"/><rect x="332.4" y="482.4" width="0.8" height="0.8"/><rect x="325.5" y="508.0" width="0.8" height="0.8"/><rect x="331.1" y="486.1" width="0.8" height="0.8"/><rect x="309.4" y="487.7" width="0.8" height="0.8"/><rect x="322.2" y="470.9" width="0.8" height="0.8"/><rect x="311.2" y="461.2" width="0.8" height="0.8"/><rect x="328.7" y="467.6" width="0.8" height="0.8"/><rect x="340.1" y="478.8" width="0.8" height="0.8"/><rect x="313.0" y="483.4" width="0.8" height="0.8"/><rect x="322.1" y="485.9" width="0.8" height="0.8"/><rect x="311.9" y="470.0" width="0.8" height="0.8"/><rect x="312.1" y="482.0" width="0.8" height="0.8"/><rect x="311.5" y="486.8" width="0.8" height="0.8"/><rect x="328.8" y="486.1" width="0.8" height="0.8"/><rect x="320.6" y="491.1" width="0.8" height="0.8"/><rect x="308.7" y="486.1" width="0.8" height="0.8"/><rect x="321.6" y="499.4" width="0.8" height="0.8"/><rect x="331.2" y="477.4" width="0.8" height="0.8"/><rect x="336.7" y="470.8" width="0.8" height="0.8"/><rect x="333.6" y="484.7" width="0.8" height="0.8"/><rect x="325.9" y="480.8" width="0.8" height="0.8"/><rect x="316.4" y="467.5" width="0.8" height="0.8"/><rect x="329.8" y="479.6" width="0.8" height="0.8"/><rect x="325.9" y="473.0" width="0.8" height="0.8"/><rect x="329.4" y="486.2" width="0.8" height="0.8"/><rect x="315.2" y="484.2" width="0.8" height="0.8"/><rect x="315.8" y="488.3" width="0.8" height="0.8"/><rect x="335.2" y="468.2" width="0.8" height="0.8"/><rect x="306.1" y="491.0" width="0.8" height="0.8"/><rect x="315.4" y="473.1" width="0.8" height="0.8"/><rect x="319.7" y="473.5" width="0.8" height="0.8"/><rect x="329.7" y="477.4" width="0.8" height="0.8"/><rect x="320.9" y="475.8" width="0.8" height="0.8"/><rect x="313.5" y="483.2" width="0.8" height="0.8"/><rect x="319.0" y="486.6" width="0.8" height="0.8"/><rect x="318.1" y="486.6" width="0.8" height="0.8"/><rect x="314.3" y="460.6" width="0.8" height="0.8"/><rect x="310.2" y="472.1" width="0.8" height="0.8"/><rect x="315.6" y="482.6" width="0.8" height="0.8"/><rect x="318.1" y="475.7" width="0.8" height="0.8"/><rect x="324.0" y="476.1" width="0.8" height="0.8"/><rect x="304.3" y="484.7" width="0.8" height="0.8"/><rect x="307.8" y="485.3" width="0.8" height="0.8"/><rect x="336.2" y="481.3" width="0.8" height="0.8"/><rect x="325.8" y="495.3" width="0.8" height="0.8"/><rect x="317.4" y="472.5" width="0.8" height="0.8"/><rect x="327.5" y="490.5" width="0.8" height="0.8"/><rect x="310.0" y="489.3" width="0.8" height="0.8"/><rect x="315.6" y="477.6" width="0.8" height="0.8"/><rect x="322.8" y="465.0" width="0.8" height="0.8"/><rect x="322.0" y="490.1" width="0.8" height="0.8"/><rect x="325.7" y="470.4" width="0.8" height="0.8"/><rect x="320.0" y="498.6" width="0.8" height="0.8"/><rect x="341.2" y="468.9" width="0.8" height="0.8"/><rect x="324.3" y="477.0" width="0.8" height="0.8"/><rect x="333.5" y="479.7" width="0.8" height="0.8"/><rect x="319.8" y="475.7" width="0.8" height="0.8"/><rect x="337.7" y="472.1" width="0.8" height="0.8"/><rect x="311.6" y="466.6" width="0.8" height="0.8"/><rect x="309.6" y="477.5" width="0.8" height="0.8"/><rect x="324.1" y="465.3" width="0.8" height="0.8"/><rect x="314.0" y="467.6" width="0.8" height="0.8"/><rect x="322.2" y="470.6" width="0.8" height="0.8"/><rect x="320.1" y="464.5" width="0.8" height="0.8"/><rect x="327.0" y="475.8" width="0.8" height="0.8"/><rect x="324.7" y="479.3" width="0.8" height="0.8"/><rect x="306.2" y="480.1" width="0.8" height="0.8"/><rect x="332.0" y="476.5" width="0.8" height="0.8"/><rect x="315.4" y="487.6" width="0.8" height="0.8"/><rect x="308.3" y="482.4" width="0.8" height="0.8"/><rect x="313.1" y="490.9" width="0.8" height="0.8"/><rect x="307.1" y="470.1" width="0.8" height="0.8"/><rect x="321.8" y="484.9" width="0.8" height="0.8"/><rect x="317.1" y="469.5" width="0.8" height="0.8"/><rect x="320.5" y="475.4" width="0.8" height="0.8"/><rect x="328.8" y="468.6" width="0.8" height="0.8"/><rect x="324.6" y="494.3" width="0.8" height="0.8"/><rect x="323.5" y="481.2" width="0.8" height="0.8"/><rect x="318.0" y="499.6" width="0.8" height="0.8"/><rect x="317.5" y="499.7" width="0.8" height="0.8"/><rect x="322.8" y="481.6" width="0.8" height="0.8"/><rect x="311.7" y="475.4" width="0.8" height="0.8"/><rect x="317.9" y="465.4" width="0.8" height="0.8"/><rect x="315.3" y="480.4" width="0.8" height="0.8"/><rect x="314.0" y="484.4" width="0.8" height="0.8"/><rect x="310.1" y="485.3" width="0.8" height="0.8"/><rect x="320.1" y="490.2" width="0.8" height="0.8"/><rect x="325.1" y="478.8" width="0.8" height="0.8"/><rect x="320.3" y="477.0" width="0.8" height="0.8"/><rect x="311.6" y="472.7" width="0.8" height="0.8"/><rect x="313.0" y="485.4" width="0.8" height="0.8"/><rect x="314.9" y="473.1" width="0.8" height="0.8"/><rect x="310.7" y="487.3" width="0.8" height="0.8"/><rect x="311.2" y="480.8" width="0.8" height="0.8"/><rect x="326.1" y="499.5" width="0.8" height="0.8"/><rect x="306.0" y="467.7" width="0.8" height="0.8"/><rect x="317.0" y="472.6" width="0.8" height="0.8"/><rect x="330.1" y="477.3" width="0.8" height="0.8"/><rect x="331.8" y="481.7" width="0.8" height="0.8"/><rect x="318.2" y="478.3" width="0.8" height="0.8"/><rect x="314.0" y="471.8" width="0.8" height="0.8"/><rect x="322.8" y="493.3" width="0.8" height="0.8"/><rect x="316.4" y="461.4" width="0.8" height="0.8"/><rect x="328.0" y="476.5" width="0.8" height="0.8"/><rect x="329.7" y="493.4" width="0.8" height="0.8"/><rect x="306.6" y="490.6" width="0.8" height="0.8"/><rect x="307.4" y="476.9" width="0.8" height="0.8"/><rect x="307.3" y="469.0" width="0.8" height="0.8"/><rect x="330.1" y="476.6" width="0.8" height="0.8"/><rect x="308.5" y="492.0" width="0.8" height="0.8"/><rect x="327.0" y="480.3" width="0.8" height="0.8"/><rect x="321.8" y="482.0" width="0.8" height="0.8"/><rect x="312.8" y="483.2" width="0.8" height="0.8"/><rect x="316.4" y="494.2" width="0.8" height="0.8"/><rect x="318.4" y="466.5" width="0.8" height="0.8"/><rect x="314.0" y="491.0" width="0.8" height="0.8"/><rect x="326.9" y="476.8" width="0.8" height="0.8"/><rect x="334.6" y="474.5" width="0.8" height="0.8"/><rect x="319.7" y="463.5" width="0.8" height="0.8"/><rect x="313.5" y="468.6" width="0.8" height="0.8"/><rect x="317.6" y="493.0" width="0.8" height="0.8"/><rect x="311.5" y="495.2" width="0.8" height="0.8"/><rect x="318.2" y="503.3" width="0.8" height="0.8"/><rect x="314.6" y="485.4" width="0.8" height="0.8"/><rect x="312.0" y="474.1" width="0.8" height="0.8"/><rect x="321.1" y="483.2" width="0.8" height="0.8"/><rect x="333.3" y="495.9" width="0.8" height="0.8"/><rect x="306.5" y="473.1" width="0.8" height="0.8"/><rect x="328.2" y="483.4" width="0.8" height="0.8"/><rect x="317.7" y="500.9" width="0.8" height="0.8"/><rect x="312.1" y="486.5" width="0.8" height="0.8"/><rect x="320.8" y="481.4" width="0.8" height="0.8"/><rect x="330.5" y="490.9" width="0.8" height="0.8"/><rect x="324.9" y="475.5" width="0.8" height="0.8"/><rect x="315.8" y="487.9" width="0.8" height="0.8"/><rect x="304.0" y="485.5" width="0.8" height="0.8"/><rect x="316.8" y="482.2" width="0.8" height="0.8"/><rect x="312.6" y="496.2" width="0.8" height="0.8"/><rect x="313.4" y="497.7" width="0.8" height="0.8"/><rect x="328.4" y="478.8" width="0.8" height="0.8"/><rect x="320.2" y="481.4" width="0.8" height="0.8"/><rect x="317.6" y="485.7" width="0.8" height="0.8"/><rect x="321.2" y="471.8" width="0.8" height="0.8"/><rect x="316.2" y="489.0" width="0.8" height="0.8"/><rect x="317.9" y="480.2" width="0.8" height="0.8"/><rect x="316.7" y="477.2" width="0.8" height="0.8"/><rect x="330.6" y="475.2" width="0.8" height="0.8"/><rect x="315.2" y="482.1" width="0.8" height="0.8"/><rect x="328.3" y="482.5" width="0.8" height="0.8"/><rect x="316.2" y="465.3" width="0.8" height="0.8"/><rect x="310.6" y="479.1" width="0.8" height="0.8"/><rect x="319.1" y="466.2" width="0.8" height="0.8"/><rect x="322.2" y="460.0" width="0.8" height="0.8"/><rect x="323.2" y="477.4" width="0.8" height="0.8"/><rect x="311.5" y="463.3" width="0.8" height="0.8"/><rect x="310.9" y="471.9" width="0.8" height="0.8"/><rect x="314.1" y="480.5" width="0.8" height="0.8"/><rect x="310.9" y="463.4" width="0.8" height="0.8"/><rect x="324.3" y="474.1" width="0.8" height="0.8"/><rect x="326.5" y="474.8" width="0.8" height="0.8"/><rect x="326.2" y="463.5" width="0.8" height="0.8"/><rect x="305.1" y="488.8" width="0.8" height="0.8"/><rect x="323.5" y="482.1" width="0.8" height="0.8"/><rect x="337.2" y="481.3" width="0.8" height="0.8"/><rect x="332.7" y="481.5" width="0.8" height="0.8"/><rect x="334.6" y="480.9" width="0.8" height="0.8"/><rect x="325.2" y="497.2" width="0.8" height="0.8"/><rect x="339.7" y="469.7" width="0.8" height="0.8"/><rect x="319.4" y="479.4" width="0.8" height="0.8"/><rect x="324.4" y="506.8" width="0.8" height="0.8"/><rect x="327.1" y="480.2" width="0.8" height="0.8"/><rect x="334.3" y="488.0" width="0.8" height="0.8"/><rect x="320.6" y="477.1" width="0.8" height="0.8"/><rect x="306.4" y="478.6" width="0.8" height="0.8"/><rect x="340.0" y="483.1" width="0.8" height="0.8"/><rect x="309.0" y="486.9" width="0.8" height="0.8"/><rect x="304.7" y="493.3" width="0.8" height="0.8"/><rect x="324.4" y="479.7" width="0.8" height="0.8"/><rect x="325.1" y="469.8" width="0.8" height="0.8"/><rect x="315.1" y="481.0" width="0.8" height="0.8"/><rect x="319.4" y="504.2" width="0.8" height="0.8"/><rect x="324.0" y="470.3" width="0.8" height="0.8"/><rect x="316.8" y="473.9" width="0.8" height="0.8"/><rect x="323.1" y="463.6" width="0.8" height="0.8"/><rect x="327.9" y="474.9" width="0.8" height="0.8"/><rect x="326.7" y="496.3" width="0.8" height="0.8"/><rect x="328.0" y="467.6" width="0.8" height="0.8"/><rect x="313.3" y="462.7" width="0.8" height="0.8"/><rect x="314.3" y="477.8" width="0.8" height="0.8"/><rect x="328.7" y="482.3" width="0.8" height="0.8"/><rect x="322.3" y="473.6" width="0.8" height="0.8"/><rect x="308.9" y="478.8" width="0.8" height="0.8"/><rect x="310.2" y="475.7" width="0.8" height="0.8"/><rect x="313.7" y="494.3" width="0.8" height="0.8"/><rect x="314.7" y="507.5" width="0.8" height="0.8"/><rect x="327.0" y="477.6" width="0.8" height="0.8"/><rect x="321.2" y="499.8" width="0.8" height="0.8"/><rect x="335.2" y="484.6" width="0.8" height="0.8"/><rect x="303.7" y="466.1" width="0.8" height="0.8"/><rect x="322.4" y="483.0" width="0.8" height="0.8"/><rect x="328.6" y="465.8" width="0.8" height="0.8"/><rect x="319.1" y="496.7" width="0.8" height="0.8"/><rect x="323.6" y="471.2" width="0.8" height="0.8"/><rect x="316.0" y="477.5" width="0.8" height="0.8"/><rect x="339.0" y="500.2" width="0.8" height="0.8"/><rect x="314.8" y="480.3" width="0.8" height="0.8"/><rect x="319.6" y="485.9" width="0.8" height="0.8"/><rect x="316.7" y="477.2" width="0.8" height="0.8"/><rect x="311.3" y="489.3" width="0.8" height="0.8"/><rect x="326.4" y="480.0" width="0.8" height="0.8"/><rect x="317.0" y="494.3" width="0.8" height="0.8"/><rect x="314.8" y="479.7" width="0.8" height="0.8"/><rect x="320.1" y="477.7" width="0.8" height="0.8"/><rect x="309.8" y="485.5" width="0.8" height="0.8"/><rect x="322.5" y="471.6" width="0.8" height="0.8"/><rect x="317.2" y="481.9" width="0.8" height="0.8"/><rect x="321.3" y="482.5" width="0.8" height="0.8"/><rect x="309.2" y="471.4" width="0.8" height="0.8"/><rect x="319.6" y="487.7" width="0.8" height="0.8"/><rect x="312.7" y="477.0" width="0.8" height="0.8"/><rect x="314.5" y="487.9" width="0.8" height="0.8"/><rect x="328.2" y="465.4" width="0.8" height="0.8"/><rect x="324.3" y="472.0" width="0.8" height="0.8"/><rect x="308.9" y="489.6" width="0.8" height="0.8"/><rect x="327.5" y="508.0" width="0.8" height="0.8"/><rect x="320.5" y="501.4" width="0.8" height="0.8"/><rect x="315.4" y="476.2" width="0.8" height="0.8"/><rect x="327.6" y="469.6" width="0.8" height="0.8"/><rect x="319.6" y="490.0" width="0.8" height="0.8"/><rect x="325.8" y="459.1" width="0.8" height="0.8"/><rect x="309.6" y="486.9" width="0.8" height="0.8"/><rect x="311.8" y="471.3" width="0.8" height="0.8"/><rect x="321.1" y="478.2" width="0.8" height="0.8"/><rect x="317.4" y="484.3" width="0.8" height="0.8"/><rect x="317.1" y="485.0" width="0.8" height="0.8"/><rect x="327.2" y="475.3" width="0.8" height="0.8"/><rect x="321.8" y="490.5" width="0.8" height="0.8"/></g>
<path d="M343.0,457 L308.5,457 L300.4,509.8 L343.0,509.8" stroke="#555" stroke-width="0.8" fill="none"/>
<rect x="275.6" y="452.9" width="68.19999999999999" height="69.39999999999998" fill="none" stroke="#000" stroke-width="1.3"/>
<line x1="272.80" y1="522.30" x2="275.60" y2="522.30" stroke="#000" stroke-width="1"/>
<text x="270.30" y="524.20" font-size="5.2" text-anchor="end" fill="#333" stroke="#333" stroke-width="0.15" textLength="3.20" lengthAdjust="spacingAndGlyphs">0</text>
<line x1="272.80" y1="509.08" x2="275.60" y2="509.08" stroke="#000" stroke-width="1"/>
<text x="270.30" y="510.98" font-size="5.2" text-anchor="end" fill="#333" stroke="#333" stroke-width="0.15" textLength="9.60" lengthAdjust="spacingAndGlyphs">50K</text>
<line x1="272.80" y1="495.86" x2="275.60" y2="495.86" stroke="#000" stroke-width="1"/>
<text x="270.30" y="497.76" font-size="5.2" text-anchor="end" fill="#333" stroke="#333" stroke-width="0.15" textLength="12.80" lengthAdjust="spacingAndGlyphs">100K</text>
<line x1="272.80" y1="482.64" x2="275.60" y2="482.64" stroke="#000" stroke-width="1"/>
<text x="270.30" y="484.54" font-size="5.2" text-anchor="end" fill="#333" stroke="#333" stroke-width="0.15" textLength="12.80" lengthAdjust="spacingAndGlyphs">150K</text>
<line x1="272.80" y1="469.42" x2="275.60" y2="469.42" stroke="#000" stroke-width="1"/>
<text x="270.30" y="471.32" font-size="5.2" text-anchor="end" fill="#333" stroke="#333" stroke-width="0.15" textLength="12.80" lengthAdjust="spacingAndGlyphs">200K</text>
<line x1="272.80" y1="456.20" x2="275.60" y2="456.20" stroke="#000" stroke-width="1"/>
<text x="270.30" y="458.10" font-size="5.2" text-anchor="end" fill="#333" stroke="#333" stroke-width="0.15" textLength="12.80" lengthAdjust="spacingAndGlyphs">250K</text>
<line x1="274.00" y1="522.30" x2="275.60" y2="522.30" stroke="#000" stroke-width="0.7"/>
<line x1="274.00" y1="519.66" x2="275.60" y2="519.66" stroke="#000" stroke-width="0.7"/>
<line x1="274.00" y1="517.01" x2="275.60" y2="517.01" stroke="#000" stroke-width="0.7"/>
<line x1="274.00" y1="514.37" x2="275.60" y2="514.37" stroke="#000" stroke-width="0.7"/>
<line x1="274.00" y1="511.72" x2="275.60" y2="511.72" stroke="#000" stroke-width="0.7"/>
<line x1="274.00" y1="509.08" x2="275.60" y2="509.08" stroke="#000" stroke-width="0.7"/>
<line x1="274.00" y1="506.44" x2="275.60" y2="506.44" stroke="#000" stroke-width="0.7"/>
<line x1="274.00" y1="503.79" x2="275.60" y2="503.79" stroke="#000" stroke-width="0.7"/>
<line x1="274.00" y1="501.15" x2="275.60" y2="501.15" stroke="#000" stroke-width="0.7"/>
<line x1="274.00" y1="498.50" x2="275.60" y2="498.50" stroke="#000" stroke-width="0.7"/>
<line x1="274.00" y1="495.86" x2="275.60" y2="495.86" stroke="#000" stroke-width="0.7"/>
<line x1="274.00" y1="493.22" x2="275.60" y2="493.22" stroke="#000" stroke-width="0.7"/>
<line x1="274.00" y1="490.57" x2="275.60" y2="490.57" stroke="#000" stroke-width="0.7"/>
<line x1="274.00" y1="487.93" x2="275.60" y2="487.93" stroke="#000" stroke-width="0.7"/>
<line x1="274.00" y1="485.28" x2="275.60" y2="485.28" stroke="#000" stroke-width="0.7"/>
<line x1="274.00" y1="482.64" x2="275.60" y2="482.64" stroke="#000" stroke-width="0.7"/>
<line x1="274.00" y1="480.00" x2="275.60" y2="480.00" stroke="#000" stroke-width="0.7"/>
<line x1="274.00" y1="477.35" x2="275.60" y2="477.35" stroke="#000" stroke-width="0.7"/>
<line x1="274.00" y1="474.71" x2="275.60" y2="474.71" stroke="#000" stroke-width="0.7"/>
<line x1="274.00" y1="472.06" x2="275.60" y2="472.06" stroke="#000" stroke-width="0.7"/>
<line x1="274.00" y1="469.42" x2="275.60" y2="469.42" stroke="#000" stroke-width="0.7"/>
<line x1="274.00" y1="466.78" x2="275.60" y2="466.78" stroke="#000" stroke-width="0.7"/>
<line x1="274.00" y1="464.13" x2="275.60" y2="464.13" stroke="#000" stroke-width="0.7"/>
<line x1="274.00" y1="461.49" x2="275.60" y2="461.49" stroke="#000" stroke-width="0.7"/>
<line x1="274.00" y1="458.84" x2="275.60" y2="458.84" stroke="#000" stroke-width="0.7"/>
<line x1="274.00" y1="456.20" x2="275.60" y2="456.20" stroke="#000" stroke-width="0.7"/>
<line x1="279.40" y1="522.30" x2="279.40" y2="524.90" stroke="#000" stroke-width="1"/>
<line x1="291.20" y1="522.30" x2="291.20" y2="524.90" stroke="#000" stroke-width="1"/>
<line x1="302.90" y1="522.30" x2="302.90" y2="524.90" stroke="#000" stroke-width="1"/>
<line x1="322.00" y1="522.30" x2="322.00" y2="524.90" stroke="#000" stroke-width="1"/>
<line x1="337.80" y1="522.30" x2="337.80" y2="524.90" stroke="#000" stroke-width="1"/>
<line x1="283.00" y1="522.30" x2="283.00" y2="523.80" stroke="#000" stroke-width="0.7"/>
<line x1="285.00" y1="522.30" x2="285.00" y2="523.80" stroke="#000" stroke-width="0.7"/>
<line x1="287.00" y1="522.30" x2="287.00" y2="523.80" stroke="#000" stroke-width="0.7"/>
<line x1="288.50" y1="522.30" x2="288.50" y2="523.80" stroke="#000" stroke-width="0.7"/>
<line x1="289.50" y1="522.30" x2="289.50" y2="523.80" stroke="#000" stroke-width="0.7"/>
<line x1="293.00" y1="522.30" x2="293.00" y2="523.80" stroke="#000" stroke-width="0.7"/>
<line x1="294.50" y1="522.30" x2="294.50" y2="523.80" stroke="#000" stroke-width="0.7"/>
<line x1="296.00" y1="522.30" x2="296.00" y2="523.80" stroke="#000" stroke-width="0.7"/>
<line x1="298.00" y1="522.30" x2="298.00" y2="523.80" stroke="#000" stroke-width="0.7"/>
<line x1="300.00" y1="522.30" x2="300.00" y2="523.80" stroke="#000" stroke-width="0.7"/>
<line x1="301.00" y1="522.30" x2="301.00" y2="523.80" stroke="#000" stroke-width="0.7"/>
<line x1="306.00" y1="522.30" x2="306.00" y2="523.80" stroke="#000" stroke-width="0.7"/>
<line x1="309.00" y1="522.30" x2="309.00" y2="523.80" stroke="#000" stroke-width="0.7"/>
<line x1="312.00" y1="522.30" x2="312.00" y2="523.80" stroke="#000" stroke-width="0.7"/>
<line x1="315.00" y1="522.30" x2="315.00" y2="523.80" stroke="#000" stroke-width="0.7"/>
<line x1="317.00" y1="522.30" x2="317.00" y2="523.80" stroke="#000" stroke-width="0.7"/>
<line x1="319.00" y1="522.30" x2="319.00" y2="523.80" stroke="#000" stroke-width="0.7"/>
<line x1="320.50" y1="522.30" x2="320.50" y2="523.80" stroke="#000" stroke-width="0.7"/>
<line x1="326.00" y1="522.30" x2="326.00" y2="523.80" stroke="#000" stroke-width="0.7"/>
<line x1="329.00" y1="522.30" x2="329.00" y2="523.80" stroke="#000" stroke-width="0.7"/>
<line x1="331.00" y1="522.30" x2="331.00" y2="523.80" stroke="#000" stroke-width="0.7"/>
<line x1="333.00" y1="522.30" x2="333.00" y2="523.80" stroke="#000" stroke-width="0.7"/>
<line x1="335.00" y1="522.30" x2="335.00" y2="523.80" stroke="#000" stroke-width="0.7"/>
<line x1="336.00" y1="522.30" x2="336.00" y2="523.80" stroke="#000" stroke-width="0.7"/>
<line x1="340.00" y1="522.30" x2="340.00" y2="523.80" stroke="#000" stroke-width="0.7"/>
<line x1="341.50" y1="522.30" x2="341.50" y2="523.80" stroke="#000" stroke-width="0.7"/>
<rect x="287.80" y="522.80" width="5.00" height="1.80" fill="#000"/>
<text x="280.00" y="532.80" font-size="5.2" text-anchor="middle" fill="#333" stroke="#333" stroke-width="0.15">-10</text>
<text x="284.80" y="530.50" font-size="3.4" text-anchor="start" fill="#333" stroke="#333" stroke-width="0.15">3</text>
<text x="291.20" y="532.80" font-size="5.2" text-anchor="middle" fill="#333" stroke="#333" stroke-width="0.15">0</text>
<text x="303.50" y="532.80" font-size="5.2" text-anchor="middle" fill="#333" stroke="#333" stroke-width="0.15">10</text>
<text x="306.80" y="530.50" font-size="3.4" text-anchor="start" fill="#333" stroke="#333" stroke-width="0.15">3</text>
<text x="322.60" y="532.80" font-size="5.2" text-anchor="middle" fill="#333" stroke="#333" stroke-width="0.15">10</text>
<text x="325.90" y="530.50" font-size="3.4" text-anchor="start" fill="#333" stroke="#333" stroke-width="0.15">4</text>
<text x="338.40" y="532.80" font-size="5.2" text-anchor="middle" fill="#333" stroke="#333" stroke-width="0.15">10</text>
<text x="341.70" y="530.50" font-size="3.4" text-anchor="start" fill="#333" stroke="#333" stroke-width="0.15">5</text>
<text x="264.00" y="448.30" font-size="6.6" text-anchor="start" fill="#222" stroke="#222" stroke-width="0.15" textLength="17.30" lengthAdjust="spacingAndGlyphs">sh471</text>
<text x="331.00" y="499.20" font-size="3.8" text-anchor="middle" fill="#444" stroke="#444" stroke-width="0.1" textLength="13.50" lengthAdjust="spacingAndGlyphs">Venus+</text>
<text x="331.00" y="504.80" font-size="4.4" text-anchor="middle" fill="#444" stroke="#444" stroke-width="0.1" textLength="7.00" lengthAdjust="spacingAndGlyphs">20.3</text>
<text x="280.90" y="545.20" font-size="10.6" text-anchor="start" fill="#222" stroke="#222" stroke-width="0.15" textLength="23.40" lengthAdjust="spacingAndGlyphs">Venus</text>
<path d="M307.4,541.7 L314.5,541.7" stroke="#222" stroke-width="1.3" fill="none"/>
<path d="M313,539.2 L318.2,541.7 L313,544.2 Z" stroke="none" stroke-width="0" fill="#222"/>
<text x="252.30" y="510.00" font-size="10.6" text-anchor="middle" fill="#222" stroke="#222" stroke-width="0.15" textLength="18.30" lengthAdjust="spacingAndGlyphs" transform="rotate(-90 252.30 510.00)">FSC</text>
<path d="M249.0,498.0 L249.0,492.5" stroke="#222" stroke-width="1.3" fill="none"/>
<path d="M246.5,494.8 L249.0,490.0 L251.5,494.8 Z" stroke="none" stroke-width="0" fill="#222"/>
<line x1="405.40" y1="378.80" x2="405.40" y2="522.80" stroke="#111" stroke-width="1.25"/>
<line x1="402.50" y1="522.40" x2="405.40" y2="522.40" stroke="#111" stroke-width="1.25"/>
<text x="400.10" y="525.00" font-size="7.6" text-anchor="end" fill="#2a2a2a" stroke="#2a2a2a" stroke-width="0.15" textLength="4.50" lengthAdjust="spacingAndGlyphs">0</text>
<line x1="402.50" y1="508.28" x2="405.40" y2="508.28" stroke="#111" stroke-width="1.25"/>
<text x="400.10" y="510.88" font-size="7.6" text-anchor="end" fill="#2a2a2a" stroke="#2a2a2a" stroke-width="0.15" textLength="9.00" lengthAdjust="spacingAndGlyphs">10</text>
<line x1="402.50" y1="494.17" x2="405.40" y2="494.17" stroke="#111" stroke-width="1.25"/>
<text x="400.10" y="496.77" font-size="7.6" text-anchor="end" fill="#2a2a2a" stroke="#2a2a2a" stroke-width="0.15" textLength="9.00" lengthAdjust="spacingAndGlyphs">20</text>
<line x1="402.50" y1="480.05" x2="405.40" y2="480.05" stroke="#111" stroke-width="1.25"/>
<text x="400.10" y="482.65" font-size="7.6" text-anchor="end" fill="#2a2a2a" stroke="#2a2a2a" stroke-width="0.15" textLength="9.00" lengthAdjust="spacingAndGlyphs">30</text>
<line x1="402.50" y1="465.94" x2="405.40" y2="465.94" stroke="#111" stroke-width="1.25"/>
<text x="400.10" y="468.54" font-size="7.6" text-anchor="end" fill="#2a2a2a" stroke="#2a2a2a" stroke-width="0.15" textLength="9.00" lengthAdjust="spacingAndGlyphs">40</text>
<line x1="402.50" y1="451.82" x2="405.40" y2="451.82" stroke="#111" stroke-width="1.25"/>
<text x="400.10" y="454.43" font-size="7.6" text-anchor="end" fill="#2a2a2a" stroke="#2a2a2a" stroke-width="0.15" textLength="9.00" lengthAdjust="spacingAndGlyphs">50</text>
<line x1="402.50" y1="437.71" x2="405.40" y2="437.71" stroke="#111" stroke-width="1.25"/>
<text x="400.10" y="440.31" font-size="7.6" text-anchor="end" fill="#2a2a2a" stroke="#2a2a2a" stroke-width="0.15" textLength="9.00" lengthAdjust="spacingAndGlyphs">60</text>
<line x1="402.50" y1="423.59" x2="405.40" y2="423.59" stroke="#111" stroke-width="1.25"/>
<text x="400.10" y="426.19" font-size="7.6" text-anchor="end" fill="#2a2a2a" stroke="#2a2a2a" stroke-width="0.15" textLength="9.00" lengthAdjust="spacingAndGlyphs">70</text>
<line x1="402.50" y1="409.48" x2="405.40" y2="409.48" stroke="#111" stroke-width="1.25"/>
<text x="400.10" y="412.08" font-size="7.6" text-anchor="end" fill="#2a2a2a" stroke="#2a2a2a" stroke-width="0.15" textLength="9.00" lengthAdjust="spacingAndGlyphs">80</text>
<line x1="402.50" y1="395.37" x2="405.40" y2="395.37" stroke="#111" stroke-width="1.25"/>
<text x="400.10" y="397.97" font-size="7.6" text-anchor="end" fill="#2a2a2a" stroke="#2a2a2a" stroke-width="0.15" textLength="9.00" lengthAdjust="spacingAndGlyphs">90</text>
<line x1="402.50" y1="381.25" x2="405.40" y2="381.25" stroke="#111" stroke-width="1.25"/>
<text x="400.10" y="383.85" font-size="7.6" text-anchor="end" fill="#2a2a2a" stroke="#2a2a2a" stroke-width="0.15" textLength="13.50" lengthAdjust="spacingAndGlyphs">100</text>
<line x1="404.90" y1="522.40" x2="494.70" y2="522.40" stroke="#111" stroke-width="1.35"/>
<line x1="435.00" y1="522.40" x2="435.00" y2="525.40" stroke="#111" stroke-width="1.25"/>
<line x1="493.60" y1="522.40" x2="493.60" y2="525.40" stroke="#111" stroke-width="1.25"/>
<path d="M434.90,385.90 L438.60,389.60 L434.90,393.30 L431.20,389.60 Z" fill="#701630" stroke="#111" stroke-width="0.9"/>
<path d="M434.80,462.10 L438.50,465.80 L434.80,469.50 L431.10,465.80 Z" fill="#701630" stroke="#111" stroke-width="0.9"/>
<path d="M434.80,480.30 L438.50,484.00 L434.80,487.70 L431.10,484.00 Z" fill="#701630" stroke="#111" stroke-width="0.9"/>
<path d="M435.00,497.00 L438.70,500.70 L435.00,504.40 L431.30,500.70 Z" fill="#701630" stroke="#111" stroke-width="0.9"/>
<path d="M432.40,511.30 L436.10,515.00 L432.40,518.70 L428.70,515.00 Z" fill="#701630" stroke="#111" stroke-width="0.9"/>
<path d="M438.20,511.30 L441.90,515.00 L438.20,518.70 L434.50,515.00 Z" fill="#701630" stroke="#111" stroke-width="0.9"/>
<path d="M435.00,513.90 L438.70,517.60 L435.00,521.30 L431.30,517.60 Z" fill="#701630" stroke="#111" stroke-width="0.9"/>
<path d="M456.30,517.80 L459.90,521.40 L456.30,525.00 L452.70,521.40 Z" fill="#E3C34A" stroke="#111" stroke-width="0.9"/>
<path d="M461.00,515.00 L464.60,518.60 L461.00,522.20 L457.40,518.60 Z" fill="#E3C34A" stroke="#111" stroke-width="0.9"/>
<path d="M464.00,518.40 L467.60,522.00 L464.00,525.60 L460.40,522.00 Z" fill="#E3C34A" stroke="#111" stroke-width="0.9"/>
<path d="M467.30,515.20 L470.90,518.80 L467.30,522.40 L463.70,518.80 Z" fill="#E3C34A" stroke="#111" stroke-width="0.9"/>
<path d="M470.20,518.40 L473.80,522.00 L470.20,525.60 L466.60,522.00 Z" fill="#E3C34A" stroke="#111" stroke-width="0.9"/>
<path d="M473.10,517.60 L476.70,521.20 L473.10,524.80 L469.50,521.20 Z" fill="#E3C34A" stroke="#111" stroke-width="0.9"/>
<circle cx="464.4" cy="504.3" r="1.1" fill="#222"/>
<circle cx="445.5" cy="426.8" r="1.1" fill="#222"/>
<text x="448.90" y="430.50" font-size="7.3" text-anchor="start" fill="#2a2a2a" stroke="#2a2a2a" stroke-width="0.15" textLength="27.30" lengthAdjust="spacingAndGlyphs">p&lt;0.002</text>
<text x="435.00" y="535.60" font-size="7.4" text-anchor="middle" fill="#2a2a2a" stroke="#2a2a2a" stroke-width="0.15" textLength="10.00" lengthAdjust="spacingAndGlyphs">NT</text>
<text x="464.10" y="535.60" font-size="7.4" text-anchor="middle" fill="#2a2a2a" stroke="#2a2a2a" stroke-width="0.15" textLength="20.60" lengthAdjust="spacingAndGlyphs">sh471</text>
<text x="380.50" y="450.40" font-size="8.8" text-anchor="middle" fill="#2a2a2a" stroke="#2a2a2a" stroke-width="0.15" textLength="32.20" lengthAdjust="spacingAndGlyphs" transform="rotate(-90 380.50 450.40)">Venus%</text>
<text x="74.80" y="202.70" font-size="7.5" text-anchor="middle" fill="#222" stroke="#222" stroke-width="0.15" textLength="46.20" lengthAdjust="spacingAndGlyphs">shREN +DOX</text>
<text x="195.50" y="202.70" font-size="7.5" text-anchor="middle" fill="#222" stroke="#222" stroke-width="0.15" textLength="44.00" lengthAdjust="spacingAndGlyphs">sh170 +DOX</text>
<g clip-path="url(#cD1)">
<rect x="18.80" y="207.40" width="112.60" height="109.30" fill="#EBEBE5"/>
<ellipse cx="25.7" cy="255.3" rx="5" ry="7" fill="#d6a8d0" filter="url(#b2)"/>
<ellipse cx="24" cy="250" rx="3" ry="3" fill="#c890c4" filter="url(#b1)" opacity="0.6"/>
<path d="M87.8,223.5 C87.8,225.0 86.3,226.5 85.5,228.1 C84.6,229.7 84.1,232.1 82.7,233.1 C81.2,234.0 78.6,234.3 76.8,233.8 C75.1,233.4 73.6,231.7 72.3,230.5 C70.9,229.2 69.3,227.8 68.9,226.2 C68.6,224.7 69.4,222.6 70.1,221.1 C70.7,219.5 71.5,218.0 72.7,217.0 C73.8,216.0 75.4,215.2 77.1,214.8 C78.7,214.4 81.0,213.9 82.4,214.6 C83.8,215.2 84.6,217.4 85.5,218.9 C86.4,220.4 87.8,222.0 87.8,223.5 Z" fill="#7a6cc6" filter="url(#b1)"/>
<path d="M83.4,223.8 C83.5,225.1 83.8,227.0 83.1,228.1 C82.3,229.3 80.4,230.4 79.1,230.6 C77.7,230.7 76.0,229.7 74.9,228.9 C73.8,228.1 72.9,226.9 72.5,225.8 C72.1,224.6 72.2,223.0 72.6,221.9 C73.1,220.8 74.2,219.7 75.2,219.1 C76.2,218.5 77.7,218.1 78.9,218.3 C80.0,218.4 81.4,219.3 82.2,220.2 C82.9,221.1 83.2,222.5 83.4,223.8 Z" fill="#3f2c9c" filter="url(#b1)"/>
<path d="M101.7,224.6 C101.7,226.4 102.1,228.7 101.2,230.1 C100.3,231.5 98.1,232.1 96.4,232.9 C94.7,233.7 92.9,235.0 91.1,234.9 C89.4,234.8 87.2,233.6 85.9,232.3 C84.6,231.0 83.9,229.1 83.4,227.3 C82.8,225.6 82.4,223.4 82.8,221.7 C83.3,220.0 84.6,218.0 86.0,217.0 C87.4,216.0 89.6,216.1 91.3,215.9 C93.1,215.6 95.1,215.0 96.7,215.5 C98.4,216.1 100.4,217.6 101.2,219.1 C102.0,220.6 101.7,222.8 101.7,224.6 Z" fill="#6a5cc4" stroke="#b4aee0" stroke-width="0.7" filter="url(#b05)"/>
<path d="M99.6,224.9 C99.6,226.4 99.3,228.2 98.5,229.4 C97.7,230.6 96.1,232.0 94.7,232.4 C93.3,232.7 91.6,231.9 90.2,231.4 C88.7,230.9 87.1,230.5 86.0,229.4 C84.9,228.4 83.6,226.4 83.6,224.9 C83.6,223.4 84.9,221.5 85.9,220.3 C87.0,219.0 88.4,218.1 89.9,217.5 C91.4,217.0 93.5,216.5 94.9,217.0 C96.3,217.4 97.7,219.1 98.5,220.4 C99.2,221.7 99.6,223.4 99.6,224.9 Z" fill="#4838aa" filter="url(#b1)"/>
<ellipse cx="90.1" cy="222.6" rx="3.0" ry="2.2" fill="#6250bc" filter="url(#b1)" opacity="0.7"/>
<path d="M60.1,234.5 C60.0,236.0 58.7,237.6 57.8,238.9 C56.8,240.2 55.9,241.7 54.5,242.4 C53.2,243.1 51.1,243.5 49.7,243.1 C48.2,242.8 46.8,241.4 45.9,240.3 C44.9,239.2 44.3,238.0 43.8,236.6 C43.3,235.2 42.4,233.4 42.8,232.1 C43.1,230.8 44.8,229.8 46.0,228.8 C47.1,227.9 48.3,227.0 49.8,226.6 C51.2,226.1 53.2,225.8 54.7,226.3 C56.1,226.8 57.6,228.3 58.5,229.6 C59.4,231.0 60.2,233.0 60.1,234.5 Z" fill="#6a5cc4" stroke="#b4aee0" stroke-width="0.7" filter="url(#b05)"/>
<path d="M57.8,234.8 C57.8,236.0 56.5,237.4 55.6,238.5 C54.8,239.6 53.9,241.1 52.8,241.5 C51.6,241.8 50.0,241.0 48.7,240.5 C47.5,240.0 46.1,239.5 45.4,238.6 C44.7,237.6 44.6,236.1 44.6,234.8 C44.6,233.5 44.6,231.9 45.3,231.0 C46.0,230.1 47.6,229.8 48.8,229.4 C50.0,229.0 51.4,228.5 52.5,228.8 C53.7,229.1 54.7,230.2 55.5,231.2 C56.4,232.2 57.8,233.6 57.8,234.8 Z" fill="#4838aa" filter="url(#b1)"/>
<ellipse cx="48.8" cy="232.8" rx="2.5" ry="1.8" fill="#6250bc" filter="url(#b1)" opacity="0.7"/>
<path d="M74.5,236.7 C74.7,238.2 73.8,240.3 72.9,241.7 C71.9,243.1 70.3,244.4 68.8,244.9 C67.3,245.3 65.5,244.9 64.0,244.6 C62.5,244.2 61.0,243.8 59.8,242.9 C58.5,242.0 57.1,240.7 56.5,239.2 C56.0,237.8 55.7,235.5 56.3,234.1 C57.0,232.8 58.9,231.9 60.2,231.0 C61.5,230.2 62.5,229.4 64.0,229.0 C65.5,228.5 67.7,227.6 69.0,228.2 C70.2,228.8 70.7,231.1 71.6,232.5 C72.5,233.9 74.3,235.2 74.5,236.7 Z" fill="#6a5cc4" stroke="#b4aee0" stroke-width="0.7" filter="url(#b05)"/>
<path d="M72.0,237.0 C72.0,238.2 70.6,239.4 69.7,240.6 C68.9,241.8 68.3,243.6 67.1,244.1 C65.9,244.5 64.0,243.8 62.8,243.3 C61.5,242.7 60.4,241.8 59.6,240.8 C58.8,239.7 57.9,238.2 58.0,237.0 C58.0,235.8 59.1,234.4 59.9,233.5 C60.8,232.5 61.8,231.7 62.9,231.2 C64.1,230.8 65.7,230.5 66.8,230.8 C67.9,231.2 68.9,232.4 69.8,233.4 C70.6,234.4 72.0,235.8 72.0,237.0 Z" fill="#4838aa" filter="url(#b1)"/>
<ellipse cx="63.0" cy="235.0" rx="2.5" ry="1.9" fill="#6250bc" filter="url(#b1)" opacity="0.7"/>
<path d="M86.8,238.9 C86.8,240.2 85.5,241.7 84.6,243.0 C83.8,244.2 83.0,245.7 81.8,246.5 C80.5,247.2 78.5,247.8 77.1,247.4 C75.7,247.1 74.6,245.6 73.4,244.5 C72.3,243.5 70.7,242.5 70.3,241.2 C70.0,239.9 70.6,238.1 71.1,236.8 C71.7,235.5 72.6,234.4 73.6,233.5 C74.6,232.6 75.9,231.8 77.2,231.5 C78.6,231.1 80.6,230.8 81.7,231.4 C82.9,232.0 83.5,233.8 84.3,235.0 C85.1,236.3 86.7,237.6 86.8,238.9 Z" fill="#6a5cc4" stroke="#b4aee0" stroke-width="0.7" filter="url(#b05)"/>
<path d="M84.0,239.2 C84.1,240.4 83.8,241.9 83.1,242.9 C82.5,243.9 81.1,244.8 79.9,245.2 C78.8,245.6 77.3,245.6 76.0,245.3 C74.8,245.0 73.3,244.2 72.5,243.2 C71.8,242.2 71.3,240.4 71.5,239.2 C71.7,238.0 72.8,236.9 73.5,236.0 C74.3,235.1 75.2,234.3 76.3,233.9 C77.3,233.5 78.8,233.2 79.9,233.5 C80.9,233.8 82.1,234.8 82.8,235.7 C83.5,236.7 84.0,238.0 84.0,239.2 Z" fill="#4838aa" filter="url(#b1)"/>
<ellipse cx="76.4" cy="237.3" rx="2.3" ry="1.7" fill="#6250bc" filter="url(#b1)" opacity="0.7"/>
<path d="M102.4,240.0 C102.5,241.5 102.3,243.8 101.3,244.9 C100.4,246.0 98.2,246.0 96.7,246.6 C95.2,247.3 93.9,249.0 92.4,249.0 C90.9,249.1 88.8,247.9 87.9,246.7 C86.9,245.6 87.1,243.6 86.6,242.1 C86.2,240.5 85.0,239.0 85.2,237.5 C85.4,236.0 86.7,234.1 87.9,233.3 C89.1,232.5 91.0,232.7 92.6,232.4 C94.2,232.2 96.2,231.1 97.5,231.6 C98.8,232.2 99.6,234.3 100.4,235.7 C101.2,237.1 102.2,238.5 102.4,240.0 Z" fill="#6a5cc4" stroke="#b4aee0" stroke-width="0.7" filter="url(#b05)"/>
<path d="M99.0,240.3 C99.1,241.6 99.7,243.4 99.1,244.5 C98.6,245.6 96.8,246.6 95.5,246.8 C94.3,247.0 92.9,246.0 91.7,245.6 C90.4,245.2 88.8,245.0 88.1,244.1 C87.4,243.3 87.5,241.6 87.4,240.3 C87.3,239.0 87.0,237.2 87.6,236.1 C88.3,235.0 89.9,233.8 91.2,233.6 C92.5,233.3 94.0,234.0 95.3,234.5 C96.5,235.0 98.1,235.4 98.8,236.4 C99.4,237.4 98.9,239.0 99.0,240.3 Z" fill="#4838aa" filter="url(#b1)"/>
<ellipse cx="91.6" cy="238.3" rx="2.5" ry="1.8" fill="#6250bc" filter="url(#b1)" opacity="0.7"/>
<path d="M92.6,248.8 C92.6,250.1 92.6,251.5 92.1,252.7 C91.5,253.9 90.5,255.4 89.3,256.0 C88.1,256.5 86.3,256.4 85.0,256.1 C83.6,255.8 82.3,255.0 81.4,254.1 C80.5,253.2 79.8,251.9 79.5,250.7 C79.3,249.5 79.6,248.3 79.8,247.0 C80.0,245.7 80.0,243.7 80.8,242.8 C81.7,241.9 83.6,241.4 84.9,241.4 C86.3,241.4 87.6,242.2 88.8,242.7 C90.0,243.3 91.4,243.9 92.1,244.9 C92.7,245.9 92.7,247.5 92.6,248.8 Z" fill="#6a5cc4" stroke="#b4aee0" stroke-width="0.7" filter="url(#b05)"/>
<path d="M90.8,249.1 C90.8,250.1 90.2,251.1 89.7,252.0 C89.1,252.9 88.4,254.3 87.5,254.6 C86.6,254.9 85.2,254.3 84.1,254.0 C83.0,253.6 81.6,253.3 81.1,252.5 C80.5,251.6 80.8,250.3 80.7,249.1 C80.6,247.9 80.1,246.3 80.6,245.4 C81.2,244.5 82.8,243.8 83.9,243.6 C85.0,243.4 86.4,243.7 87.3,244.2 C88.3,244.6 89.0,245.4 89.6,246.3 C90.2,247.1 90.8,248.1 90.8,249.1 Z" fill="#4838aa" filter="url(#b1)"/>
<ellipse cx="84.2" cy="247.4" rx="2.1" ry="1.6" fill="#6250bc" filter="url(#b1)" opacity="0.7"/>
<path d="M113.2,246.6 C113.4,248.1 113.8,250.0 113.2,251.4 C112.5,252.8 110.9,254.3 109.4,254.8 C108.0,255.3 106.0,254.9 104.6,254.6 C103.1,254.2 101.6,253.5 100.6,252.5 C99.5,251.5 98.7,250.1 98.4,248.8 C98.0,247.4 98.2,245.8 98.6,244.5 C99.0,243.2 99.7,241.7 100.7,240.8 C101.7,239.9 103.1,239.4 104.6,239.0 C106.1,238.6 108.2,237.9 109.4,238.4 C110.7,239.0 111.5,241.1 112.1,242.5 C112.8,243.8 113.1,245.1 113.2,246.6 Z" fill="#6a5cc4" stroke="#b4aee0" stroke-width="0.7" filter="url(#b05)"/>
<path d="M112.6,246.9 C112.4,248.1 111.1,249.5 110.2,250.4 C109.3,251.3 108.3,252.0 107.2,252.4 C106.1,252.7 104.9,252.6 103.6,252.4 C102.4,252.1 100.7,251.9 99.8,251.0 C98.9,250.0 98.4,248.3 98.3,246.9 C98.3,245.5 98.6,243.7 99.5,242.6 C100.3,241.5 102.0,240.8 103.3,240.5 C104.6,240.1 106.2,240.1 107.5,240.5 C108.7,240.9 110.0,241.9 110.9,242.9 C111.7,244.0 112.7,245.7 112.6,246.9 Z" fill="#4838aa" filter="url(#b1)"/>
<ellipse cx="103.6" cy="244.9" rx="2.5" ry="1.8" fill="#6250bc" filter="url(#b1)" opacity="0.7"/>
<path d="M113.8,262.0 C113.9,263.7 113.6,265.7 112.7,267.2 C111.9,268.7 110.3,270.5 108.7,271.0 C107.2,271.6 105.1,270.9 103.4,270.6 C101.6,270.3 99.7,270.3 98.2,269.4 C96.6,268.5 94.5,266.8 94.0,265.1 C93.5,263.4 94.3,261.0 95.0,259.2 C95.7,257.4 96.8,255.8 98.2,254.6 C99.5,253.3 101.3,251.7 103.1,251.5 C104.8,251.3 107.1,252.3 108.6,253.2 C110.2,254.1 111.5,255.6 112.3,257.0 C113.2,258.5 113.7,260.3 113.8,262.0 Z" fill="#7a6cc6" filter="url(#b1)"/>
<path d="M111.3,262.3 C111.4,263.7 110.3,265.4 109.3,266.6 C108.3,267.7 106.7,269.0 105.4,269.1 C104.1,269.2 102.7,267.8 101.4,267.1 C100.2,266.3 98.5,265.8 97.9,264.6 C97.2,263.4 97.2,261.2 97.7,259.9 C98.2,258.6 99.7,257.4 101.0,256.7 C102.3,256.1 104.0,255.7 105.3,256.0 C106.6,256.3 107.8,257.4 108.8,258.5 C109.8,259.5 111.2,260.9 111.3,262.3 Z" fill="#3f2c9c" filter="url(#b1)"/>
<path d="M122.3,230.1 C122.3,230.6 121.8,231.1 121.5,231.5 C121.2,232.0 120.9,232.6 120.5,232.8 C120.1,232.9 119.4,232.7 118.9,232.6 C118.4,232.5 117.9,232.4 117.5,232.1 C117.2,231.8 117.0,231.3 116.8,230.8 C116.7,230.4 116.5,229.8 116.7,229.3 C116.8,228.9 117.3,228.6 117.7,228.3 C118.1,227.9 118.5,227.6 118.9,227.5 C119.4,227.4 120.0,227.5 120.4,227.7 C120.8,228.0 121.0,228.4 121.3,228.8 C121.7,229.2 122.3,229.6 122.3,230.1 Z" fill="#6a5cc4" stroke="#b4aee0" stroke-width="0.7" filter="url(#b05)"/>
<path d="M121.0,230.4 C120.9,230.8 120.8,231.2 120.6,231.5 C120.3,231.9 120.0,232.2 119.6,232.4 C119.3,232.5 118.8,232.3 118.4,232.2 C118.0,232.1 117.5,231.9 117.3,231.6 C117.1,231.3 117.1,230.8 117.1,230.4 C117.1,230.0 117.1,229.5 117.3,229.1 C117.5,228.8 117.9,228.5 118.3,228.3 C118.7,228.2 119.2,228.4 119.6,228.5 C120.0,228.6 120.6,228.7 120.9,229.0 C121.1,229.4 121.0,230.0 121.0,230.4 Z" fill="#4838aa" filter="url(#b1)"/>
<ellipse cx="118.6" cy="229.6" rx="0.8" ry="0.6" fill="#6250bc" filter="url(#b1)" opacity="0.7"/>
<path d="M85.6,277.3 C85.5,278.7 84.1,279.9 83.3,281.2 C82.5,282.5 82.0,284.5 80.8,285.1 C79.6,285.8 77.5,285.3 76.1,285.0 C74.7,284.6 73.3,283.9 72.2,283.0 C71.1,282.1 69.8,280.8 69.5,279.6 C69.2,278.3 69.8,276.6 70.3,275.3 C70.8,274.0 71.5,272.8 72.5,271.8 C73.4,270.9 74.8,269.9 76.1,269.7 C77.4,269.5 78.9,270.1 80.2,270.7 C81.5,271.2 83.1,271.8 84.0,272.9 C84.9,274.0 85.7,275.9 85.6,277.3 Z" fill="#6a5cc4" stroke="#b4aee0" stroke-width="0.7" filter="url(#b05)"/>
<path d="M83.3,277.6 C83.2,278.8 82.2,280.0 81.4,280.9 C80.6,281.7 79.6,282.3 78.6,282.7 C77.5,283.1 76.3,283.4 75.1,283.2 C73.9,282.9 72.3,282.4 71.6,281.4 C71.0,280.5 71.2,278.9 71.2,277.6 C71.1,276.3 70.8,274.6 71.5,273.6 C72.1,272.7 73.7,272.0 75.0,271.6 C76.2,271.3 77.6,271.4 78.8,271.8 C79.9,272.2 81.2,273.0 82.0,273.9 C82.7,274.9 83.4,276.4 83.3,277.6 Z" fill="#4838aa" filter="url(#b1)"/>
<ellipse cx="75.3" cy="275.7" rx="2.3" ry="1.7" fill="#6250bc" filter="url(#b1)" opacity="0.7"/>
<path d="M51.0,277.3 C51.0,278.4 50.9,279.6 50.4,280.5 C49.8,281.4 48.8,282.2 47.8,282.6 C46.9,283.0 45.6,283.3 44.6,283.2 C43.5,283.1 42.2,282.7 41.3,282.0 C40.5,281.3 39.8,280.0 39.6,279.0 C39.5,278.0 40.0,276.8 40.4,275.8 C40.8,274.9 41.2,274.0 41.9,273.3 C42.6,272.6 43.6,271.9 44.6,271.8 C45.6,271.6 46.7,271.9 47.7,272.3 C48.7,272.6 50.1,273.1 50.7,273.9 C51.3,274.7 51.1,276.2 51.0,277.3 Z" fill="#6a5cc4" stroke="#b4aee0" stroke-width="0.7" filter="url(#b05)"/>
<path d="M50.0,277.6 C49.9,278.5 48.9,279.2 48.4,280.0 C47.8,280.7 47.3,281.8 46.6,282.1 C45.8,282.4 44.6,282.1 43.7,281.8 C42.8,281.6 41.6,281.3 41.0,280.5 C40.5,279.8 40.5,278.5 40.6,277.6 C40.7,276.7 41.0,275.7 41.6,275.1 C42.1,274.4 43.1,274.2 43.9,273.9 C44.7,273.6 45.6,273.4 46.4,273.5 C47.3,273.6 48.5,274.0 49.1,274.7 C49.7,275.4 50.2,276.7 50.0,277.6 Z" fill="#4838aa" filter="url(#b1)"/>
<ellipse cx="44.0" cy="276.2" rx="1.7" ry="1.2" fill="#6250bc" filter="url(#b1)" opacity="0.7"/>
<path d="M47.4,289.3 C47.5,290.7 48.1,292.4 47.6,293.5 C47.1,294.7 45.4,295.9 44.1,296.2 C42.9,296.5 41.4,295.8 40.1,295.6 C38.8,295.4 37.2,295.5 36.2,294.8 C35.3,294.1 35.0,292.5 34.5,291.2 C34.1,289.9 33.2,288.4 33.5,287.1 C33.7,285.8 34.8,284.2 35.9,283.4 C37.0,282.6 38.7,282.6 40.0,282.5 C41.4,282.4 42.9,282.1 44.1,282.6 C45.2,283.1 46.5,284.3 47.0,285.4 C47.6,286.5 47.3,287.9 47.4,289.3 Z" fill="#6a5cc4" stroke="#b4aee0" stroke-width="0.7" filter="url(#b05)"/>
<path d="M46.3,289.6 C46.3,290.6 45.5,291.6 44.8,292.6 C44.2,293.6 43.6,295.2 42.7,295.6 C41.7,296.0 40.0,295.6 38.9,295.1 C37.8,294.7 36.8,293.9 36.0,293.0 C35.3,292.1 34.3,290.7 34.4,289.6 C34.5,288.5 35.9,287.6 36.7,286.7 C37.4,285.7 37.9,284.2 38.8,283.8 C39.8,283.5 41.3,284.2 42.3,284.7 C43.3,285.1 44.3,285.7 44.9,286.5 C45.6,287.4 46.4,288.6 46.3,289.6 Z" fill="#4838aa" filter="url(#b1)"/>
<ellipse cx="39.2" cy="287.9" rx="2.2" ry="1.6" fill="#6250bc" filter="url(#b1)" opacity="0.7"/>
<path d="M71.3,283.8 C71.1,285.2 70.6,286.4 69.9,287.6 C69.3,288.8 68.5,290.6 67.4,291.2 C66.2,291.7 64.4,291.3 63.0,291.0 C61.5,290.8 59.7,290.7 58.7,289.9 C57.8,289.0 57.7,287.2 57.1,285.8 C56.6,284.4 55.4,282.7 55.7,281.4 C55.9,280.0 57.5,278.5 58.7,277.7 C59.9,276.9 61.6,276.5 62.9,276.5 C64.3,276.4 65.5,277.0 66.9,277.5 C68.3,277.9 70.3,278.2 71.1,279.2 C71.8,280.3 71.5,282.4 71.3,283.8 Z" fill="#6a5cc4" stroke="#b4aee0" stroke-width="0.7" filter="url(#b05)"/>
<path d="M69.1,284.1 C69.1,285.3 69.3,286.8 68.7,287.8 C68.1,288.7 66.7,289.2 65.5,289.7 C64.3,290.2 62.8,290.9 61.6,290.5 C60.5,290.2 59.3,288.9 58.6,287.8 C58.0,286.7 57.7,285.4 57.6,284.1 C57.5,282.8 57.5,281.0 58.2,280.1 C58.9,279.2 60.7,279.1 61.9,278.7 C63.2,278.3 64.7,277.4 65.8,277.8 C66.9,278.1 68.0,279.6 68.5,280.6 C69.1,281.7 69.0,282.9 69.1,284.1 Z" fill="#4838aa" filter="url(#b1)"/>
<ellipse cx="62.1" cy="282.2" rx="2.3" ry="1.7" fill="#6250bc" filter="url(#b1)" opacity="0.7"/>
<path d="M64.3,287.1 C64.1,288.9 62.4,290.9 61.2,292.4 C60.1,293.9 58.8,295.3 57.2,296.2 C55.7,297.0 53.9,297.4 52.0,297.6 C50.1,297.8 47.8,298.2 46.0,297.4 C44.3,296.7 42.5,294.9 41.5,293.2 C40.4,291.5 39.5,289.1 39.5,287.1 C39.6,285.1 40.7,282.9 41.8,281.2 C42.9,279.5 44.5,278.0 46.2,277.0 C47.9,276.0 50.1,275.3 52.0,275.3 C53.9,275.4 56.0,276.3 57.7,277.3 C59.3,278.3 60.8,279.7 61.9,281.4 C63.0,283.0 64.4,285.3 64.3,287.1 Z" fill="#b4acd8" filter="url(#b1)"/>
<path d="M60.6,287.1 C60.8,288.7 61.6,290.8 61.0,292.3 C60.4,293.8 58.6,295.4 57.1,296.0 C55.6,296.6 53.6,296.0 52.0,295.8 C50.4,295.6 48.8,295.6 47.5,294.9 C46.2,294.2 45.2,292.9 44.3,291.6 C43.3,290.3 41.8,288.7 41.7,287.1 C41.6,285.5 42.5,283.5 43.5,282.2 C44.4,280.8 46.0,279.9 47.4,279.1 C48.8,278.4 50.4,277.7 52.0,277.6 C53.6,277.5 55.8,277.5 57.0,278.4 C58.3,279.2 59.2,281.2 59.8,282.6 C60.4,284.1 60.4,285.5 60.6,287.1 Z" fill="#8c80cc" filter="url(#b1)"/>
<path d="M57.4,287.5 C57.3,288.8 56.9,290.4 56.1,291.2 C55.4,292.1 53.9,292.4 52.6,292.7 C51.4,293.0 49.6,293.5 48.5,293.0 C47.4,292.5 46.5,290.8 46.0,289.6 C45.6,288.3 45.5,286.6 46.0,285.4 C46.5,284.3 47.8,283.4 48.9,282.7 C50.0,282.0 51.5,281.2 52.8,281.4 C54.0,281.6 55.6,282.6 56.3,283.6 C57.1,284.6 57.4,286.2 57.4,287.5 Z" fill="#3a2896" filter="url(#b1)"/>
<circle cx="46.5" cy="300.3" r="1.3" fill="#3a2a70"/><circle cx="49.8" cy="306.4" r="1.4" fill="#a070a8"/><circle cx="28" cy="241" r="0.7" fill="#704070"/><circle cx="40" cy="249" r="0.6" fill="#808080"/>
</g>
<rect x="18.8" y="207.4" width="112.6" height="109.3" fill="none" stroke="#111" stroke-width="1.2"/>
<line x1="91.20" y1="305.60" x2="127.00" y2="305.60" stroke="#111" stroke-width="1.6"/>
<g clip-path="url(#cD2)">
<rect x="138.60" y="207.40" width="113.90" height="109.30" fill="#E6E7DA"/>
<path d="M149,220 Q151,213 162,214 Q172,215 177,222 Q186,226 189,236 Q191,250 185,254 Q176,257 167,252 Q159,247 160,239 Q151,232 149,220 Z" fill="#5444ae" filter="url(#b1)"/>
<path d="M170.9,222.6 C170.9,224.4 169.7,226.5 168.7,228.1 C167.6,229.7 166.1,231.7 164.5,232.2 C162.8,232.7 160.7,231.4 158.9,231.1 C157.0,230.8 154.8,231.3 153.3,230.4 C151.9,229.5 150.4,227.3 150.0,225.6 C149.5,223.8 150.0,221.6 150.6,219.8 C151.3,218.1 152.3,216.2 153.6,215.1 C155.0,214.1 157.0,213.7 158.8,213.5 C160.5,213.3 162.5,213.2 164.1,213.8 C165.8,214.4 167.5,215.7 168.6,217.1 C169.8,218.6 170.9,220.8 170.9,222.6 Z" fill="#7a6cc6" filter="url(#b1)"/>
<path d="M165.4,222.9 C165.2,224.3 164.9,225.5 164.1,226.6 C163.3,227.6 162.0,228.9 160.8,229.2 C159.6,229.4 158.1,228.5 156.8,227.9 C155.5,227.3 153.2,226.6 152.8,225.4 C152.4,224.3 153.8,222.3 154.4,221.0 C155.0,219.6 155.3,217.9 156.4,217.2 C157.5,216.5 159.3,216.6 160.8,216.8 C162.3,217.0 164.5,217.2 165.2,218.3 C166.0,219.3 165.6,221.5 165.4,222.9 Z" fill="#3f2c9c" filter="url(#b1)"/>
<path d="M157.9,223.7 C158.0,224.7 157.5,225.8 157.0,226.6 C156.4,227.5 155.7,228.5 154.8,228.9 C153.9,229.3 152.7,229.2 151.6,229.1 C150.6,228.9 149.4,228.7 148.6,228.1 C147.9,227.4 147.6,226.2 147.3,225.2 C146.9,224.2 146.5,223.0 146.7,222.0 C146.9,221.0 147.7,219.8 148.5,219.2 C149.3,218.5 150.5,218.3 151.6,218.1 C152.7,217.9 154.2,217.5 155.0,217.9 C155.9,218.4 156.3,219.9 156.8,220.9 C157.3,221.8 157.9,222.7 157.9,223.7 Z" fill="#6a5cc4" stroke="#b4aee0" stroke-width="0.7" filter="url(#b05)"/>
<path d="M157.3,224.0 C157.2,224.9 156.5,226.1 155.9,226.7 C155.2,227.4 154.3,227.6 153.4,228.0 C152.5,228.3 151.3,229.2 150.5,228.9 C149.7,228.7 149.0,227.5 148.5,226.6 C147.9,225.8 147.1,224.8 147.1,224.0 C147.2,223.2 148.3,222.3 148.9,221.6 C149.5,221.0 150.0,220.5 150.8,220.0 C151.6,219.6 152.8,218.9 153.7,219.0 C154.6,219.2 155.6,220.2 156.2,221.1 C156.7,221.9 157.3,223.1 157.3,224.0 Z" fill="#4838aa" filter="url(#b1)"/>
<ellipse cx="150.9" cy="222.5" rx="1.8" ry="1.3" fill="#6250bc" filter="url(#b1)" opacity="0.7"/>
<path d="M184.9,231.4 C184.8,232.8 183.6,234.2 182.8,235.3 C181.9,236.4 180.8,237.2 179.6,237.8 C178.4,238.4 177.0,238.9 175.6,238.9 C174.2,238.8 172.3,238.6 171.3,237.7 C170.3,236.8 170.0,234.9 169.6,233.5 C169.1,232.0 168.2,230.4 168.5,229.0 C168.9,227.6 170.3,226.2 171.5,225.4 C172.6,224.5 174.2,223.9 175.6,223.7 C177.0,223.5 178.7,223.6 180.0,224.1 C181.3,224.7 182.6,225.9 183.4,227.1 C184.2,228.3 185.0,230.0 184.9,231.4 Z" fill="#6a5cc4" stroke="#b4aee0" stroke-width="0.7" filter="url(#b05)"/>
<path d="M183.2,231.7 C183.0,232.9 181.7,233.9 180.9,235.0 C180.1,236.0 179.5,237.6 178.4,238.0 C177.4,238.3 175.8,237.6 174.6,237.2 C173.4,236.7 171.8,236.4 171.2,235.5 C170.5,234.6 170.5,232.9 170.6,231.7 C170.6,230.5 170.7,229.0 171.3,228.0 C172.0,227.0 173.3,226.0 174.5,225.7 C175.6,225.5 176.8,226.4 178.0,226.7 C179.2,227.1 180.7,227.1 181.6,227.9 C182.5,228.7 183.3,230.5 183.2,231.7 Z" fill="#4838aa" filter="url(#b1)"/>
<ellipse cx="174.8" cy="229.8" rx="2.3" ry="1.7" fill="#6250bc" filter="url(#b1)" opacity="0.7"/>
<path d="M184.5,244.7 C184.3,246.4 182.6,247.8 181.6,249.2 C180.6,250.7 179.9,252.8 178.5,253.5 C177.1,254.3 175.0,254.0 173.2,253.8 C171.4,253.6 169.1,253.4 167.9,252.4 C166.6,251.3 166.0,249.0 165.7,247.3 C165.3,245.6 165.3,243.6 165.9,242.2 C166.5,240.7 167.9,239.6 169.2,238.5 C170.4,237.5 171.6,236.4 173.2,235.9 C174.8,235.4 177.1,235.0 178.7,235.5 C180.3,236.1 182.1,237.7 183.0,239.2 C184.0,240.7 184.8,243.0 184.5,244.7 Z" fill="#6a5cc4" stroke="#b4aee0" stroke-width="0.7" filter="url(#b05)"/>
<path d="M181.4,245.0 C181.6,246.3 180.9,248.1 180.1,249.3 C179.2,250.4 177.7,251.2 176.4,251.7 C175.0,252.1 173.2,252.4 171.9,252.0 C170.6,251.6 169.3,250.3 168.5,249.1 C167.7,248.0 167.1,246.3 167.2,245.0 C167.3,243.7 168.2,242.2 169.0,241.2 C169.9,240.2 171.0,239.5 172.2,239.0 C173.5,238.4 175.3,237.6 176.5,238.0 C177.6,238.4 178.4,240.2 179.3,241.3 C180.1,242.5 181.3,243.7 181.4,245.0 Z" fill="#4838aa" filter="url(#b1)"/>
<ellipse cx="172.2" cy="242.9" rx="2.7" ry="2.0" fill="#6250bc" filter="url(#b1)" opacity="0.7"/>
<path d="M192.1,249.1 C192.1,250.2 191.2,251.3 190.7,252.3 C190.1,253.4 189.6,255.1 188.6,255.6 C187.6,256.2 185.9,256.0 184.6,255.7 C183.4,255.5 182.2,254.9 181.3,254.1 C180.3,253.3 178.9,252.2 178.7,251.1 C178.5,250.0 179.6,248.7 180.0,247.5 C180.4,246.2 180.3,244.6 181.1,243.9 C181.8,243.1 183.6,243.2 184.7,243.1 C185.9,243.1 187.1,243.1 188.1,243.5 C189.1,244.0 190.2,244.8 190.8,245.7 C191.5,246.7 192.1,248.0 192.1,249.1 Z" fill="#6a5cc4" stroke="#b4aee0" stroke-width="0.7" filter="url(#b05)"/>
<path d="M189.7,249.4 C189.7,250.5 190.0,251.7 189.5,252.5 C189.1,253.3 187.8,254.1 186.9,254.3 C186.0,254.5 184.8,254.1 183.9,253.7 C183.1,253.3 182.5,252.7 181.7,252.0 C181.0,251.3 179.7,250.3 179.6,249.4 C179.5,248.5 180.6,247.3 181.3,246.5 C182.0,245.7 182.9,245.2 183.8,244.9 C184.8,244.5 185.9,244.2 186.9,244.4 C187.9,244.6 189.4,245.2 189.9,246.1 C190.4,246.9 189.8,248.3 189.7,249.4 Z" fill="#4838aa" filter="url(#b1)"/>
<ellipse cx="184.0" cy="247.8" rx="1.9" ry="1.4" fill="#6250bc" filter="url(#b1)" opacity="0.7"/>
<path d="M169.2,242.5 C169.2,243.5 169.4,244.6 169.0,245.4 C168.5,246.1 167.5,246.6 166.6,247.1 C165.7,247.6 164.6,248.2 163.7,248.2 C162.8,248.1 161.7,247.2 161.0,246.5 C160.3,245.8 159.8,244.9 159.5,244.0 C159.2,243.0 158.7,241.7 159.0,240.9 C159.3,240.0 160.5,239.4 161.3,238.8 C162.1,238.1 162.8,237.1 163.7,236.9 C164.6,236.8 165.7,237.4 166.6,237.9 C167.5,238.3 168.6,238.8 169.1,239.6 C169.5,240.3 169.2,241.5 169.2,242.5 Z" fill="#6a5cc4" stroke="#b4aee0" stroke-width="0.7" filter="url(#b05)"/>
<path d="M168.7,242.8 C168.7,243.6 167.8,244.4 167.2,245.0 C166.7,245.6 166.1,246.5 165.5,246.7 C164.8,246.9 163.8,246.6 163.1,246.3 C162.4,246.0 161.8,245.4 161.4,244.9 C160.9,244.3 160.6,243.6 160.5,242.8 C160.4,242.0 160.4,240.9 160.8,240.3 C161.2,239.7 162.3,239.5 163.0,239.2 C163.8,239.0 164.7,238.6 165.5,238.8 C166.3,238.9 167.1,239.6 167.7,240.3 C168.2,240.9 168.8,242.0 168.7,242.8 Z" fill="#4838aa" filter="url(#b1)"/>
<ellipse cx="163.2" cy="241.5" rx="1.6" ry="1.1" fill="#6250bc" filter="url(#b1)" opacity="0.7"/>
<path d="M193.0,233.7 C193.1,234.6 192.8,235.8 192.3,236.6 C191.7,237.3 190.7,237.7 189.9,238.2 C189.0,238.7 187.9,239.4 187.0,239.4 C186.0,239.3 185.0,238.5 184.2,237.8 C183.5,237.2 182.7,236.2 182.5,235.3 C182.3,234.3 182.6,233.2 182.9,232.3 C183.1,231.3 183.4,230.1 184.1,229.5 C184.8,228.8 186.0,228.4 187.0,228.3 C188.0,228.2 189.2,228.4 190.0,228.9 C190.8,229.4 191.3,230.4 191.8,231.2 C192.3,232.0 192.9,232.8 193.0,233.7 Z" fill="#6a5cc4" stroke="#b4aee0" stroke-width="0.7" filter="url(#b05)"/>
<path d="M191.6,234.0 C191.7,234.8 191.5,236.0 191.0,236.6 C190.5,237.2 189.5,237.3 188.7,237.6 C187.9,237.9 186.9,238.4 186.1,238.3 C185.3,238.1 184.4,237.4 183.9,236.6 C183.3,235.9 182.9,234.9 182.9,234.0 C183.0,233.1 183.5,232.1 184.1,231.5 C184.7,230.9 185.5,230.6 186.3,230.3 C187.1,230.0 188.2,229.5 188.9,229.8 C189.5,230.1 190.0,231.2 190.4,231.9 C190.9,232.6 191.5,233.2 191.6,234.0 Z" fill="#4838aa" filter="url(#b1)"/>
<ellipse cx="186.5" cy="232.7" rx="1.6" ry="1.1" fill="#6250bc" filter="url(#b1)" opacity="0.7"/>
<path d="M202.4,231.4 C202.3,232.5 202.0,233.6 201.5,234.6 C201.0,235.5 200.2,236.7 199.2,237.2 C198.3,237.6 197.0,237.3 195.8,237.2 C194.5,237.2 192.7,237.5 191.9,236.8 C191.2,236.1 191.3,234.2 191.1,233.0 C190.8,231.8 190.1,230.6 190.3,229.6 C190.6,228.5 191.6,227.5 192.5,226.7 C193.4,225.8 194.5,224.6 195.6,224.4 C196.7,224.3 198.0,225.4 199.1,226.0 C200.1,226.6 201.3,227.1 201.8,228.0 C202.4,228.9 202.4,230.3 202.4,231.4 Z" fill="#6a5cc4" stroke="#b4aee0" stroke-width="0.7" filter="url(#b05)"/>
<path d="M201.4,231.7 C201.3,232.7 200.7,233.6 200.1,234.5 C199.6,235.3 198.9,236.4 198.0,236.8 C197.0,237.2 195.6,237.3 194.6,236.9 C193.6,236.6 192.5,235.7 192.0,234.8 C191.6,233.9 191.8,232.7 191.9,231.7 C192.0,230.7 192.0,229.7 192.5,228.9 C193.0,228.2 193.9,227.6 194.8,227.1 C195.7,226.7 197.1,226.0 198.1,226.2 C199.0,226.5 200.0,227.7 200.6,228.6 C201.1,229.5 201.5,230.7 201.4,231.7 Z" fill="#4838aa" filter="url(#b1)"/>
<ellipse cx="195.0" cy="230.1" rx="1.9" ry="1.4" fill="#6250bc" filter="url(#b1)" opacity="0.7"/>
<path d="M217.1,228.1 C217.2,229.2 216.2,230.7 215.4,231.6 C214.6,232.6 213.5,232.9 212.4,233.5 C211.3,234.1 210.0,235.3 208.9,235.2 C207.8,235.1 206.7,233.8 205.7,232.9 C204.8,232.0 203.5,231.1 203.2,230.1 C203.0,229.0 203.9,227.6 204.4,226.5 C204.8,225.4 205.2,224.5 206.0,223.6 C206.7,222.7 207.7,221.3 208.9,221.0 C210.0,220.6 211.8,221.1 212.8,221.7 C213.8,222.4 214.0,223.9 214.7,225.0 C215.5,226.1 217.0,227.0 217.1,228.1 Z" fill="#6a5cc4" stroke="#b4aee0" stroke-width="0.7" filter="url(#b05)"/>
<path d="M214.4,228.4 C214.5,229.4 214.6,230.9 214.0,231.6 C213.4,232.3 212.0,232.4 211.0,232.7 C210.0,232.9 209.0,233.2 208.1,232.9 C207.2,232.7 206.3,232.0 205.6,231.3 C204.9,230.5 204.0,229.4 204.0,228.4 C204.0,227.4 205.0,226.4 205.7,225.6 C206.3,224.7 207.1,223.7 208.0,223.5 C208.9,223.2 210.1,223.8 211.0,224.1 C211.9,224.5 212.8,225.0 213.3,225.7 C213.9,226.4 214.3,227.4 214.4,228.4 Z" fill="#4838aa" filter="url(#b1)"/>
<ellipse cx="208.3" cy="226.8" rx="1.9" ry="1.4" fill="#6250bc" filter="url(#b1)" opacity="0.7"/>
<path d="M218.6,221.5 C218.6,222.1 217.8,222.8 217.4,223.5 C216.9,224.1 216.6,225.0 216.0,225.3 C215.4,225.6 214.5,225.3 213.8,225.2 C213.0,225.1 212.1,225.0 211.6,224.6 C211.1,224.2 210.9,223.3 210.7,222.6 C210.5,221.9 210.3,221.1 210.5,220.4 C210.6,219.7 211.1,218.9 211.7,218.5 C212.2,218.1 213.1,218.2 213.8,218.1 C214.5,218.0 215.4,217.5 216.0,217.8 C216.6,218.0 216.9,218.9 217.3,219.6 C217.7,220.2 218.6,220.9 218.6,221.5 Z" fill="#6a5cc4" stroke="#b4aee0" stroke-width="0.7" filter="url(#b05)"/>
<path d="M217.0,221.8 C216.9,222.4 216.7,223.0 216.4,223.5 C216.1,224.1 215.6,224.8 215.0,225.0 C214.5,225.3 213.5,225.3 213.0,225.0 C212.4,224.8 212.1,224.0 211.7,223.5 C211.3,223.0 210.7,222.4 210.7,221.8 C210.6,221.2 210.8,220.3 211.2,219.8 C211.6,219.3 212.4,218.7 213.0,218.6 C213.6,218.6 214.2,219.1 214.8,219.3 C215.4,219.5 216.4,219.4 216.8,219.8 C217.1,220.2 217.0,221.2 217.0,221.8 Z" fill="#4838aa" filter="url(#b1)"/>
<ellipse cx="213.3" cy="220.7" rx="1.2" ry="0.9" fill="#6250bc" filter="url(#b1)" opacity="0.7"/>
<path d="M217.2,212.6 C217.1,213.3 216.9,214.2 216.5,214.7 C216.1,215.3 215.5,215.8 214.8,216.1 C214.1,216.4 213.3,216.7 212.6,216.6 C211.9,216.5 211.2,216.0 210.7,215.5 C210.1,215.0 209.6,214.3 209.5,213.7 C209.3,213.0 209.5,212.2 209.8,211.6 C210.0,211.0 210.4,210.4 210.9,209.9 C211.4,209.4 212.0,208.7 212.6,208.6 C213.3,208.5 214.0,209.1 214.7,209.4 C215.3,209.7 216.2,209.9 216.6,210.4 C217.0,210.9 217.2,211.9 217.2,212.6 Z" fill="#6a5cc4" stroke="#b4aee0" stroke-width="0.7" filter="url(#b05)"/>
<path d="M215.9,212.9 C215.9,213.5 215.7,214.2 215.3,214.7 C215.0,215.2 214.5,215.8 213.9,216.0 C213.3,216.2 212.4,216.3 211.9,216.0 C211.3,215.8 210.9,215.1 210.6,214.6 C210.2,214.1 209.9,213.5 209.8,212.9 C209.8,212.3 210.0,211.6 210.4,211.1 C210.7,210.5 211.3,210.1 211.9,209.8 C212.5,209.6 213.4,209.5 214.0,209.6 C214.6,209.8 215.2,210.5 215.5,211.0 C215.9,211.5 216.0,212.3 215.9,212.9 Z" fill="#4838aa" filter="url(#b1)"/>
<ellipse cx="212.2" cy="211.8" rx="1.2" ry="0.9" fill="#6250bc" filter="url(#b1)" opacity="0.7"/>
<path d="M238.8,229.2 C238.9,230.6 239.4,232.4 238.8,233.6 C238.2,234.8 236.6,236.0 235.3,236.4 C234.0,236.8 232.3,236.4 231.0,236.0 C229.7,235.7 228.8,235.0 227.6,234.3 C226.3,233.6 224.1,232.9 223.6,231.7 C223.1,230.5 224.1,228.4 224.7,227.1 C225.3,225.7 226.2,224.6 227.2,223.6 C228.2,222.7 229.4,221.5 230.8,221.1 C232.2,220.7 234.4,220.6 235.6,221.3 C236.9,221.9 237.7,223.9 238.2,225.2 C238.7,226.5 238.7,227.8 238.8,229.2 Z" fill="#7a6cc6" filter="url(#b1)"/>
<path d="M236.7,229.5 C236.7,230.5 235.9,231.5 235.2,232.5 C234.5,233.5 233.7,235.0 232.6,235.3 C231.5,235.6 229.7,235.2 228.7,234.5 C227.7,233.8 226.8,232.5 226.4,231.4 C226.0,230.2 225.8,228.5 226.3,227.6 C226.8,226.6 228.3,226.3 229.4,225.7 C230.4,225.1 231.6,223.9 232.6,224.0 C233.5,224.2 234.4,225.7 235.1,226.6 C235.8,227.5 236.7,228.5 236.7,229.5 Z" fill="#3f2c9c" filter="url(#b1)"/>
<path d="M250.6,227.0 C250.5,228.0 249.4,229.0 248.8,229.9 C248.1,230.8 247.5,231.9 246.6,232.3 C245.7,232.7 244.4,232.5 243.4,232.2 C242.5,232.0 241.6,231.5 240.8,230.9 C240.1,230.3 239.5,229.4 239.1,228.5 C238.7,227.6 238.2,226.3 238.5,225.3 C238.7,224.4 239.8,223.6 240.6,222.9 C241.5,222.2 242.3,221.3 243.3,221.0 C244.4,220.8 245.8,221.0 246.7,221.5 C247.7,221.9 248.5,222.9 249.1,223.8 C249.8,224.8 250.7,226.0 250.6,227.0 Z" fill="#6a5cc4" stroke="#b4aee0" stroke-width="0.7" filter="url(#b05)"/>
<path d="M248.6,227.3 C248.6,228.2 248.2,229.3 247.7,230.0 C247.1,230.8 246.2,231.4 245.3,231.7 C244.5,231.9 243.4,231.8 242.5,231.6 C241.6,231.3 240.4,230.9 239.9,230.2 C239.5,229.5 239.8,228.2 239.9,227.3 C240.0,226.4 240.0,225.5 240.5,224.8 C240.9,224.1 241.7,223.1 242.5,222.9 C243.3,222.7 244.3,223.2 245.2,223.4 C246.0,223.7 247.1,223.9 247.7,224.5 C248.3,225.2 248.6,226.4 248.6,227.3 Z" fill="#4838aa" filter="url(#b1)"/>
<ellipse cx="242.8" cy="225.8" rx="1.7" ry="1.3" fill="#6250bc" filter="url(#b1)" opacity="0.7"/>
<path d="M231.0,221.5 C231.0,222.1 230.9,222.9 230.6,223.4 C230.2,223.9 229.5,224.1 228.9,224.3 C228.3,224.6 227.7,225.1 227.1,225.1 C226.5,225.1 225.7,224.7 225.2,224.2 C224.7,223.8 224.2,223.1 224.1,222.5 C223.9,221.9 224.1,221.1 224.3,220.5 C224.6,220.0 225.1,219.5 225.5,219.1 C226.0,218.7 226.5,218.0 227.1,218.0 C227.6,217.9 228.3,218.5 228.8,218.8 C229.4,219.1 230.1,219.2 230.4,219.7 C230.8,220.1 230.9,220.9 231.0,221.5 Z" fill="#6a5cc4" stroke="#b4aee0" stroke-width="0.7" filter="url(#b05)"/>
<path d="M229.9,221.8 C229.9,222.3 229.7,222.9 229.4,223.3 C229.1,223.7 228.6,224.0 228.1,224.2 C227.6,224.4 226.9,224.6 226.4,224.4 C226.0,224.3 225.5,223.7 225.3,223.3 C225.0,222.8 225.0,222.3 225.0,221.8 C225.0,221.3 224.9,220.6 225.1,220.2 C225.4,219.9 226.1,219.9 226.6,219.7 C227.1,219.5 227.7,218.9 228.2,219.0 C228.7,219.1 229.2,219.7 229.5,220.2 C229.8,220.7 229.9,221.3 229.9,221.8 Z" fill="#4838aa" filter="url(#b1)"/>
<ellipse cx="226.8" cy="220.8" rx="1.0" ry="0.7" fill="#6250bc" filter="url(#b1)" opacity="0.7"/>
<path d="M256.4,260.2 C256.2,262.3 254.9,264.3 253.8,266.2 C252.7,268.1 251.6,270.5 249.7,271.7 C247.9,272.8 244.9,273.2 242.7,272.9 C240.5,272.5 237.8,271.1 236.5,269.5 C235.1,267.9 235.1,265.1 234.7,263.1 C234.3,261.0 233.6,259.0 234.0,257.1 C234.4,255.2 235.7,253.4 237.1,251.7 C238.6,250.0 240.5,247.4 242.6,247.0 C244.7,246.5 247.6,247.9 249.6,249.0 C251.6,250.1 253.4,251.9 254.5,253.8 C255.6,255.6 256.5,258.1 256.4,260.2 Z" fill="#7a6cc6" filter="url(#b1)"/>
<path d="M250.9,260.5 C250.7,262.3 250.8,263.9 249.9,265.4 C249.0,266.8 247.2,269.1 245.7,269.3 C244.1,269.5 241.9,267.7 240.5,266.7 C239.1,265.7 237.9,264.6 237.1,263.0 C236.4,261.5 235.6,259.3 236.1,257.6 C236.5,255.9 238.2,253.7 239.7,252.9 C241.3,252.1 243.6,252.5 245.5,252.8 C247.3,253.1 250.0,253.5 250.9,254.8 C251.8,256.1 251.1,258.7 250.9,260.5 Z" fill="#3f2c9c" filter="url(#b1)"/>
<path d="M147.1,268.0 C147.1,268.7 147.2,269.7 146.9,270.2 C146.5,270.7 145.6,270.9 144.9,271.1 C144.3,271.3 143.6,271.6 143.0,271.5 C142.4,271.5 141.7,271.2 141.1,270.8 C140.5,270.4 139.7,269.8 139.5,269.2 C139.4,268.5 139.8,267.7 140.0,267.0 C140.2,266.3 140.5,265.5 141.0,265.1 C141.5,264.7 142.4,264.7 143.0,264.6 C143.7,264.6 144.3,264.6 144.9,264.8 C145.6,265.0 146.5,265.3 146.8,265.9 C147.2,266.4 147.1,267.3 147.1,268.0 Z" fill="#6a5cc4" stroke="#b4aee0" stroke-width="0.7" filter="url(#b05)"/>
<path d="M145.9,268.3 C145.9,268.9 145.8,269.5 145.5,270.0 C145.3,270.5 144.7,271.1 144.2,271.3 C143.6,271.4 143.0,271.0 142.4,270.9 C141.8,270.7 140.9,270.6 140.6,270.2 C140.3,269.8 140.4,268.9 140.5,268.3 C140.5,267.7 140.7,267.2 141.1,266.7 C141.4,266.3 141.8,265.7 142.3,265.5 C142.8,265.4 143.5,265.5 144.1,265.6 C144.6,265.8 145.4,266.0 145.7,266.5 C146.0,266.9 145.9,267.7 145.9,268.3 Z" fill="#4838aa" filter="url(#b1)"/>
<ellipse cx="142.6" cy="267.2" rx="1.1" ry="0.8" fill="#6250bc" filter="url(#b1)" opacity="0.7"/>
<path d="M178.8,281.2 C178.9,282.5 178.3,284.0 177.6,285.3 C176.9,286.6 176.0,288.2 174.7,289.0 C173.5,289.7 171.4,290.0 170.0,289.6 C168.6,289.3 167.5,287.8 166.3,286.8 C165.2,285.8 163.7,284.9 163.1,283.6 C162.5,282.2 162.5,280.2 162.9,278.8 C163.3,277.3 164.5,275.6 165.7,274.8 C166.9,274.1 168.7,274.6 170.2,274.4 C171.7,274.1 173.6,272.8 174.8,273.3 C176.0,273.8 176.7,275.9 177.4,277.2 C178.0,278.5 178.8,279.9 178.8,281.2 Z" fill="#6a5cc4" stroke="#b4aee0" stroke-width="0.7" filter="url(#b05)"/>
<path d="M176.1,281.5 C176.1,282.8 176.6,284.3 176.1,285.3 C175.5,286.2 174.0,286.9 172.8,287.3 C171.6,287.8 170.1,288.2 168.8,287.9 C167.6,287.6 166.1,286.6 165.4,285.5 C164.7,284.4 164.5,282.8 164.6,281.5 C164.6,280.2 164.9,278.7 165.6,277.7 C166.4,276.7 167.8,276.0 169.0,275.6 C170.2,275.3 171.6,275.4 172.8,275.7 C174.0,276.0 175.8,276.6 176.3,277.5 C176.9,278.5 176.2,280.2 176.1,281.5 Z" fill="#4838aa" filter="url(#b1)"/>
<ellipse cx="169.3" cy="279.6" rx="2.3" ry="1.7" fill="#6250bc" filter="url(#b1)" opacity="0.7"/>
<path d="M181.2,291.2 C181.1,292.7 180.6,294.1 179.9,295.4 C179.2,296.6 178.1,298.1 176.8,298.7 C175.6,299.4 173.6,299.8 172.2,299.5 C170.8,299.2 169.6,297.9 168.5,296.9 C167.4,295.8 166.3,294.7 165.8,293.4 C165.4,292.1 165.3,290.3 165.7,288.9 C166.1,287.5 167.0,286.1 168.0,285.0 C169.1,284.0 170.7,282.9 172.2,282.7 C173.6,282.4 175.4,283.0 176.8,283.7 C178.2,284.4 179.8,285.4 180.5,286.6 C181.3,287.9 181.3,289.7 181.2,291.2 Z" fill="#6a5cc4" stroke="#b4aee0" stroke-width="0.7" filter="url(#b05)"/>
<path d="M179.6,291.5 C179.5,292.7 178.3,293.8 177.5,294.7 C176.7,295.6 175.9,296.5 174.9,296.9 C173.8,297.3 172.2,297.7 171.2,297.3 C170.2,296.9 169.6,295.6 168.8,294.6 C168.0,293.7 166.6,292.5 166.6,291.5 C166.7,290.5 168.1,289.3 168.9,288.4 C169.6,287.5 170.3,286.7 171.4,286.2 C172.4,285.7 173.9,285.2 175.1,285.4 C176.3,285.6 177.7,286.6 178.5,287.6 C179.2,288.6 179.8,290.3 179.6,291.5 Z" fill="#4838aa" filter="url(#b1)"/>
<ellipse cx="171.5" cy="289.6" rx="2.3" ry="1.7" fill="#6250bc" filter="url(#b1)" opacity="0.7"/>
<path d="M195.6,283.4 C195.5,284.8 194.6,286.0 193.9,287.3 C193.2,288.6 192.6,290.5 191.4,291.3 C190.2,292.1 188.1,292.1 186.6,291.9 C185.1,291.6 183.5,290.6 182.4,289.6 C181.3,288.6 179.9,287.1 179.7,285.8 C179.5,284.4 180.7,282.9 181.2,281.5 C181.6,280.0 181.4,278.0 182.4,277.1 C183.3,276.3 185.4,276.5 186.8,276.4 C188.2,276.3 189.7,276.0 190.9,276.5 C192.2,277.0 193.6,278.1 194.3,279.2 C195.1,280.3 195.6,282.0 195.6,283.4 Z" fill="#6a5cc4" stroke="#b4aee0" stroke-width="0.7" filter="url(#b05)"/>
<path d="M193.6,283.7 C193.4,284.9 192.4,285.8 191.8,286.8 C191.1,287.8 190.5,289.6 189.5,289.9 C188.5,290.3 187.0,289.4 185.8,289.0 C184.6,288.5 182.9,288.3 182.3,287.5 C181.7,286.6 182.2,284.9 182.3,283.7 C182.4,282.5 182.4,281.3 182.9,280.4 C183.5,279.4 184.5,278.3 185.6,277.8 C186.7,277.4 188.2,277.3 189.5,277.6 C190.7,277.9 192.3,278.7 193.0,279.7 C193.7,280.7 193.8,282.5 193.6,283.7 Z" fill="#4838aa" filter="url(#b1)"/>
<ellipse cx="185.9" cy="281.8" rx="2.3" ry="1.7" fill="#6250bc" filter="url(#b1)" opacity="0.7"/>
<path d="M200.4,276.8 C200.5,277.6 200.1,278.7 199.6,279.4 C199.1,280.2 198.3,280.8 197.5,281.2 C196.7,281.5 195.7,281.5 194.8,281.5 C193.9,281.4 192.7,281.2 192.2,280.6 C191.6,280.1 191.5,278.9 191.4,278.0 C191.2,277.2 191.0,276.3 191.2,275.5 C191.4,274.7 191.7,273.7 192.3,273.2 C193.0,272.6 194.0,272.6 194.9,272.5 C195.7,272.4 196.8,272.1 197.5,272.4 C198.3,272.7 198.9,273.6 199.3,274.3 C199.8,275.1 200.4,276.0 200.4,276.8 Z" fill="#6a5cc4" stroke="#b4aee0" stroke-width="0.7" filter="url(#b05)"/>
<path d="M199.0,277.1 C199.0,277.8 198.8,278.8 198.3,279.4 C197.9,280.0 197.0,280.4 196.3,280.6 C195.6,280.8 194.7,280.8 194.1,280.6 C193.4,280.4 192.8,279.8 192.4,279.2 C191.9,278.6 191.2,277.8 191.2,277.1 C191.2,276.4 191.9,275.6 192.4,275.1 C192.9,274.6 193.6,274.2 194.2,274.0 C194.8,273.8 195.6,273.8 196.2,273.9 C196.9,274.1 197.8,274.4 198.2,274.9 C198.7,275.4 198.9,276.4 199.0,277.1 Z" fill="#4838aa" filter="url(#b1)"/>
<ellipse cx="194.3" cy="275.9" rx="1.4" ry="1.0" fill="#6250bc" filter="url(#b1)" opacity="0.7"/>
<path d="M207.4,290.0 C207.6,291.3 206.9,292.9 206.2,294.0 C205.5,295.1 204.2,295.9 203.0,296.5 C201.8,297.2 200.2,297.9 198.9,297.7 C197.6,297.5 196.2,296.4 195.3,295.4 C194.4,294.5 194.0,293.1 193.6,291.9 C193.2,290.6 192.4,289.0 192.7,287.9 C193.1,286.7 194.7,286.1 195.7,285.1 C196.7,284.1 197.6,282.2 198.8,281.9 C200.1,281.6 202.1,282.3 203.2,283.0 C204.3,283.8 204.8,285.3 205.5,286.5 C206.2,287.6 207.3,288.7 207.4,290.0 Z" fill="#6a5cc4" stroke="#b4aee0" stroke-width="0.7" filter="url(#b05)"/>
<path d="M206.1,290.3 C206.1,291.5 205.6,293.2 204.8,294.0 C204.0,294.8 202.4,294.8 201.2,295.0 C200.1,295.3 199.0,295.6 198.1,295.3 C197.1,295.0 196.2,294.2 195.4,293.4 C194.7,292.6 193.7,291.4 193.6,290.3 C193.6,289.2 194.4,287.9 195.1,287.0 C195.8,286.0 196.8,285.2 197.9,284.8 C199.0,284.4 200.5,284.1 201.6,284.5 C202.7,284.8 203.7,285.9 204.4,286.9 C205.2,287.8 206.0,289.1 206.1,290.3 Z" fill="#4838aa" filter="url(#b1)"/>
<ellipse cx="198.2" cy="288.5" rx="2.2" ry="1.6" fill="#6250bc" filter="url(#b1)" opacity="0.7"/>
<path d="M217.9,290.0 C217.9,291.2 217.9,292.3 217.4,293.4 C217.0,294.5 216.1,296.2 215.1,296.6 C214.1,297.0 212.4,296.3 211.2,296.0 C210.1,295.7 209.0,295.4 208.0,294.7 C207.0,294.1 205.8,293.1 205.4,292.0 C204.9,290.8 204.9,289.1 205.3,288.0 C205.7,286.8 206.9,285.9 207.8,285.1 C208.8,284.2 209.9,283.1 211.1,282.9 C212.3,282.6 213.9,283.0 215.0,283.6 C216.1,284.2 217.1,285.4 217.6,286.5 C218.1,287.5 217.9,288.8 217.9,290.0 Z" fill="#6a5cc4" stroke="#b4aee0" stroke-width="0.7" filter="url(#b05)"/>
<path d="M216.8,290.3 C216.9,291.2 216.4,292.3 215.8,293.2 C215.3,294.1 214.5,295.4 213.6,295.7 C212.6,296.1 211.2,295.8 210.1,295.4 C209.1,295.1 207.8,294.4 207.3,293.5 C206.9,292.7 207.2,291.3 207.3,290.3 C207.4,289.3 207.3,288.2 207.8,287.4 C208.3,286.6 209.3,285.7 210.2,285.4 C211.1,285.1 212.5,285.2 213.3,285.5 C214.2,285.9 214.9,286.8 215.5,287.6 C216.0,288.4 216.7,289.4 216.8,290.3 Z" fill="#4838aa" filter="url(#b1)"/>
<ellipse cx="210.5" cy="288.7" rx="1.9" ry="1.4" fill="#6250bc" filter="url(#b1)" opacity="0.7"/>
<path d="M208.2,301.1 C208.1,302.6 208.1,304.0 207.5,305.3 C206.8,306.5 205.6,308.0 204.4,308.5 C203.1,309.0 201.5,308.4 200.0,308.3 C198.5,308.1 196.5,308.3 195.5,307.5 C194.5,306.6 194.2,304.6 194.0,303.2 C193.8,301.8 193.8,300.4 194.2,299.1 C194.5,297.8 195.0,296.2 196.0,295.3 C196.9,294.4 198.5,294.0 199.9,293.7 C201.3,293.4 203.0,293.2 204.4,293.6 C205.8,294.1 207.6,295.2 208.2,296.4 C208.9,297.7 208.3,299.6 208.2,301.1 Z" fill="#6a5cc4" stroke="#b4aee0" stroke-width="0.7" filter="url(#b05)"/>
<path d="M207.4,301.4 C207.4,302.7 206.8,304.2 206.0,305.3 C205.3,306.4 204.0,307.7 202.8,307.8 C201.6,308.0 200.1,306.9 199.1,306.4 C198.0,305.8 197.1,305.3 196.4,304.5 C195.7,303.7 195.1,302.6 194.9,301.4 C194.8,300.2 194.7,298.5 195.4,297.5 C196.0,296.5 197.5,295.8 198.7,295.3 C200.0,294.9 201.6,294.6 202.8,294.9 C204.0,295.3 205.4,296.4 206.2,297.4 C206.9,298.5 207.4,300.1 207.4,301.4 Z" fill="#4838aa" filter="url(#b1)"/>
<ellipse cx="199.1" cy="299.5" rx="2.3" ry="1.7" fill="#6250bc" filter="url(#b1)" opacity="0.7"/>
<path d="M145.5,310.0 C145.4,310.9 145.8,311.9 145.5,312.7 C145.1,313.4 144.1,313.9 143.3,314.3 C142.5,314.7 141.5,315.2 140.6,315.1 C139.7,315.0 138.5,314.6 137.9,313.9 C137.2,313.3 136.8,312.3 136.6,311.4 C136.4,310.5 136.2,309.4 136.5,308.6 C136.8,307.8 137.5,306.9 138.2,306.4 C138.9,305.8 139.7,305.5 140.6,305.3 C141.5,305.1 142.6,305.0 143.4,305.3 C144.3,305.6 145.2,306.5 145.5,307.3 C145.9,308.1 145.5,309.1 145.5,310.0 Z" fill="#6a5cc4" stroke="#b4aee0" stroke-width="0.7" filter="url(#b05)"/>
<path d="M144.3,310.3 C144.3,311.0 144.4,311.9 144.1,312.5 C143.7,313.2 142.9,313.9 142.2,314.1 C141.5,314.2 140.7,313.6 140.0,313.4 C139.3,313.1 138.5,313.0 138.0,312.5 C137.5,312.0 136.9,311.0 136.9,310.3 C136.9,309.6 137.6,308.7 138.1,308.2 C138.7,307.7 139.3,307.6 140.0,307.3 C140.7,306.9 141.6,306.2 142.3,306.3 C142.9,306.5 143.6,307.5 143.9,308.2 C144.2,308.8 144.3,309.6 144.3,310.3 Z" fill="#4838aa" filter="url(#b1)"/>
<ellipse cx="140.1" cy="309.1" rx="1.4" ry="1.0" fill="#6250bc" filter="url(#b1)" opacity="0.7"/>
<path d="M166.7,294.5 C166.4,296.6 164.7,298.5 163.5,300.3 C162.3,302.0 161.1,303.7 159.5,304.9 C157.8,306.0 155.4,307.2 153.5,307.1 C151.6,307.0 149.7,305.4 147.8,304.4 C145.9,303.4 143.1,302.7 142.2,301.0 C141.2,299.4 142.0,296.6 142.2,294.5 C142.4,292.4 142.5,290.5 143.3,288.6 C144.1,286.7 145.3,284.4 147.0,283.2 C148.7,281.9 151.4,281.0 153.5,281.1 C155.6,281.2 157.6,282.8 159.6,283.9 C161.6,285.0 164.2,285.9 165.4,287.6 C166.6,289.4 167.0,292.4 166.7,294.5 Z" fill="#b4acd8" filter="url(#b1)"/>
<path d="M163.1,294.5 C163.1,296.4 163.7,298.4 163.1,300.0 C162.4,301.7 160.8,303.6 159.2,304.3 C157.6,305.1 155.3,304.5 153.5,304.4 C151.7,304.3 149.9,304.3 148.3,303.6 C146.6,302.9 144.3,301.8 143.6,300.2 C142.8,298.7 143.7,296.4 143.7,294.5 C143.7,292.6 143.0,290.4 143.7,288.8 C144.4,287.2 146.3,285.8 147.9,284.8 C149.6,283.9 151.8,282.7 153.5,282.9 C155.2,283.2 156.6,285.2 158.3,286.2 C160.0,287.2 162.6,287.4 163.4,288.8 C164.2,290.2 163.2,292.6 163.1,294.5 Z" fill="#8c80cc" filter="url(#b1)"/>
<path d="M159.6,294.9 C159.4,296.2 158.3,297.3 157.5,298.5 C156.6,299.6 155.6,301.6 154.4,301.8 C153.2,302.1 151.3,301.0 150.1,300.2 C149.0,299.4 147.9,298.2 147.4,297.0 C146.9,295.7 146.7,294.0 147.1,292.7 C147.5,291.4 148.7,289.9 149.9,289.1 C151.1,288.4 152.9,288.0 154.4,288.2 C155.8,288.4 157.6,289.4 158.5,290.5 C159.3,291.6 159.8,293.6 159.6,294.9 Z" fill="#3a2896" filter="url(#b1)"/>
<circle cx="200" cy="222.6" r="2.4" fill="#c49ccc" filter="url(#b1)"/>
<circle cx="200.6" cy="222.2" r="0.84" fill="#6a3a80"/>
<circle cx="227.6" cy="240.3" r="3.3" fill="#c49ccc" filter="url(#b1)"/>
<circle cx="228.2" cy="239.9" r="1.15" fill="#6a3a80"/>
<circle cx="201" cy="259" r="2.8" fill="#c49ccc" filter="url(#b1)"/>
<circle cx="201.6" cy="258.6" r="0.98" fill="#6a3a80"/>
<circle cx="193.3" cy="299" r="2" fill="#c49ccc" filter="url(#b1)"/>
<circle cx="193.9" cy="298.6" r="0.70" fill="#6a3a80"/>
<circle cx="240" cy="236" r="2.2" fill="#c49ccc" filter="url(#b1)"/>
<circle cx="240.6" cy="235.6" r="0.77" fill="#6a3a80"/>
<circle cx="219" cy="236" r="1.5" fill="#c49ccc" filter="url(#b1)"/>
<circle cx="219.6" cy="235.6" r="0.52" fill="#6a3a80"/>
<circle cx="162.3" cy="248" r="1.3" fill="#1c1450"/>
<circle cx="186" cy="250" r="1.3" fill="#1c1450"/>
<circle cx="143" cy="266" r="1.3" fill="#1c1450"/>
<circle cx="147" cy="270" r="1.3" fill="#1c1450"/>
<circle cx="205" cy="301" r="1.3" fill="#1c1450"/>
<circle cx="230" cy="221" r="1.3" fill="#1c1450"/>
<circle cx="162" cy="244" r="2.2" fill="#221a62" filter="url(#b05)"/>
<circle cx="170" cy="241.5" r="2.0" fill="#221a62" filter="url(#b05)"/>
<circle cx="180.4" cy="252" r="2.4" fill="#221a62" filter="url(#b05)"/>
<circle cx="166" cy="231" r="1.8" fill="#221a62" filter="url(#b05)"/>
<circle cx="157" cy="226" r="1.6" fill="#221a62" filter="url(#b05)"/>
<circle cx="206.5" cy="296" r="1.8" fill="#221a62" filter="url(#b05)"/>
<circle cx="213" cy="294" r="1.5" fill="#221a62" filter="url(#b05)"/>
<circle cx="166.5" cy="225.3" r="1.6" fill="#e4e2f0" filter="url(#b05)"/>
<circle cx="167.7" cy="238" r="1.3" fill="#e4e2f0" filter="url(#b05)"/>
<circle cx="183.8" cy="254" r="1.2" fill="#e4e2f0" filter="url(#b05)"/>
<circle cx="204" cy="297" r="1.0" fill="#e4e2f0" filter="url(#b05)"/>
<circle cx="196" cy="283" r="0.9" fill="#e4e2f0" filter="url(#b05)"/>
</g>
<rect x="138.6" y="207.4" width="113.9" height="109.3" fill="none" stroke="#111" stroke-width="1.2"/>
<line x1="212.10" y1="305.60" x2="247.90" y2="305.60" stroke="#111" stroke-width="1.6"/>
<text x="329.30" y="184.60" font-size="7.6" text-anchor="middle" fill="#222" stroke="#222" stroke-width="0.15" textLength="15.60" lengthAdjust="spacingAndGlyphs">REG</text>
<text x="411.70" y="184.60" font-size="7.6" text-anchor="middle" fill="#222" stroke="#222" stroke-width="0.15" textLength="16.00" lengthAdjust="spacingAndGlyphs">DOX</text>
<text x="286.00" y="219.00" font-size="7.6" text-anchor="middle" fill="#222" stroke="#222" stroke-width="0.15" textLength="34.30" lengthAdjust="spacingAndGlyphs" transform="rotate(-90 286.00 219.00)">shRenilla</text>
<text x="286.00" y="284.70" font-size="7.6" text-anchor="middle" fill="#222" stroke="#222" stroke-width="0.15" textLength="18.00" lengthAdjust="spacingAndGlyphs" transform="rotate(-90 286.00 284.70)">sh170</text>
<g clip-path="url(#cE1)">
<rect x="290.30" y="189.30" width="78.00" height="61.60" fill="#1c1c1c"/>
<rect x="290.30" y="222.60" width="78.00" height="28.30" fill="#3c3c3c"/>
<path d="M300.5,218.8 Q297.9,235.9 295.2,250.0" stroke="#a8a8a8" stroke-width="1.0" fill="none" opacity="0.75"/>
<path d="M300.5,191.6 C301.2,191.6 302.1,191.6 302.7,192.1 C303.4,192.5 304.0,193.4 304.3,194.3 C304.7,195.2 304.9,196.6 305.0,197.6 C305.1,198.6 304.6,199.5 304.9,200.4 C305.1,201.2 306.0,201.5 306.3,202.8 C306.6,204.1 306.4,206.1 306.6,208.2 C306.7,210.3 307.1,213.1 307.1,215.2 C307.1,217.2 307.0,219.2 306.3,220.3 C305.6,221.4 304.2,221.5 302.9,221.8 C301.5,222.1 299.5,222.1 298.1,221.8 C296.8,221.5 295.4,221.4 294.7,220.3 C294.0,219.2 293.9,217.2 293.9,215.2 C293.9,213.1 294.3,210.3 294.4,208.2 C294.6,206.1 294.4,204.1 294.7,202.8 C295.0,201.5 295.9,201.2 296.1,200.4 C296.4,199.5 295.9,198.6 296.0,197.6 C296.1,196.6 296.3,195.2 296.7,194.3 C297.0,193.4 297.6,192.5 298.3,192.1 C298.9,191.6 299.8,191.6 300.5,191.6 Z" fill="#c6c6c6" filter="url(#b05)"/>
<ellipse cx="301.0" cy="205.0" rx="3.5" ry="9" fill="#dcdcdc" filter="url(#b05)"/>
<ellipse cx="296.0" cy="217.0" rx="2.5" ry="2" fill="#8888b8" filter="url(#b05)"/>
<ellipse cx="304.0" cy="197.0" rx="1.5" ry="1.5" fill="#909090" filter="url(#b05)"/>
<path d="M317.5,218.6 Q319.0,235.8 320.5,250.0" stroke="#a8a8a8" stroke-width="1.0" fill="none" opacity="0.75"/>
<path d="M313.0,190.9 C313.9,190.9 314.9,190.9 315.7,191.4 C316.5,191.9 317.2,192.8 317.6,193.8 C318.1,194.7 318.3,196.2 318.4,197.2 C318.5,198.3 318.0,199.2 318.2,200.1 C318.5,201.0 319.7,201.3 320.0,202.6 C320.3,204.0 320.2,206.2 320.3,208.3 C320.5,210.5 321.0,213.5 320.9,215.6 C320.9,217.7 320.8,219.9 320.0,221.0 C319.1,222.2 317.5,222.3 315.9,222.6 C314.2,222.9 311.8,222.9 310.1,222.6 C308.5,222.3 306.9,222.2 306.0,221.0 C305.2,219.9 305.1,217.7 305.1,215.6 C305.0,213.5 305.5,210.5 305.7,208.3 C305.8,206.2 305.7,204.0 306.0,202.6 C306.3,201.3 307.5,201.0 307.8,200.1 C308.0,199.2 307.5,198.3 307.6,197.2 C307.7,196.2 307.9,194.7 308.4,193.8 C308.8,192.8 309.5,191.9 310.3,191.4 C311.1,190.9 312.1,190.9 313.0,190.9 Z" fill="#3030c0" filter="url(#b1)"/>
<path d="M313.0,191.4 C313.9,191.4 314.8,191.4 315.6,191.9 C316.3,192.3 316.9,193.2 317.4,194.1 C317.8,195.0 318.0,196.4 318.1,197.4 C318.2,198.4 317.7,199.3 317.9,200.2 C318.2,201.0 319.3,201.3 319.6,202.6 C319.9,203.9 319.8,205.9 319.9,208.0 C320.0,210.1 320.6,212.9 320.5,215.0 C320.4,217.0 320.4,219.0 319.6,220.1 C318.8,221.2 317.2,221.3 315.7,221.6 C314.1,221.9 311.9,221.9 310.3,221.6 C308.8,221.3 307.2,221.2 306.4,220.1 C305.6,219.0 305.6,217.0 305.5,215.0 C305.4,212.9 306.0,210.1 306.1,208.0 C306.2,205.9 306.1,203.9 306.4,202.6 C306.7,201.3 307.8,201.0 308.1,200.2 C308.3,199.3 307.8,198.4 307.9,197.4 C308.0,196.4 308.2,195.0 308.6,194.1 C309.1,193.2 309.7,192.3 310.4,191.9 C311.2,191.4 312.1,191.4 313.0,191.4 Z" fill="#2a36ee" filter="url(#b05)"/>
<ellipse cx="313.0" cy="195.0" rx="3" ry="2.5" fill="#4a70f0" filter="url(#b05)"/>
<ellipse cx="316.3" cy="199.5" rx="3.60" ry="4.20" fill="#3ad8e8" filter="url(#b05)"/>
<ellipse cx="316.3" cy="199.5" rx="2.88" ry="3.36" fill="#5ae04a" filter="url(#b05)"/>
<ellipse cx="316.3" cy="199.5" rx="2.16" ry="2.52" fill="#f2e634" filter="url(#b05)"/>
<ellipse cx="315.0" cy="208.6" rx="5.4" ry="4.0" fill="#f2f2f4" filter="url(#b05)"/>
<ellipse cx="311.3" cy="215.5" rx="4.50" ry="4.00" fill="#3ad8e8" filter="url(#b05)"/>
<ellipse cx="311.3" cy="215.5" rx="3.60" ry="3.20" fill="#5ae04a" filter="url(#b05)"/>
<ellipse cx="311.3" cy="215.5" rx="2.70" ry="2.40" fill="#f2e634" filter="url(#b05)"/>
<ellipse cx="311.3" cy="215.5" rx="1.80" ry="1.60" fill="#f39a24" filter="url(#b05)"/>
<ellipse cx="311.3" cy="215.5" rx="0.90" ry="0.80" fill="#e0261c" filter="url(#b05)"/>
<ellipse cx="319.5" cy="215.5" rx="2.40" ry="2.60" fill="#3ad8e8" filter="url(#b05)"/>
<ellipse cx="319.5" cy="215.5" rx="1.92" ry="2.08" fill="#5ae04a" filter="url(#b05)"/>
<ellipse cx="319.5" cy="215.5" rx="1.44" ry="1.56" fill="#f2e634" filter="url(#b05)"/>
<ellipse cx="319.5" cy="215.5" rx="0.96" ry="1.04" fill="#f39a24" filter="url(#b05)"/>
<path d="M330.5,218.6 Q332.1,234.8 333.6,248.0" stroke="#a8a8a8" stroke-width="1.0" fill="none" opacity="0.75"/>
<path d="M328.0,190.9 C328.9,190.9 329.9,190.9 330.7,191.4 C331.5,191.9 332.2,192.8 332.6,193.8 C333.1,194.7 333.3,196.2 333.4,197.2 C333.5,198.3 333.0,199.2 333.2,200.1 C333.5,201.0 334.7,201.3 335.0,202.6 C335.3,204.0 335.2,206.2 335.3,208.3 C335.5,210.5 336.0,213.5 335.9,215.6 C335.9,217.7 335.8,219.9 335.0,221.0 C334.1,222.2 332.5,222.3 330.9,222.6 C329.2,222.9 326.8,222.9 325.1,222.6 C323.5,222.3 321.9,222.2 321.0,221.0 C320.2,219.9 320.1,217.7 320.1,215.6 C320.0,213.5 320.5,210.5 320.7,208.3 C320.8,206.2 320.7,204.0 321.0,202.6 C321.3,201.3 322.5,201.0 322.8,200.1 C323.0,199.2 322.5,198.3 322.6,197.2 C322.7,196.2 322.9,194.7 323.4,193.8 C323.8,192.8 324.5,191.9 325.3,191.4 C326.1,190.9 327.1,190.9 328.0,190.9 Z" fill="#3030c0" filter="url(#b1)"/>
<path d="M328.0,191.4 C328.9,191.4 329.8,191.4 330.6,191.9 C331.3,192.3 331.9,193.2 332.4,194.1 C332.8,195.0 333.0,196.4 333.1,197.4 C333.2,198.4 332.7,199.3 332.9,200.2 C333.2,201.0 334.3,201.3 334.6,202.6 C334.9,203.9 334.8,205.9 334.9,208.0 C335.0,210.1 335.6,212.9 335.5,215.0 C335.4,217.0 335.4,219.0 334.6,220.1 C333.8,221.2 332.2,221.3 330.7,221.6 C329.1,221.9 326.9,221.9 325.3,221.6 C323.8,221.3 322.2,221.2 321.4,220.1 C320.6,219.0 320.6,217.0 320.5,215.0 C320.4,212.9 321.0,210.1 321.1,208.0 C321.2,205.9 321.1,203.9 321.4,202.6 C321.7,201.3 322.8,201.0 323.1,200.2 C323.3,199.3 322.8,198.4 322.9,197.4 C323.0,196.4 323.2,195.0 323.6,194.1 C324.1,193.2 324.7,192.3 325.4,191.9 C326.2,191.4 327.1,191.4 328.0,191.4 Z" fill="#2a36ee" filter="url(#b05)"/>
<ellipse cx="328.2" cy="199.0" rx="4.40" ry="4.50" fill="#3ad8e8" filter="url(#b05)"/>
<ellipse cx="328.2" cy="199.0" rx="3.52" ry="3.60" fill="#5ae04a" filter="url(#b05)"/>
<ellipse cx="328.2" cy="199.0" rx="2.64" ry="2.70" fill="#f2e634" filter="url(#b05)"/>
<ellipse cx="328.2" cy="199.0" rx="1.76" ry="1.80" fill="#f39a24" filter="url(#b05)"/>
<ellipse cx="328.2" cy="199.0" rx="0.88" ry="0.90" fill="#e0261c" filter="url(#b05)"/>
<ellipse cx="330.5" cy="208.8" rx="5.0" ry="3.8" fill="#f2f2f4" filter="url(#b05)"/>
<ellipse cx="323.6" cy="214.5" rx="4.80" ry="4.00" fill="#3ad8e8" filter="url(#b05)"/>
<ellipse cx="323.6" cy="214.5" rx="3.84" ry="3.20" fill="#5ae04a" filter="url(#b05)"/>
<ellipse cx="323.6" cy="214.5" rx="2.88" ry="2.40" fill="#f2e634" filter="url(#b05)"/>
<ellipse cx="323.6" cy="214.5" rx="1.92" ry="1.60" fill="#f39a24" filter="url(#b05)"/>
<ellipse cx="323.6" cy="214.5" rx="0.96" ry="0.80" fill="#e0261c" filter="url(#b05)"/>
<ellipse cx="336.6" cy="215.0" rx="2.80" ry="3.20" fill="#3ad8e8" filter="url(#b05)"/>
<ellipse cx="336.6" cy="215.0" rx="2.24" ry="2.56" fill="#5ae04a" filter="url(#b05)"/>
<ellipse cx="336.6" cy="215.0" rx="1.68" ry="1.92" fill="#f2e634" filter="url(#b05)"/>
<ellipse cx="336.6" cy="215.0" rx="1.12" ry="1.28" fill="#f39a24" filter="url(#b05)"/>
<ellipse cx="336.6" cy="215.0" rx="0.56" ry="0.64" fill="#e0261c" filter="url(#b05)"/>
<path d="M342.8,218.8 Q344.0,235.9 345.2,250.0" stroke="#a8a8a8" stroke-width="1.0" fill="none" opacity="0.75"/>
<path d="M344.2,191.6 C345.0,191.6 345.9,191.6 346.5,192.1 C347.2,192.5 347.8,193.4 348.1,194.3 C348.5,195.2 348.7,196.6 348.8,197.6 C348.9,198.6 348.5,199.5 348.7,200.4 C348.9,201.2 349.9,201.5 350.2,202.8 C350.5,204.1 350.3,206.1 350.5,208.2 C350.6,210.3 351.0,213.1 351.0,215.2 C351.0,217.2 350.9,219.2 350.2,220.3 C349.5,221.4 348.1,221.5 346.6,221.8 C345.2,222.1 343.2,222.1 341.8,221.8 C340.3,221.5 338.9,221.4 338.2,220.3 C337.5,219.2 337.4,217.2 337.4,215.2 C337.4,213.1 337.8,210.3 337.9,208.2 C338.1,206.1 337.9,204.1 338.2,202.8 C338.5,201.5 339.5,201.2 339.7,200.4 C339.9,199.5 339.5,198.6 339.6,197.6 C339.7,196.6 339.9,195.2 340.3,194.3 C340.6,193.4 341.2,192.5 341.9,192.1 C342.5,191.6 343.4,191.6 344.2,191.6 Z" fill="#cacaca" filter="url(#b05)"/>
<ellipse cx="344.0" cy="205.0" rx="4" ry="9" fill="#e4e4e4" filter="url(#b05)"/>
<ellipse cx="341.0" cy="196.0" rx="1.5" ry="1.5" fill="#999" filter="url(#b05)"/>
<path d="M356.7,218.6 Q355.5,235.8 354.4,250.0" stroke="#a8a8a8" stroke-width="1.0" fill="none" opacity="0.75"/>
<path d="M358.0,190.9 C359.0,190.9 360.1,190.9 360.9,191.4 C361.7,191.9 362.4,192.8 362.9,193.8 C363.4,194.7 363.7,196.2 363.8,197.2 C363.9,198.3 363.3,199.2 363.6,200.1 C363.9,201.0 365.1,201.3 365.5,202.6 C365.8,204.0 365.6,206.2 365.8,208.3 C366.0,210.5 366.5,213.5 366.5,215.6 C366.4,217.7 366.4,219.9 365.5,221.0 C364.6,222.2 362.8,222.3 361.1,222.6 C359.3,222.9 356.7,222.9 354.9,222.6 C353.2,222.3 351.4,222.2 350.5,221.0 C349.6,219.9 349.6,217.7 349.5,215.6 C349.5,213.5 350.0,210.5 350.2,208.3 C350.4,206.2 350.2,204.0 350.5,202.6 C350.9,201.3 352.1,201.0 352.4,200.1 C352.7,199.2 352.1,198.3 352.2,197.2 C352.3,196.2 352.6,194.7 353.1,193.8 C353.6,192.8 354.3,191.9 355.1,191.4 C355.9,190.9 357.0,190.9 358.0,190.9 Z" fill="#3030c0" filter="url(#b1)"/>
<path d="M358.0,191.4 C358.9,191.4 359.9,191.4 360.7,191.9 C361.5,192.3 362.2,193.2 362.6,194.1 C363.1,195.0 363.3,196.4 363.4,197.4 C363.5,198.4 363.0,199.3 363.3,200.2 C363.5,201.0 364.7,201.3 365.0,202.6 C365.4,203.9 365.2,205.9 365.4,208.0 C365.5,210.1 366.1,212.9 366.0,215.0 C365.9,217.0 365.9,219.0 365.0,220.1 C364.2,221.2 362.5,221.3 360.9,221.6 C359.2,221.9 356.8,221.9 355.1,221.6 C353.5,221.3 351.8,221.2 351.0,220.1 C350.1,219.0 350.1,217.0 350.0,215.0 C349.9,212.9 350.5,210.1 350.6,208.0 C350.8,205.9 350.6,203.9 351.0,202.6 C351.3,201.3 352.5,201.0 352.7,200.2 C353.0,199.3 352.5,198.4 352.6,197.4 C352.7,196.4 352.9,195.0 353.4,194.1 C353.8,193.2 354.5,192.3 355.3,191.9 C356.1,191.4 357.1,191.4 358.0,191.4 Z" fill="#2a36ee" filter="url(#b05)"/>
<ellipse cx="357.0" cy="198.5" rx="4.40" ry="5.00" fill="#3ad8e8" filter="url(#b05)"/>
<ellipse cx="357.0" cy="198.5" rx="3.52" ry="4.00" fill="#5ae04a" filter="url(#b05)"/>
<ellipse cx="357.0" cy="198.5" rx="2.64" ry="3.00" fill="#f2e634" filter="url(#b05)"/>
<ellipse cx="356.3" cy="208.8" rx="5.2" ry="3.8" fill="#f2f2f4" filter="url(#b05)"/>
<ellipse cx="352.8" cy="215.2" rx="3.80" ry="4.50" fill="#3ad8e8" filter="url(#b05)"/>
<ellipse cx="352.8" cy="215.2" rx="3.04" ry="3.60" fill="#5ae04a" filter="url(#b05)"/>
<ellipse cx="352.8" cy="215.2" rx="2.28" ry="2.70" fill="#f2e634" filter="url(#b05)"/>
<ellipse cx="352.8" cy="215.2" rx="1.52" ry="1.80" fill="#f39a24" filter="url(#b05)"/>
<ellipse cx="352.8" cy="215.2" rx="0.76" ry="0.90" fill="#e0261c" filter="url(#b05)"/>
<ellipse cx="363.6" cy="217.0" rx="3.20" ry="3.60" fill="#3ad8e8" filter="url(#b05)"/>
<ellipse cx="363.6" cy="217.0" rx="2.56" ry="2.88" fill="#5ae04a" filter="url(#b05)"/>
<ellipse cx="363.6" cy="217.0" rx="1.92" ry="2.16" fill="#f2e634" filter="url(#b05)"/>
<ellipse cx="363.6" cy="217.0" rx="1.28" ry="1.44" fill="#f39a24" filter="url(#b05)"/>
<ellipse cx="363.6" cy="217.0" rx="0.64" ry="0.72" fill="#e0261c" filter="url(#b05)"/>
<ellipse cx="358.5" cy="218.0" rx="2.00" ry="2.00" fill="#3ad8e8" filter="url(#b05)"/>
<ellipse cx="358.5" cy="218.0" rx="1.60" ry="1.60" fill="#5ae04a" filter="url(#b05)"/>
<ellipse cx="358.5" cy="218.0" rx="1.20" ry="1.20" fill="#f2e634" filter="url(#b05)"/>
</g>
<rect x="290.3" y="189.3" width="78" height="61.6" fill="none" stroke="#000" stroke-width="0.8"/>
<g clip-path="url(#cE2)">
<rect x="372.60" y="189.30" width="78.20" height="61.60" fill="#1c1c1c"/>
<rect x="372.60" y="222.60" width="78.20" height="28.30" fill="#3c3c3c"/>
<path d="M382.5,218.5 Q382.1,235.2 381.8,249.0" stroke="#a8a8a8" stroke-width="1.0" fill="none" opacity="0.75"/>
<path d="M384.1,191.1 C385.0,191.1 386.0,191.1 386.7,191.6 C387.5,192.0 388.1,193.0 388.6,193.9 C389.0,194.9 389.3,196.3 389.4,197.4 C389.5,198.4 388.9,199.3 389.2,200.2 C389.5,201.1 390.6,201.4 390.9,202.7 C391.2,204.1 391.1,206.2 391.2,208.4 C391.4,210.5 391.9,213.5 391.8,215.6 C391.8,217.7 391.7,219.8 390.9,220.9 C390.1,222.1 388.5,222.2 386.9,222.5 C385.3,222.8 382.9,222.8 381.3,222.5 C379.7,222.2 378.1,222.1 377.3,220.9 C376.5,219.8 376.4,217.7 376.4,215.6 C376.3,213.5 376.8,210.5 377.0,208.4 C377.1,206.2 377.0,204.1 377.3,202.7 C377.6,201.4 378.7,201.1 379.0,200.2 C379.3,199.3 378.7,198.4 378.8,197.4 C378.9,196.3 379.2,194.9 379.6,193.9 C380.1,193.0 380.7,192.0 381.5,191.6 C382.2,191.1 383.2,191.1 384.1,191.1 Z" fill="#3028b8" filter="url(#b1)"/>
<path d="M384.1,191.6 C384.9,191.6 385.9,191.6 386.6,192.0 C387.3,192.5 387.9,193.4 388.3,194.3 C388.7,195.2 389.0,196.6 389.1,197.6 C389.2,198.6 388.7,199.4 388.9,200.3 C389.2,201.1 390.2,201.4 390.5,202.7 C390.8,204.0 390.7,206.0 390.8,208.0 C391.0,210.1 391.4,212.9 391.4,214.9 C391.4,216.9 391.3,218.9 390.5,220.0 C389.7,221.1 388.2,221.3 386.7,221.5 C385.2,221.7 383.0,221.7 381.5,221.5 C380.0,221.3 378.5,221.1 377.7,220.0 C376.9,218.9 376.8,216.9 376.8,214.9 C376.8,212.9 377.2,210.1 377.4,208.0 C377.5,206.0 377.4,204.0 377.7,202.7 C378.0,201.4 379.0,201.1 379.3,200.3 C379.5,199.4 379.0,198.6 379.1,197.6 C379.2,196.6 379.5,195.2 379.9,194.3 C380.3,193.4 380.9,192.5 381.6,192.0 C382.3,191.6 383.3,191.6 384.1,191.6 Z" fill="#b6ee48" filter="url(#b05)"/>
<ellipse cx="384.1" cy="205.0" rx="6.0" ry="12.5" fill="#b6ee48" filter="url(#b05)"/>
<ellipse cx="384.1" cy="204.0" rx="4.6" ry="9" fill="#f2e634" filter="url(#b05)"/>
<ellipse cx="384.1" cy="214.5" rx="6.8" ry="6.0" fill="#e0261c" filter="url(#b05)"/>
<ellipse cx="384.6" cy="205.0" rx="4.6" ry="9" fill="#e0261c" filter="url(#b05)"/>
<ellipse cx="381.6" cy="198.0" rx="1.5" ry="2" fill="#f2e634" filter="url(#b05)"/>
<ellipse cx="385.6" cy="200.0" rx="1.2" ry="1.6" fill="#f2e634" filter="url(#b05)"/>
<ellipse cx="378.9" cy="212.0" rx="1.5" ry="4" fill="#b6ee48" filter="url(#b05)"/>
<ellipse cx="384.1" cy="215.0" rx="7.2" ry="5.5" fill="#e0261c" filter="url(#b05)"/>
<ellipse cx="384.1" cy="220.8" rx="6.2" ry="1.4" fill="#3a36d8" filter="url(#b05)"/>
<path d="M400.2,218.5 Q401.0,235.2 401.8,249.0" stroke="#a8a8a8" stroke-width="1.0" fill="none" opacity="0.75"/>
<path d="M398.7,191.1 C399.6,191.1 400.5,191.1 401.3,191.6 C402.0,192.0 402.6,193.0 403.1,193.9 C403.5,194.9 403.7,196.3 403.8,197.4 C403.9,198.4 403.4,199.3 403.7,200.2 C403.9,201.1 405.0,201.4 405.3,202.7 C405.6,204.1 405.5,206.2 405.6,208.4 C405.8,210.5 406.3,213.5 406.2,215.6 C406.2,217.7 406.1,219.8 405.3,220.9 C404.5,222.1 403.0,222.2 401.4,222.5 C399.9,222.8 397.5,222.8 396.0,222.5 C394.4,222.2 392.9,222.1 392.1,220.9 C391.3,219.8 391.2,217.7 391.2,215.6 C391.1,213.5 391.6,210.5 391.8,208.4 C391.9,206.2 391.8,204.1 392.1,202.7 C392.4,201.4 393.5,201.1 393.7,200.2 C394.0,199.3 393.5,198.4 393.6,197.4 C393.7,196.3 393.9,194.9 394.3,193.9 C394.8,193.0 395.4,192.0 396.1,191.6 C396.9,191.1 397.8,191.1 398.7,191.1 Z" fill="#3028b8" filter="url(#b1)"/>
<path d="M398.7,191.6 C399.5,191.6 400.4,191.6 401.1,192.0 C401.8,192.5 402.4,193.4 402.8,194.3 C403.2,195.2 403.4,196.6 403.5,197.6 C403.6,198.6 403.1,199.4 403.4,200.3 C403.6,201.1 404.6,201.4 404.9,202.7 C405.3,204.0 405.1,206.0 405.2,208.0 C405.4,210.1 405.8,212.9 405.8,214.9 C405.8,216.9 405.7,218.9 404.9,220.0 C404.2,221.1 402.7,221.3 401.3,221.5 C399.8,221.7 397.6,221.7 396.1,221.5 C394.7,221.3 393.2,221.1 392.5,220.0 C391.7,218.9 391.6,216.9 391.6,214.9 C391.6,212.9 392.0,210.1 392.2,208.0 C392.3,206.0 392.1,204.0 392.5,202.7 C392.8,201.4 393.8,201.1 394.0,200.3 C394.3,199.4 393.8,198.6 393.9,197.6 C394.0,196.6 394.2,195.2 394.6,194.3 C395.0,193.4 395.6,192.5 396.3,192.0 C397.0,191.6 397.9,191.6 398.7,191.6 Z" fill="#b6ee48" filter="url(#b05)"/>
<ellipse cx="398.7" cy="205.0" rx="6.0" ry="12.5" fill="#b6ee48" filter="url(#b05)"/>
<ellipse cx="398.7" cy="204.0" rx="4.6" ry="9" fill="#f2e634" filter="url(#b05)"/>
<ellipse cx="398.7" cy="214.5" rx="6.8" ry="6.0" fill="#e0261c" filter="url(#b05)"/>
<ellipse cx="398.7" cy="199.0" rx="5" ry="5.5" fill="#9cf07a" filter="url(#b05)"/>
<ellipse cx="397.2" cy="198.0" rx="1.3" ry="1.3" fill="#f39a24" filter="url(#b05)"/>
<ellipse cx="400.7" cy="201.0" rx="1.2" ry="1.2" fill="#e0261c" filter="url(#b05)"/>
<ellipse cx="399.5" cy="207.5" rx="4.6" ry="3.4" fill="#2a36ee" filter="url(#b05)"/>
<ellipse cx="400.1" cy="207.5" rx="2.2" ry="1.8" fill="#f2f2f4" filter="url(#b05)"/>
<ellipse cx="398.7" cy="215.5" rx="7.2" ry="4.8" fill="#e0261c" filter="url(#b05)"/>
<ellipse cx="394.2" cy="212.5" rx="2.2" ry="2.5" fill="#f2e634" filter="url(#b05)"/>
<ellipse cx="398.7" cy="220.8" rx="6.2" ry="1.4" fill="#3a36d8" filter="url(#b05)"/>
<path d="M412.5,218.5 Q412.1,235.2 411.8,249.0" stroke="#a8a8a8" stroke-width="1.0" fill="none" opacity="0.75"/>
<path d="M411.8,191.1 C412.7,191.1 413.6,191.1 414.4,191.6 C415.1,192.0 415.7,193.0 416.2,193.9 C416.6,194.9 416.8,196.3 416.9,197.4 C417.0,198.4 416.5,199.3 416.8,200.2 C417.0,201.1 418.1,201.4 418.4,202.7 C418.7,204.1 418.6,206.2 418.7,208.4 C418.9,210.5 419.4,213.5 419.3,215.6 C419.3,217.7 419.2,219.8 418.4,220.9 C417.6,222.1 416.1,222.2 414.5,222.5 C413.0,222.8 410.6,222.8 409.1,222.5 C407.5,222.2 406.0,222.1 405.2,220.9 C404.4,219.8 404.3,217.7 404.3,215.6 C404.2,213.5 404.7,210.5 404.9,208.4 C405.0,206.2 404.9,204.1 405.2,202.7 C405.5,201.4 406.6,201.1 406.8,200.2 C407.1,199.3 406.6,198.4 406.7,197.4 C406.8,196.3 407.0,194.9 407.4,193.9 C407.9,193.0 408.5,192.0 409.2,191.6 C410.0,191.1 410.9,191.1 411.8,191.1 Z" fill="#3028b8" filter="url(#b1)"/>
<path d="M411.8,191.6 C412.6,191.6 413.5,191.6 414.2,192.0 C414.9,192.5 415.5,193.4 415.9,194.3 C416.3,195.2 416.5,196.6 416.6,197.6 C416.7,198.6 416.2,199.4 416.5,200.3 C416.7,201.1 417.7,201.4 418.0,202.7 C418.4,204.0 418.2,206.0 418.3,208.0 C418.5,210.1 418.9,212.9 418.9,214.9 C418.9,216.9 418.8,218.9 418.0,220.0 C417.3,221.1 415.8,221.3 414.4,221.5 C412.9,221.7 410.7,221.7 409.2,221.5 C407.8,221.3 406.3,221.1 405.6,220.0 C404.8,218.9 404.7,216.9 404.7,214.9 C404.7,212.9 405.1,210.1 405.3,208.0 C405.4,206.0 405.2,204.0 405.6,202.7 C405.9,201.4 406.9,201.1 407.1,200.3 C407.4,199.4 406.9,198.6 407.0,197.6 C407.1,196.6 407.3,195.2 407.7,194.3 C408.1,193.4 408.7,192.5 409.4,192.0 C410.1,191.6 411.0,191.6 411.8,191.6 Z" fill="#b6ee48" filter="url(#b05)"/>
<ellipse cx="411.8" cy="205.0" rx="6.0" ry="12.5" fill="#b6ee48" filter="url(#b05)"/>
<ellipse cx="411.8" cy="204.0" rx="4.6" ry="9" fill="#f2e634" filter="url(#b05)"/>
<ellipse cx="411.8" cy="214.5" rx="6.8" ry="6.0" fill="#e0261c" filter="url(#b05)"/>
<ellipse cx="411.8" cy="199.0" rx="4.6" ry="5" fill="#f2e634" filter="url(#b05)"/>
<ellipse cx="411.8" cy="199.5" rx="2.6" ry="3" fill="#e0261c" filter="url(#b05)"/>
<ellipse cx="409.3" cy="194.5" rx="1.4" ry="1.4" fill="#e0261c" filter="url(#b05)"/>
<ellipse cx="414.3" cy="194.5" rx="1.4" ry="1.4" fill="#e0261c" filter="url(#b05)"/>
<ellipse cx="411.8" cy="208.0" rx="4.6" ry="3.4" fill="#2a36ee" filter="url(#b05)"/>
<ellipse cx="411.8" cy="208.5" rx="2.2" ry="1.8" fill="#f2f2f4" filter="url(#b05)"/>
<ellipse cx="411.8" cy="215.5" rx="7.2" ry="5" fill="#e0261c" filter="url(#b05)"/>
<ellipse cx="411.8" cy="220.8" rx="6.2" ry="1.4" fill="#3a36d8" filter="url(#b05)"/>
<path d="M428.7,218.5 Q428.7,235.2 428.7,249.0" stroke="#6a5ae8" stroke-width="1.0" fill="none" opacity="0.75"/>
<path d="M427.2,191.1 C428.1,191.1 429.0,191.1 429.8,191.6 C430.5,192.0 431.1,193.0 431.6,193.9 C432.0,194.9 432.2,196.3 432.3,197.4 C432.4,198.4 431.9,199.3 432.2,200.2 C432.4,201.1 433.5,201.4 433.8,202.7 C434.1,204.1 434.0,206.2 434.1,208.4 C434.3,210.5 434.8,213.5 434.7,215.6 C434.7,217.7 434.6,219.8 433.8,220.9 C433.0,222.1 431.5,222.2 429.9,222.5 C428.4,222.8 426.0,222.8 424.5,222.5 C422.9,222.2 421.4,222.1 420.6,220.9 C419.8,219.8 419.7,217.7 419.7,215.6 C419.6,213.5 420.1,210.5 420.3,208.4 C420.4,206.2 420.3,204.1 420.6,202.7 C420.9,201.4 422.0,201.1 422.2,200.2 C422.5,199.3 422.0,198.4 422.1,197.4 C422.2,196.3 422.4,194.9 422.8,193.9 C423.3,193.0 423.9,192.0 424.6,191.6 C425.4,191.1 426.3,191.1 427.2,191.1 Z" fill="#3028b8" filter="url(#b1)"/>
<path d="M427.2,191.6 C428.0,191.6 428.9,191.6 429.6,192.0 C430.3,192.5 430.9,193.4 431.3,194.3 C431.7,195.2 431.9,196.6 432.0,197.6 C432.1,198.6 431.6,199.4 431.9,200.3 C432.1,201.1 433.1,201.4 433.4,202.7 C433.8,204.0 433.6,206.0 433.7,208.0 C433.9,210.1 434.3,212.9 434.3,214.9 C434.3,216.9 434.2,218.9 433.4,220.0 C432.7,221.1 431.2,221.3 429.8,221.5 C428.3,221.7 426.1,221.7 424.6,221.5 C423.2,221.3 421.7,221.1 421.0,220.0 C420.2,218.9 420.1,216.9 420.1,214.9 C420.1,212.9 420.5,210.1 420.7,208.0 C420.8,206.0 420.6,204.0 421.0,202.7 C421.3,201.4 422.3,201.1 422.5,200.3 C422.8,199.4 422.3,198.6 422.4,197.6 C422.5,196.6 422.7,195.2 423.1,194.3 C423.5,193.4 424.1,192.5 424.8,192.0 C425.5,191.6 426.4,191.6 427.2,191.6 Z" fill="#b6ee48" filter="url(#b05)"/>
<ellipse cx="427.2" cy="205.0" rx="6.0" ry="12.5" fill="#b6ee48" filter="url(#b05)"/>
<ellipse cx="427.2" cy="204.0" rx="4.6" ry="9" fill="#f2e634" filter="url(#b05)"/>
<ellipse cx="427.2" cy="214.5" rx="6.8" ry="6.0" fill="#e0261c" filter="url(#b05)"/>
<ellipse cx="427.2" cy="199.0" rx="4.6" ry="5" fill="#9cf07a" filter="url(#b05)"/>
<ellipse cx="427.2" cy="199.5" rx="3" ry="3.5" fill="#e0261c" filter="url(#b05)"/>
<ellipse cx="427.2" cy="207.5" rx="4.4" ry="3" fill="#2a36ee" filter="url(#b05)"/>
<ellipse cx="427.2" cy="214.8" rx="7.2" ry="5" fill="#e0261c" filter="url(#b05)"/>
<ellipse cx="427.2" cy="220.8" rx="6.2" ry="1.4" fill="#3a36d8" filter="url(#b05)"/>
<path d="M442.5,218.5 Q442.9,235.2 443.3,249.0" stroke="#a8a8a8" stroke-width="1.0" fill="none" opacity="0.75"/>
<path d="M441.0,191.1 C441.9,191.1 442.8,191.1 443.6,191.6 C444.3,192.0 444.9,193.0 445.4,193.9 C445.8,194.9 446.0,196.3 446.1,197.4 C446.2,198.4 445.7,199.3 446.0,200.2 C446.2,201.1 447.3,201.4 447.6,202.7 C447.9,204.1 447.8,206.2 447.9,208.4 C448.1,210.5 448.6,213.5 448.5,215.6 C448.5,217.7 448.4,219.8 447.6,220.9 C446.8,222.1 445.3,222.2 443.7,222.5 C442.2,222.8 439.8,222.8 438.3,222.5 C436.7,222.2 435.2,222.1 434.4,220.9 C433.6,219.8 433.5,217.7 433.5,215.6 C433.4,213.5 433.9,210.5 434.1,208.4 C434.2,206.2 434.1,204.1 434.4,202.7 C434.7,201.4 435.8,201.1 436.0,200.2 C436.3,199.3 435.8,198.4 435.9,197.4 C436.0,196.3 436.2,194.9 436.6,193.9 C437.1,193.0 437.7,192.0 438.4,191.6 C439.2,191.1 440.1,191.1 441.0,191.1 Z" fill="#3028b8" filter="url(#b1)"/>
<path d="M441.0,191.6 C441.8,191.6 442.7,191.6 443.4,192.0 C444.1,192.5 444.7,193.4 445.1,194.3 C445.5,195.2 445.7,196.6 445.8,197.6 C445.9,198.6 445.4,199.4 445.7,200.3 C445.9,201.1 446.9,201.4 447.2,202.7 C447.6,204.0 447.4,206.0 447.5,208.0 C447.7,210.1 448.1,212.9 448.1,214.9 C448.1,216.9 448.0,218.9 447.2,220.0 C446.5,221.1 445.0,221.3 443.6,221.5 C442.1,221.7 439.9,221.7 438.4,221.5 C437.0,221.3 435.5,221.1 434.8,220.0 C434.0,218.9 433.9,216.9 433.9,214.9 C433.9,212.9 434.3,210.1 434.5,208.0 C434.6,206.0 434.4,204.0 434.8,202.7 C435.1,201.4 436.1,201.1 436.3,200.3 C436.6,199.4 436.1,198.6 436.2,197.6 C436.3,196.6 436.5,195.2 436.9,194.3 C437.3,193.4 437.9,192.5 438.6,192.0 C439.3,191.6 440.2,191.6 441.0,191.6 Z" fill="#b6ee48" filter="url(#b05)"/>
<ellipse cx="441.0" cy="205.0" rx="6.0" ry="12.5" fill="#b6ee48" filter="url(#b05)"/>
<ellipse cx="441.0" cy="204.0" rx="4.6" ry="9" fill="#f2e634" filter="url(#b05)"/>
<ellipse cx="441.0" cy="214.5" rx="6.8" ry="6.0" fill="#e0261c" filter="url(#b05)"/>
<ellipse cx="441.0" cy="199.0" rx="4.6" ry="5" fill="#9cf07a" filter="url(#b05)"/>
<ellipse cx="441.0" cy="199.0" rx="2.6" ry="3" fill="#f39a24" filter="url(#b05)"/>
<ellipse cx="442.0" cy="206.5" rx="4.2" ry="3.2" fill="#2a36ee" filter="url(#b05)"/>
<ellipse cx="442.0" cy="207.0" rx="2" ry="1.5" fill="#f2f2f4" filter="url(#b05)"/>
<ellipse cx="441.0" cy="215.0" rx="7.2" ry="5" fill="#e0261c" filter="url(#b05)"/>
<ellipse cx="441.0" cy="220.8" rx="6.2" ry="1.4" fill="#3a36d8" filter="url(#b05)"/>
</g>
<rect x="372.6" y="189.3" width="78.2" height="61.6" fill="none" stroke="#000" stroke-width="0.8"/>
<g clip-path="url(#cE3)">
<rect x="290.30" y="254.70" width="78.00" height="61.30" fill="#1c1c1c"/>
<rect x="290.30" y="288.50" width="78.00" height="27.50" fill="#3c3c3c"/>
<path d="M302.8,284.6 Q302.8,301.3 302.8,315.0" stroke="#a8a8a8" stroke-width="1.0" fill="none" opacity="0.75"/>
<path d="M302.0,255.7 C302.9,255.7 304.0,255.7 304.8,256.2 C305.6,256.7 306.3,257.6 306.8,258.7 C307.2,259.7 307.5,261.2 307.6,262.3 C307.7,263.4 307.1,264.3 307.4,265.2 C307.7,266.2 308.9,266.4 309.2,267.9 C309.6,269.3 309.4,271.5 309.6,273.8 C309.7,276.0 310.3,279.2 310.2,281.4 C310.2,283.6 310.1,285.7 309.2,287.0 C308.4,288.2 306.7,288.3 305.0,288.6 C303.3,288.9 300.7,288.9 299.0,288.6 C297.3,288.3 295.6,288.2 294.8,287.0 C293.9,285.7 293.8,283.6 293.8,281.4 C293.7,279.2 294.3,276.0 294.4,273.8 C294.6,271.5 294.4,269.3 294.8,267.9 C295.1,266.4 296.3,266.2 296.6,265.2 C296.9,264.3 296.3,263.4 296.4,262.3 C296.5,261.2 296.8,259.7 297.2,258.7 C297.7,257.6 298.4,256.7 299.2,256.2 C300.0,255.7 301.1,255.7 302.0,255.7 Z" fill="#3030c0" filter="url(#b1)"/>
<path d="M302.0,256.2 C302.9,256.2 303.9,256.2 304.6,256.7 C305.4,257.1 306.1,258.1 306.5,259.0 C306.9,260.0 307.2,261.4 307.3,262.5 C307.4,263.5 306.9,264.4 307.1,265.3 C307.4,266.2 308.5,266.5 308.8,267.8 C309.2,269.2 309.0,271.3 309.1,273.5 C309.3,275.6 309.8,278.6 309.8,280.7 C309.7,282.8 309.6,284.9 308.8,286.0 C308.0,287.2 306.4,287.3 304.8,287.6 C303.2,287.9 300.8,287.9 299.2,287.6 C297.6,287.3 296.0,287.2 295.2,286.0 C294.4,284.9 294.3,282.8 294.2,280.7 C294.2,278.6 294.7,275.6 294.9,273.5 C295.0,271.3 294.8,269.2 295.2,267.8 C295.5,266.5 296.6,266.2 296.9,265.3 C297.1,264.4 296.6,263.5 296.7,262.5 C296.8,261.4 297.1,260.0 297.5,259.0 C297.9,258.1 298.6,257.1 299.4,256.7 C300.1,256.2 301.1,256.2 302.0,256.2 Z" fill="#2a36ee" filter="url(#b05)"/>
<ellipse cx="299.5" cy="261.0" rx="1.4" ry="1.6" fill="#c8d8ff" filter="url(#b05)"/>
<ellipse cx="305.0" cy="263.0" rx="1.2" ry="1.4" fill="#c8d8ff" filter="url(#b05)"/>
<ellipse cx="302.0" cy="270.5" rx="6.4" ry="4" fill="#5ae04a" filter="url(#b05)"/>
<ellipse cx="302.0" cy="271.5" rx="5.6" ry="2.8" fill="#f2e634" filter="url(#b05)"/>
<ellipse cx="299.5" cy="272.3" rx="2.4" ry="1.5" fill="#e0261c" filter="url(#b05)"/>
<ellipse cx="304.8" cy="272.3" rx="2.4" ry="1.5" fill="#e0261c" filter="url(#b05)"/>
<ellipse cx="302.0" cy="277.5" rx="3.5" ry="1.8" fill="#3ad8e8" filter="url(#b05)"/>
<ellipse cx="302.0" cy="278.0" rx="1.8" ry="1" fill="#f2f2f4" filter="url(#b05)"/>
<ellipse cx="295.8" cy="281.5" rx="2.80" ry="3.00" fill="#3ad8e8" filter="url(#b05)"/>
<ellipse cx="295.8" cy="281.5" rx="2.24" ry="2.40" fill="#5ae04a" filter="url(#b05)"/>
<ellipse cx="295.8" cy="281.5" rx="1.68" ry="1.80" fill="#f2e634" filter="url(#b05)"/>
<ellipse cx="295.8" cy="281.5" rx="1.12" ry="1.20" fill="#f39a24" filter="url(#b05)"/>
<ellipse cx="295.8" cy="281.5" rx="0.56" ry="0.60" fill="#e0261c" filter="url(#b05)"/>
<ellipse cx="308.5" cy="281.5" rx="4.00" ry="3.80" fill="#3ad8e8" filter="url(#b05)"/>
<ellipse cx="308.5" cy="281.5" rx="3.20" ry="3.04" fill="#5ae04a" filter="url(#b05)"/>
<ellipse cx="308.5" cy="281.5" rx="2.40" ry="2.28" fill="#f2e634" filter="url(#b05)"/>
<ellipse cx="308.5" cy="281.5" rx="1.60" ry="1.52" fill="#f39a24" filter="url(#b05)"/>
<ellipse cx="308.5" cy="281.5" rx="0.80" ry="0.76" fill="#e0261c" filter="url(#b05)"/>
<path d="M316.7,284.6 Q316.7,301.3 316.7,315.0" stroke="#a8a8a8" stroke-width="1.0" fill="none" opacity="0.75"/>
<path d="M316.0,255.7 C316.9,255.7 318.0,255.7 318.8,256.2 C319.6,256.7 320.3,257.6 320.8,258.7 C321.2,259.7 321.5,261.2 321.6,262.3 C321.7,263.4 321.1,264.3 321.4,265.2 C321.7,266.2 322.9,266.4 323.2,267.9 C323.6,269.3 323.4,271.5 323.6,273.8 C323.7,276.0 324.3,279.2 324.2,281.4 C324.2,283.6 324.1,285.7 323.2,287.0 C322.4,288.2 320.7,288.3 319.0,288.6 C317.3,288.9 314.7,288.9 313.0,288.6 C311.3,288.3 309.6,288.2 308.8,287.0 C307.9,285.7 307.8,283.6 307.8,281.4 C307.7,279.2 308.3,276.0 308.4,273.8 C308.6,271.5 308.4,269.3 308.8,267.9 C309.1,266.4 310.3,266.2 310.6,265.2 C310.9,264.3 310.3,263.4 310.4,262.3 C310.5,261.2 310.8,259.7 311.2,258.7 C311.7,257.6 312.4,256.7 313.2,256.2 C314.0,255.7 315.1,255.7 316.0,255.7 Z" fill="#3030c0" filter="url(#b1)"/>
<path d="M316.0,256.2 C316.9,256.2 317.9,256.2 318.6,256.7 C319.4,257.1 320.1,258.1 320.5,259.0 C320.9,260.0 321.2,261.4 321.3,262.5 C321.4,263.5 320.9,264.4 321.1,265.3 C321.4,266.2 322.5,266.5 322.8,267.8 C323.2,269.2 323.0,271.3 323.1,273.5 C323.3,275.6 323.8,278.6 323.8,280.7 C323.7,282.8 323.6,284.9 322.8,286.0 C322.0,287.2 320.4,287.3 318.8,287.6 C317.2,287.9 314.8,287.9 313.2,287.6 C311.6,287.3 310.0,287.2 309.2,286.0 C308.4,284.9 308.3,282.8 308.2,280.7 C308.2,278.6 308.7,275.6 308.9,273.5 C309.0,271.3 308.8,269.2 309.2,267.8 C309.5,266.5 310.6,266.2 310.9,265.3 C311.1,264.4 310.6,263.5 310.7,262.5 C310.8,261.4 311.1,260.0 311.5,259.0 C311.9,258.1 312.6,257.1 313.4,256.7 C314.1,256.2 315.1,256.2 316.0,256.2 Z" fill="#2a36ee" filter="url(#b05)"/>
<ellipse cx="313.5" cy="261.0" rx="1.4" ry="1.6" fill="#c8d8ff" filter="url(#b05)"/>
<ellipse cx="319.0" cy="263.0" rx="1.2" ry="1.4" fill="#c8d8ff" filter="url(#b05)"/>
<ellipse cx="316.0" cy="270.5" rx="6.4" ry="4" fill="#5ae04a" filter="url(#b05)"/>
<ellipse cx="316.0" cy="271.5" rx="5.6" ry="2.8" fill="#f2e634" filter="url(#b05)"/>
<ellipse cx="313.5" cy="272.3" rx="2.4" ry="1.5" fill="#e0261c" filter="url(#b05)"/>
<ellipse cx="318.8" cy="272.3" rx="2.4" ry="1.5" fill="#e0261c" filter="url(#b05)"/>
<ellipse cx="316.0" cy="277.5" rx="3.5" ry="1.8" fill="#3ad8e8" filter="url(#b05)"/>
<ellipse cx="316.0" cy="278.0" rx="1.8" ry="1" fill="#f2f2f4" filter="url(#b05)"/>
<ellipse cx="309.8" cy="281.5" rx="2.80" ry="3.00" fill="#3ad8e8" filter="url(#b05)"/>
<ellipse cx="309.8" cy="281.5" rx="2.24" ry="2.40" fill="#5ae04a" filter="url(#b05)"/>
<ellipse cx="309.8" cy="281.5" rx="1.68" ry="1.80" fill="#f2e634" filter="url(#b05)"/>
<ellipse cx="309.8" cy="281.5" rx="1.12" ry="1.20" fill="#f39a24" filter="url(#b05)"/>
<ellipse cx="309.8" cy="281.5" rx="0.56" ry="0.60" fill="#e0261c" filter="url(#b05)"/>
<ellipse cx="322.5" cy="281.5" rx="4.00" ry="3.80" fill="#3ad8e8" filter="url(#b05)"/>
<ellipse cx="322.5" cy="281.5" rx="3.20" ry="3.04" fill="#5ae04a" filter="url(#b05)"/>
<ellipse cx="322.5" cy="281.5" rx="2.40" ry="2.28" fill="#f2e634" filter="url(#b05)"/>
<ellipse cx="322.5" cy="281.5" rx="1.60" ry="1.52" fill="#f39a24" filter="url(#b05)"/>
<ellipse cx="322.5" cy="281.5" rx="0.80" ry="0.76" fill="#e0261c" filter="url(#b05)"/>
<path d="M330.5,284.6 Q330.9,301.3 331.3,315.0" stroke="#a8a8a8" stroke-width="1.0" fill="none" opacity="0.75"/>
<path d="M330.5,255.7 C331.4,255.7 332.4,255.7 333.1,256.2 C333.9,256.7 334.5,257.6 335.0,258.7 C335.4,259.7 335.6,261.2 335.7,262.3 C335.8,263.4 335.3,264.3 335.6,265.2 C335.8,266.2 336.9,266.4 337.3,267.9 C337.6,269.3 337.4,271.5 337.6,273.8 C337.7,276.0 338.2,279.2 338.2,281.4 C338.1,283.6 338.1,285.7 337.3,287.0 C336.4,288.2 334.9,288.3 333.3,288.6 C331.7,288.9 329.3,288.9 327.7,288.6 C326.1,288.3 324.6,288.2 323.7,287.0 C322.9,285.7 322.9,283.6 322.8,281.4 C322.8,279.2 323.3,276.0 323.4,273.8 C323.6,271.5 323.4,269.3 323.7,267.9 C324.1,266.4 325.2,266.2 325.4,265.2 C325.7,264.3 325.2,263.4 325.3,262.3 C325.4,261.2 325.6,259.7 326.0,258.7 C326.5,257.6 327.1,256.7 327.9,256.2 C328.6,255.7 329.6,255.7 330.5,255.7 Z" fill="#5050c8" filter="url(#b1)"/>
<path d="M330.5,256.2 C331.3,256.2 332.3,256.2 333.0,256.7 C333.7,257.1 334.3,258.1 334.7,259.0 C335.1,260.0 335.3,261.4 335.4,262.5 C335.5,263.5 335.0,264.4 335.3,265.3 C335.5,266.2 336.6,266.5 336.9,267.8 C337.2,269.2 337.0,271.3 337.2,273.5 C337.3,275.6 337.8,278.6 337.8,280.7 C337.7,282.8 337.7,284.9 336.9,286.0 C336.1,287.2 334.6,287.3 333.1,287.6 C331.6,287.9 329.4,287.9 327.9,287.6 C326.4,287.3 324.9,287.2 324.1,286.0 C323.3,284.9 323.3,282.8 323.2,280.7 C323.2,278.6 323.7,275.6 323.8,273.5 C324.0,271.3 323.8,269.2 324.1,267.8 C324.4,266.5 325.5,266.2 325.7,265.3 C326.0,264.4 325.5,263.5 325.6,262.5 C325.7,261.4 325.9,260.0 326.3,259.0 C326.7,258.1 327.3,257.1 328.0,256.7 C328.7,256.2 329.7,256.2 330.5,256.2 Z" fill="#cfd0dc" filter="url(#b05)"/>
<ellipse cx="330.5" cy="276.0" rx="4.5" ry="9" fill="#eeeeee" filter="url(#b05)"/>
<ellipse cx="330.0" cy="262.0" rx="3" ry="3" fill="#a0a0b0" filter="url(#b05)"/>
<ellipse cx="325.0" cy="283.0" rx="2" ry="3" fill="#8888d8" filter="url(#b05)"/>
<path d="M345.2,284.6 Q345.2,301.3 345.2,315.0" stroke="#a8a8a8" stroke-width="1.0" fill="none" opacity="0.75"/>
<path d="M345.0,255.7 C345.9,255.7 347.0,255.7 347.8,256.2 C348.6,256.7 349.3,257.6 349.8,258.7 C350.2,259.7 350.5,261.2 350.6,262.3 C350.7,263.4 350.1,264.3 350.4,265.2 C350.7,266.2 351.9,266.4 352.2,267.9 C352.6,269.3 352.4,271.5 352.6,273.8 C352.7,276.0 353.3,279.2 353.2,281.4 C353.2,283.6 353.1,285.7 352.2,287.0 C351.4,288.2 349.7,288.3 348.0,288.6 C346.3,288.9 343.7,288.9 342.0,288.6 C340.3,288.3 338.6,288.2 337.8,287.0 C336.9,285.7 336.8,283.6 336.8,281.4 C336.7,279.2 337.3,276.0 337.4,273.8 C337.6,271.5 337.4,269.3 337.8,267.9 C338.1,266.4 339.3,266.2 339.6,265.2 C339.9,264.3 339.3,263.4 339.4,262.3 C339.5,261.2 339.8,259.7 340.2,258.7 C340.7,257.6 341.4,256.7 342.2,256.2 C343.0,255.7 344.1,255.7 345.0,255.7 Z" fill="#3030c0" filter="url(#b1)"/>
<path d="M345.0,256.2 C345.9,256.2 346.9,256.2 347.6,256.7 C348.4,257.1 349.1,258.1 349.5,259.0 C349.9,260.0 350.2,261.4 350.3,262.5 C350.4,263.5 349.9,264.4 350.1,265.3 C350.4,266.2 351.5,266.5 351.8,267.8 C352.2,269.2 352.0,271.3 352.1,273.5 C352.3,275.6 352.8,278.6 352.8,280.7 C352.7,282.8 352.6,284.9 351.8,286.0 C351.0,287.2 349.4,287.3 347.8,287.6 C346.2,287.9 343.8,287.9 342.2,287.6 C340.6,287.3 339.0,287.2 338.2,286.0 C337.4,284.9 337.3,282.8 337.2,280.7 C337.2,278.6 337.7,275.6 337.9,273.5 C338.0,271.3 337.8,269.2 338.2,267.8 C338.5,266.5 339.6,266.2 339.9,265.3 C340.1,264.4 339.6,263.5 339.7,262.5 C339.8,261.4 340.1,260.0 340.5,259.0 C340.9,258.1 341.6,257.1 342.4,256.7 C343.1,256.2 344.1,256.2 345.0,256.2 Z" fill="#2a36ee" filter="url(#b05)"/>
<ellipse cx="345.0" cy="262.0" rx="3" ry="3" fill="#7090f0" filter="url(#b05)"/>
<ellipse cx="345.0" cy="268.0" rx="2" ry="2" fill="#90b0f0" filter="url(#b05)"/>
<ellipse cx="347.0" cy="276.0" rx="3.5" ry="1.5" fill="#c0d0f8" filter="url(#b05)"/>
<ellipse cx="339.0" cy="281.5" rx="3.40" ry="3.20" fill="#3ad8e8" filter="url(#b05)"/>
<ellipse cx="339.0" cy="281.5" rx="2.72" ry="2.56" fill="#5ae04a" filter="url(#b05)"/>
<ellipse cx="339.0" cy="281.5" rx="2.04" ry="1.92" fill="#f2e634" filter="url(#b05)"/>
<ellipse cx="339.0" cy="281.5" rx="1.36" ry="1.28" fill="#f39a24" filter="url(#b05)"/>
<ellipse cx="339.0" cy="281.5" rx="0.68" ry="0.64" fill="#e0261c" filter="url(#b05)"/>
<ellipse cx="351.5" cy="281.0" rx="3.40" ry="3.00" fill="#3ad8e8" filter="url(#b05)"/>
<ellipse cx="351.5" cy="281.0" rx="2.72" ry="2.40" fill="#5ae04a" filter="url(#b05)"/>
<ellipse cx="351.5" cy="281.0" rx="2.04" ry="1.80" fill="#f2e634" filter="url(#b05)"/>
<ellipse cx="351.5" cy="281.0" rx="1.36" ry="1.20" fill="#f39a24" filter="url(#b05)"/>
<ellipse cx="351.5" cy="281.0" rx="0.68" ry="0.60" fill="#e0261c" filter="url(#b05)"/>
<path d="M359.0,284.6 Q359.0,301.3 359.0,315.0" stroke="#a8a8a8" stroke-width="1.0" fill="none" opacity="0.75"/>
<path d="M359.0,255.7 C359.9,255.7 360.9,255.7 361.7,256.2 C362.5,256.7 363.2,257.6 363.6,258.7 C364.1,259.7 364.3,261.2 364.4,262.3 C364.5,263.4 364.0,264.3 364.2,265.2 C364.5,266.2 365.7,266.4 366.0,267.9 C366.3,269.3 366.2,271.5 366.3,273.8 C366.5,276.0 367.0,279.2 366.9,281.4 C366.9,283.6 366.8,285.7 366.0,287.0 C365.1,288.2 363.5,288.3 361.9,288.6 C360.2,288.9 357.8,288.9 356.1,288.6 C354.5,288.3 352.9,288.2 352.0,287.0 C351.2,285.7 351.1,283.6 351.1,281.4 C351.0,279.2 351.5,276.0 351.7,273.8 C351.8,271.5 351.7,269.3 352.0,267.9 C352.3,266.4 353.5,266.2 353.8,265.2 C354.0,264.3 353.5,263.4 353.6,262.3 C353.7,261.2 353.9,259.7 354.4,258.7 C354.8,257.6 355.5,256.7 356.3,256.2 C357.1,255.7 358.1,255.7 359.0,255.7 Z" fill="#3030c0" filter="url(#b1)"/>
<path d="M359.0,256.2 C359.9,256.2 360.8,256.2 361.6,256.7 C362.3,257.1 362.9,258.1 363.4,259.0 C363.8,260.0 364.0,261.4 364.1,262.5 C364.2,263.5 363.7,264.4 363.9,265.3 C364.2,266.2 365.3,266.5 365.6,267.8 C365.9,269.2 365.8,271.3 365.9,273.5 C366.0,275.6 366.6,278.6 366.5,280.7 C366.4,282.8 366.4,284.9 365.6,286.0 C364.8,287.2 363.2,287.3 361.7,287.6 C360.1,287.9 357.9,287.9 356.3,287.6 C354.8,287.3 353.2,287.2 352.4,286.0 C351.6,284.9 351.6,282.8 351.5,280.7 C351.4,278.6 352.0,275.6 352.1,273.5 C352.2,271.3 352.1,269.2 352.4,267.8 C352.7,266.5 353.8,266.2 354.1,265.3 C354.3,264.4 353.8,263.5 353.9,262.5 C354.0,261.4 354.2,260.0 354.6,259.0 C355.1,258.1 355.7,257.1 356.4,256.7 C357.2,256.2 358.1,256.2 359.0,256.2 Z" fill="#2a36ee" filter="url(#b05)"/>
<ellipse cx="359.0" cy="262.0" rx="3.5" ry="3.5" fill="#a0a8f0" filter="url(#b05)"/>
<ellipse cx="357.0" cy="275.0" rx="3" ry="4" fill="#8090f0" filter="url(#b05)"/>
<ellipse cx="355.0" cy="281.0" rx="2.5" ry="2.5" fill="#c8c8f0" filter="url(#b05)"/>
<ellipse cx="364.5" cy="281.5" rx="2.60" ry="3.00" fill="#3ad8e8" filter="url(#b05)"/>
<ellipse cx="364.5" cy="281.5" rx="2.08" ry="2.40" fill="#5ae04a" filter="url(#b05)"/>
<ellipse cx="364.5" cy="281.5" rx="1.56" ry="1.80" fill="#f2e634" filter="url(#b05)"/>
<ellipse cx="364.5" cy="281.5" rx="1.04" ry="1.20" fill="#f39a24" filter="url(#b05)"/>
<ellipse cx="364.5" cy="281.5" rx="0.52" ry="0.60" fill="#e0261c" filter="url(#b05)"/>
</g>
<rect x="290.3" y="254.7" width="78" height="61.3" fill="none" stroke="#000" stroke-width="0.8"/>
<g clip-path="url(#cE4)">
<rect x="372.60" y="254.70" width="78.20" height="61.30" fill="#1c1c1c"/>
<rect x="372.60" y="288.00" width="78.20" height="28.00" fill="#3c3c3c"/>
<path d="M381.8,283.5 Q381.0,300.8 380.2,315.0" stroke="#a8a8a8" stroke-width="1.0" fill="none" opacity="0.75"/>
<path d="M381.6,256.6 C382.4,256.6 383.2,256.6 383.9,257.0 C384.5,257.5 385.1,258.4 385.5,259.3 C385.9,260.2 386.1,261.6 386.2,262.6 C386.2,263.6 385.8,264.4 386.0,265.3 C386.2,266.1 387.2,266.4 387.5,267.7 C387.8,269.0 387.6,271.0 387.8,273.0 C387.9,275.1 388.3,277.9 388.3,279.9 C388.3,281.9 388.2,283.9 387.5,285.0 C386.8,286.1 385.4,286.3 384.0,286.5 C382.6,286.7 380.6,286.7 379.2,286.5 C377.8,286.3 376.4,286.1 375.7,285.0 C375.0,283.9 374.9,281.9 374.9,279.9 C374.9,277.9 375.3,275.1 375.4,273.0 C375.6,271.0 375.4,269.0 375.7,267.7 C376.0,266.4 377.0,266.1 377.2,265.3 C377.4,264.4 377.0,263.6 377.0,262.6 C377.1,261.6 377.3,260.2 377.7,259.3 C378.1,258.4 378.7,257.5 379.3,257.0 C380.0,256.6 380.8,256.6 381.6,256.6 Z" fill="#c4c4c4" filter="url(#b05)"/>
<ellipse cx="381.6" cy="271.0" rx="3.8" ry="9" fill="#dadada" filter="url(#b05)"/>
<ellipse cx="378.0" cy="262.0" rx="1.5" ry="2" fill="#a8a8a8" filter="url(#b05)"/>
<path d="M396.4,283.5 Q394.9,300.8 393.3,315.0" stroke="#a8a8a8" stroke-width="1.0" fill="none" opacity="0.75"/>
<path d="M396.8,256.6 C397.6,256.6 398.4,256.6 399.1,257.0 C399.7,257.5 400.3,258.4 400.7,259.3 C401.1,260.2 401.3,261.6 401.4,262.6 C401.4,263.6 401.0,264.4 401.2,265.3 C401.4,266.1 402.4,266.4 402.7,267.7 C403.0,269.0 402.8,271.0 403.0,273.0 C403.1,275.1 403.5,277.9 403.5,279.9 C403.5,281.9 403.4,283.9 402.7,285.0 C402.0,286.1 400.6,286.3 399.2,286.5 C397.8,286.7 395.8,286.7 394.4,286.5 C393.0,286.3 391.6,286.1 390.9,285.0 C390.2,283.9 390.1,281.9 390.1,279.9 C390.1,277.9 390.5,275.1 390.6,273.0 C390.8,271.0 390.6,269.0 390.9,267.7 C391.2,266.4 392.2,266.1 392.4,265.3 C392.6,264.4 392.2,263.6 392.2,262.6 C392.3,261.6 392.5,260.2 392.9,259.3 C393.3,258.4 393.9,257.5 394.5,257.0 C395.2,256.6 396.0,256.6 396.8,256.6 Z" fill="#c4c4c4" filter="url(#b05)"/>
<ellipse cx="396.8" cy="271.0" rx="3.8" ry="9" fill="#dadada" filter="url(#b05)"/>
<ellipse cx="402.0" cy="280.5" rx="1.6" ry="1.4" fill="#2a2af0" filter="url(#b05)"/>
<path d="M410.2,283.5 Q407.9,300.8 405.6,315.0" stroke="#a8a8a8" stroke-width="1.0" fill="none" opacity="0.75"/>
<path d="M411.6,256.6 C412.4,256.6 413.2,256.6 413.9,257.0 C414.5,257.5 415.1,258.4 415.5,259.3 C415.9,260.2 416.1,261.6 416.2,262.6 C416.2,263.6 415.8,264.4 416.0,265.3 C416.2,266.1 417.2,266.4 417.5,267.7 C417.8,269.0 417.6,271.0 417.8,273.0 C417.9,275.1 418.3,277.9 418.3,279.9 C418.3,281.9 418.2,283.9 417.5,285.0 C416.8,286.1 415.4,286.3 414.0,286.5 C412.6,286.7 410.6,286.7 409.2,286.5 C407.8,286.3 406.4,286.1 405.7,285.0 C405.0,283.9 404.9,281.9 404.9,279.9 C404.9,277.9 405.3,275.1 405.4,273.0 C405.6,271.0 405.4,269.0 405.7,267.7 C406.0,266.4 407.0,266.1 407.2,265.3 C407.4,264.4 407.0,263.6 407.0,262.6 C407.1,261.6 407.3,260.2 407.7,259.3 C408.1,258.4 408.7,257.5 409.3,257.0 C410.0,256.6 410.8,256.6 411.6,256.6 Z" fill="#c8c8c8" filter="url(#b05)"/>
<ellipse cx="411.6" cy="271.0" rx="3.8" ry="9" fill="#dcdcdc" filter="url(#b05)"/>
<path d="M425.6,283.5 Q426.4,300.8 427.2,315.0" stroke="#a8a8a8" stroke-width="1.0" fill="none" opacity="0.75"/>
<path d="M427.0,256.6 C427.8,256.6 428.7,256.6 429.4,257.0 C430.1,257.5 430.7,258.4 431.1,259.3 C431.5,260.2 431.7,261.6 431.8,262.6 C431.9,263.6 431.4,264.4 431.6,265.3 C431.9,266.1 432.9,266.4 433.2,267.7 C433.5,269.0 433.3,271.0 433.4,273.0 C433.6,275.1 434.0,277.9 434.0,279.9 C434.0,281.9 433.9,283.9 433.2,285.0 C432.4,286.1 431.0,286.3 429.5,286.5 C428.1,286.7 425.9,286.7 424.5,286.5 C423.0,286.3 421.6,286.1 420.8,285.0 C420.1,283.9 420.0,281.9 420.0,279.9 C420.0,277.9 420.4,275.1 420.6,273.0 C420.7,271.0 420.5,269.0 420.8,267.7 C421.1,266.4 422.1,266.1 422.4,265.3 C422.6,264.4 422.1,263.6 422.2,262.6 C422.3,261.6 422.5,260.2 422.9,259.3 C423.3,258.4 423.9,257.5 424.6,257.0 C425.3,256.6 426.2,256.6 427.0,256.6 Z" fill="#d0d0d0" filter="url(#b05)"/>
<ellipse cx="427.0" cy="270.0" rx="4" ry="9" fill="#e6e6e6" filter="url(#b05)"/>
<ellipse cx="427.2" cy="283.8" rx="7.2" ry="2.6" fill="#2a2af0" filter="url(#b05)"/>
<ellipse cx="422.0" cy="281.0" rx="2" ry="1.8" fill="#3a3af0" filter="url(#b05)"/>
<ellipse cx="432.0" cy="281.0" rx="2" ry="1.8" fill="#3a3af0" filter="url(#b05)"/>
<path d="M439.5,283.5 Q439.1,300.8 438.7,315.0" stroke="#a8a8a8" stroke-width="1.0" fill="none" opacity="0.75"/>
<path d="M440.6,256.6 C441.4,256.6 442.2,256.6 442.9,257.0 C443.5,257.5 444.1,258.4 444.5,259.3 C444.9,260.2 445.1,261.6 445.2,262.6 C445.2,263.6 444.8,264.4 445.0,265.3 C445.2,266.1 446.2,266.4 446.5,267.7 C446.8,269.0 446.6,271.0 446.8,273.0 C446.9,275.1 447.3,277.9 447.3,279.9 C447.3,281.9 447.2,283.9 446.5,285.0 C445.8,286.1 444.4,286.3 443.0,286.5 C441.6,286.7 439.6,286.7 438.2,286.5 C436.8,286.3 435.4,286.1 434.7,285.0 C434.0,283.9 433.9,281.9 433.9,279.9 C433.9,277.9 434.3,275.1 434.4,273.0 C434.6,271.0 434.4,269.0 434.7,267.7 C435.0,266.4 436.0,266.1 436.2,265.3 C436.4,264.4 436.0,263.6 436.0,262.6 C436.1,261.6 436.3,260.2 436.7,259.3 C437.1,258.4 437.7,257.5 438.3,257.0 C439.0,256.6 439.8,256.6 440.6,256.6 Z" fill="#cacaca" filter="url(#b05)"/>
<ellipse cx="440.6" cy="270.0" rx="3.8" ry="9" fill="#e0e0e0" filter="url(#b05)"/>
<ellipse cx="446.0" cy="284.5" rx="1.6" ry="2.6" fill="#7a6ae8" filter="url(#b05)"/>
</g>
<rect x="372.6" y="254.7" width="78.2" height="61.3" fill="none" stroke="#000" stroke-width="0.8"/>
<rect x="454.1" y="198.5" width="6.8" height="117" fill="url(#cbar)" stroke="#111" stroke-width="0.8"/>
<line x1="461.00" y1="202.60" x2="462.30" y2="202.60" stroke="#111" stroke-width="0.6"/>
<line x1="461.00" y1="207.38" x2="462.30" y2="207.38" stroke="#111" stroke-width="0.6"/>
<line x1="461.00" y1="212.16" x2="462.30" y2="212.16" stroke="#111" stroke-width="0.6"/>
<line x1="461.00" y1="216.94" x2="462.30" y2="216.94" stroke="#111" stroke-width="0.6"/>
<line x1="461.00" y1="221.72" x2="462.30" y2="221.72" stroke="#111" stroke-width="0.6"/>
<line x1="461.00" y1="226.50" x2="462.30" y2="226.50" stroke="#111" stroke-width="0.6"/>
<line x1="461.00" y1="231.28" x2="462.30" y2="231.28" stroke="#111" stroke-width="0.6"/>
<line x1="461.00" y1="236.06" x2="462.30" y2="236.06" stroke="#111" stroke-width="0.6"/>
<line x1="461.00" y1="240.84" x2="462.30" y2="240.84" stroke="#111" stroke-width="0.6"/>
<line x1="461.00" y1="245.62" x2="462.30" y2="245.62" stroke="#111" stroke-width="0.6"/>
<line x1="461.00" y1="250.40" x2="462.30" y2="250.40" stroke="#111" stroke-width="0.6"/>
<line x1="461.00" y1="255.18" x2="462.30" y2="255.18" stroke="#111" stroke-width="0.6"/>
<line x1="461.00" y1="259.96" x2="462.30" y2="259.96" stroke="#111" stroke-width="0.6"/>
<line x1="461.00" y1="264.74" x2="462.30" y2="264.74" stroke="#111" stroke-width="0.6"/>
<line x1="461.00" y1="269.52" x2="462.30" y2="269.52" stroke="#111" stroke-width="0.6"/>
<line x1="461.00" y1="274.30" x2="462.30" y2="274.30" stroke="#111" stroke-width="0.6"/>
<line x1="461.00" y1="279.08" x2="462.30" y2="279.08" stroke="#111" stroke-width="0.6"/>
<line x1="461.00" y1="283.86" x2="462.30" y2="283.86" stroke="#111" stroke-width="0.6"/>
<line x1="461.00" y1="288.64" x2="462.30" y2="288.64" stroke="#111" stroke-width="0.6"/>
<line x1="461.00" y1="293.42" x2="462.30" y2="293.42" stroke="#111" stroke-width="0.6"/>
<line x1="461.00" y1="298.20" x2="462.30" y2="298.20" stroke="#111" stroke-width="0.6"/>
<line x1="461.00" y1="302.98" x2="462.30" y2="302.98" stroke="#111" stroke-width="0.6"/>
<line x1="461.00" y1="307.76" x2="462.30" y2="307.76" stroke="#111" stroke-width="0.6"/>
<line x1="461.00" y1="312.54" x2="462.30" y2="312.54" stroke="#111" stroke-width="0.6"/>
<line x1="461.00" y1="202.60" x2="463.80" y2="202.60" stroke="#111" stroke-width="0.9"/>
<text x="467.10" y="204.60" font-size="5.6" text-anchor="start" fill="#333" stroke="#333" stroke-width="0.15" textLength="14.40" lengthAdjust="spacingAndGlyphs">10000</text>
<line x1="461.00" y1="226.50" x2="463.80" y2="226.50" stroke="#111" stroke-width="0.9"/>
<text x="467.10" y="228.50" font-size="5.6" text-anchor="start" fill="#333" stroke="#333" stroke-width="0.15" textLength="11.50" lengthAdjust="spacingAndGlyphs">8000</text>
<line x1="461.00" y1="250.40" x2="463.80" y2="250.40" stroke="#111" stroke-width="0.9"/>
<text x="467.10" y="252.40" font-size="5.6" text-anchor="start" fill="#333" stroke="#333" stroke-width="0.15" textLength="11.50" lengthAdjust="spacingAndGlyphs">6000</text>
<line x1="461.00" y1="274.30" x2="463.80" y2="274.30" stroke="#111" stroke-width="0.9"/>
<text x="467.10" y="276.30" font-size="5.6" text-anchor="start" fill="#333" stroke="#333" stroke-width="0.15" textLength="11.50" lengthAdjust="spacingAndGlyphs">4000</text>
<line x1="461.00" y1="298.20" x2="463.80" y2="298.20" stroke="#111" stroke-width="0.9"/>
<text x="467.10" y="300.20" font-size="5.6" text-anchor="start" fill="#333" stroke="#333" stroke-width="0.15" textLength="11.50" lengthAdjust="spacingAndGlyphs">2000</text>
<text x="452.20" y="193.70" font-size="5.4" text-anchor="start" fill="#444" stroke="#444" stroke-width="0.15" textLength="34.60" lengthAdjust="spacingAndGlyphs">Luminescence</text>
<rect x="0.5" y="0.5" width="519" height="558" fill="none" stroke="#000" stroke-width="1"/>
<rect x="1.5" y="1.5" width="517" height="556" fill="none" stroke="#6e6e6e" stroke-width="1"/>
</svg>
</body></html>
